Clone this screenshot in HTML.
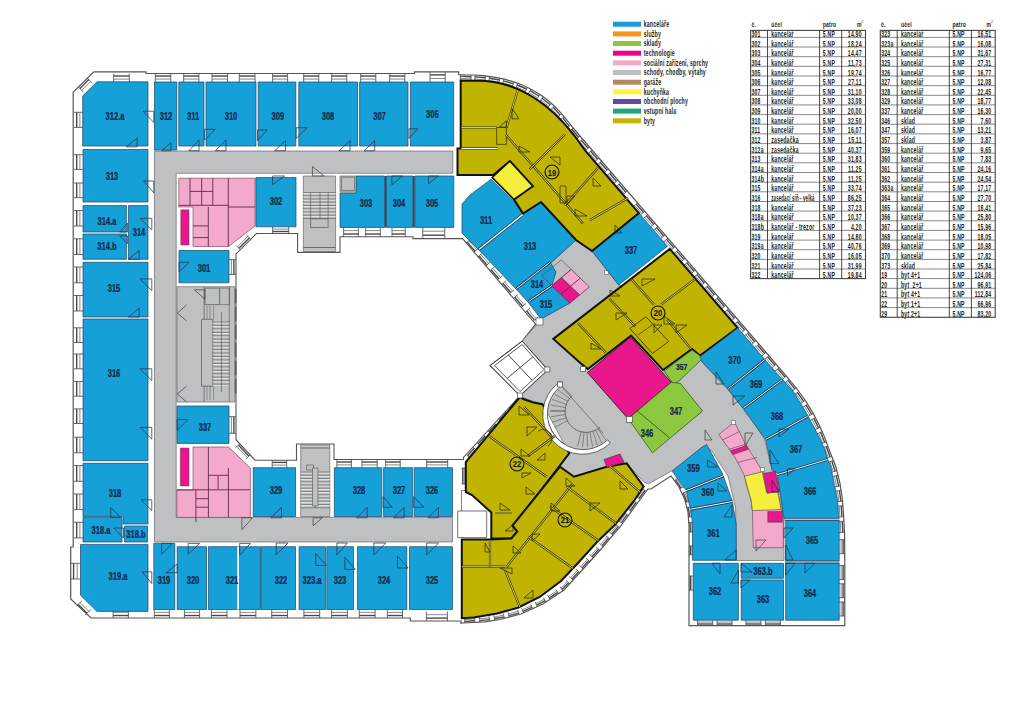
<!DOCTYPE html><html><head><meta charset="utf-8"><style>html,body{margin:0;padding:0;background:#fff;width:1024px;height:720px;overflow:hidden}svg{display:block;font-family:"Liberation Sans",sans-serif}</style></head><body>
<svg width="1024" height="720" viewBox="0 0 1024 720">
<rect width="1024" height="720" fill="#fff"/>
<polygon points="73.2,92.1 93.8,71.8 146.0,71.8 146.0,73.5 414.5,73.5 414.5,71.8 458.6,71.8 458.6,74.5 465.0,74.8 474.1,75.0 482.6,75.6 490.7,76.6 498.2,77.8 505.3,79.4 511.9,81.3 518.1,83.4 523.8,85.7 529.1,88.2 534.1,90.9 538.7,93.7 542.9,96.6 546.8,99.5 550.4,102.5 553.7,105.5 556.8,108.5 559.5,111.4 562.0,114.2 564.3,117.0 566.4,119.6 568.3,122.0 570.1,124.2 571.7,126.2 573.1,128.0 788.3,378.3 797.0,389.0 805.0,400.0 812.5,412.0 819.2,425.0 824.5,437.0 829.2,450.0 832.5,458.3 835.8,466.7 840.0,483.3 842.5,500.0 843.7,516.7 844.6,535.0 844.8,560.0 844.8,625.6 689.0,625.6 689.0,526.0 688.0,512.0 685.0,500.0 679.0,487.0 671.0,476.0 651.0,489.0 648.0,489.0 636.0,505.0 620.0,527.0 602.0,548.0 584.0,568.0 564.0,590.0 543.0,604.0 521.0,614.0 500.0,619.5 485.0,621.8 462.0,623.0 461.0,623.4 461.0,621.0 410.3,621.0 410.3,618.0 91.0,618.0 70.7,599.0 70.7,547.0 73.2,547.0" fill="#ffffff" stroke="#555555" stroke-width="1.20" stroke-linejoin="miter" />
<polygon points="236.0,253.8 256.5,233.5 297.6,233.5 297.6,252.4 340.0,252.4 340.0,236.8 413.0,236.8 413.0,238.6 462.6,238.6 535.6,324.2 522.2,341.1 490.2,365.6 520.0,395.6 463.5,457.5 463.5,459.5 334.0,459.5 334.0,444.0 296.5,444.0 296.5,460.2 255.0,460.2 236.0,439.7" fill="#ffffff" stroke="#555555" stroke-width="1.10" stroke-linejoin="miter" />
<line x1="272.6" y1="233.5" x2="272.6" y2="226.8" stroke="#444" stroke-width="0.80"/>
<line x1="288.8" y1="233.5" x2="288.8" y2="226.8" stroke="#444" stroke-width="0.80"/>
<line x1="272.6" y1="231.5" x2="288.8" y2="231.5" stroke="#4a4a4a" stroke-width="1.40"/>
<line x1="272.6" y1="229.1" x2="288.8" y2="229.1" stroke="#6a6a6a" stroke-width="0.80"/>
<line x1="343.6" y1="236.8" x2="343.6" y2="227.4" stroke="#444" stroke-width="0.80"/>
<line x1="358.3" y1="236.8" x2="358.3" y2="227.4" stroke="#444" stroke-width="0.80"/>
<line x1="343.6" y1="234.0" x2="358.3" y2="234.0" stroke="#4a4a4a" stroke-width="1.40"/>
<line x1="343.6" y1="230.6" x2="358.3" y2="230.6" stroke="#6a6a6a" stroke-width="0.80"/>
<line x1="365.6" y1="236.8" x2="365.6" y2="227.4" stroke="#444" stroke-width="0.80"/>
<line x1="380.3" y1="236.8" x2="380.3" y2="227.4" stroke="#444" stroke-width="0.80"/>
<line x1="365.6" y1="234.0" x2="380.3" y2="234.0" stroke="#4a4a4a" stroke-width="1.40"/>
<line x1="365.6" y1="230.6" x2="380.3" y2="230.6" stroke="#6a6a6a" stroke-width="0.80"/>
<line x1="392.0" y1="236.8" x2="392.0" y2="227.4" stroke="#444" stroke-width="0.80"/>
<line x1="405.2" y1="236.8" x2="405.2" y2="227.4" stroke="#444" stroke-width="0.80"/>
<line x1="392.0" y1="234.0" x2="405.2" y2="234.0" stroke="#4a4a4a" stroke-width="1.40"/>
<line x1="392.0" y1="230.6" x2="405.2" y2="230.6" stroke="#6a6a6a" stroke-width="0.80"/>
<line x1="422.8" y1="238.6" x2="422.8" y2="227.4" stroke="#444" stroke-width="0.80"/>
<line x1="444.8" y1="238.6" x2="444.8" y2="227.4" stroke="#444" stroke-width="0.80"/>
<line x1="422.8" y1="235.2" x2="444.8" y2="235.2" stroke="#4a4a4a" stroke-width="1.40"/>
<line x1="422.8" y1="231.2" x2="444.8" y2="231.2" stroke="#6a6a6a" stroke-width="0.80"/>
<line x1="236.0" y1="259.7" x2="229.0" y2="259.7" stroke="#444" stroke-width="0.80"/>
<line x1="236.0" y1="274.4" x2="229.0" y2="274.4" stroke="#444" stroke-width="0.80"/>
<line x1="233.9" y1="259.7" x2="233.9" y2="274.4" stroke="#4a4a4a" stroke-width="1.40"/>
<line x1="231.4" y1="259.7" x2="231.4" y2="274.4" stroke="#6a6a6a" stroke-width="0.80"/>
<line x1="236.0" y1="416.7" x2="229.0" y2="416.7" stroke="#444" stroke-width="0.80"/>
<line x1="236.0" y1="433.3" x2="229.0" y2="433.3" stroke="#444" stroke-width="0.80"/>
<line x1="233.9" y1="416.7" x2="233.9" y2="433.3" stroke="#4a4a4a" stroke-width="1.40"/>
<line x1="231.4" y1="416.7" x2="231.4" y2="433.3" stroke="#6a6a6a" stroke-width="0.80"/>
<line x1="236.0" y1="289.0" x2="234.8" y2="289.0" stroke="#444" stroke-width="0.80"/>
<line x1="236.0" y1="303.0" x2="234.8" y2="303.0" stroke="#444" stroke-width="0.80"/>
<line x1="235.6" y1="289.0" x2="235.6" y2="303.0" stroke="#4a4a4a" stroke-width="1.40"/>
<line x1="235.2" y1="289.0" x2="235.2" y2="303.0" stroke="#6a6a6a" stroke-width="0.80"/>
<line x1="236.0" y1="307.0" x2="234.8" y2="307.0" stroke="#444" stroke-width="0.80"/>
<line x1="236.0" y1="321.0" x2="234.8" y2="321.0" stroke="#444" stroke-width="0.80"/>
<line x1="235.6" y1="307.0" x2="235.6" y2="321.0" stroke="#4a4a4a" stroke-width="1.40"/>
<line x1="235.2" y1="307.0" x2="235.2" y2="321.0" stroke="#6a6a6a" stroke-width="0.80"/>
<line x1="236.0" y1="325.0" x2="234.8" y2="325.0" stroke="#444" stroke-width="0.80"/>
<line x1="236.0" y1="339.0" x2="234.8" y2="339.0" stroke="#444" stroke-width="0.80"/>
<line x1="235.6" y1="325.0" x2="235.6" y2="339.0" stroke="#4a4a4a" stroke-width="1.40"/>
<line x1="235.2" y1="325.0" x2="235.2" y2="339.0" stroke="#6a6a6a" stroke-width="0.80"/>
<line x1="236.0" y1="343.0" x2="234.8" y2="343.0" stroke="#444" stroke-width="0.80"/>
<line x1="236.0" y1="357.0" x2="234.8" y2="357.0" stroke="#444" stroke-width="0.80"/>
<line x1="235.6" y1="343.0" x2="235.6" y2="357.0" stroke="#4a4a4a" stroke-width="1.40"/>
<line x1="235.2" y1="343.0" x2="235.2" y2="357.0" stroke="#6a6a6a" stroke-width="0.80"/>
<line x1="236.0" y1="361.0" x2="234.8" y2="361.0" stroke="#444" stroke-width="0.80"/>
<line x1="236.0" y1="375.0" x2="234.8" y2="375.0" stroke="#444" stroke-width="0.80"/>
<line x1="235.6" y1="361.0" x2="235.6" y2="375.0" stroke="#4a4a4a" stroke-width="1.40"/>
<line x1="235.2" y1="361.0" x2="235.2" y2="375.0" stroke="#6a6a6a" stroke-width="0.80"/>
<line x1="236.0" y1="379.0" x2="234.8" y2="379.0" stroke="#444" stroke-width="0.80"/>
<line x1="236.0" y1="393.0" x2="234.8" y2="393.0" stroke="#444" stroke-width="0.80"/>
<line x1="235.6" y1="379.0" x2="235.6" y2="393.0" stroke="#4a4a4a" stroke-width="1.40"/>
<line x1="235.2" y1="379.0" x2="235.2" y2="393.0" stroke="#6a6a6a" stroke-width="0.80"/>
<line x1="272.2" y1="460.2" x2="272.2" y2="467.7" stroke="#444" stroke-width="0.80"/>
<line x1="286.7" y1="460.2" x2="286.7" y2="467.7" stroke="#444" stroke-width="0.80"/>
<line x1="272.2" y1="462.4" x2="286.7" y2="462.4" stroke="#4a4a4a" stroke-width="1.40"/>
<line x1="272.2" y1="465.1" x2="286.7" y2="465.1" stroke="#6a6a6a" stroke-width="0.80"/>
<line x1="336.9" y1="459.5" x2="336.9" y2="467.7" stroke="#444" stroke-width="0.80"/>
<line x1="351.4" y1="459.5" x2="351.4" y2="467.7" stroke="#444" stroke-width="0.80"/>
<line x1="336.9" y1="462.0" x2="351.4" y2="462.0" stroke="#4a4a4a" stroke-width="1.40"/>
<line x1="336.9" y1="464.9" x2="351.4" y2="464.9" stroke="#6a6a6a" stroke-width="0.80"/>
<line x1="362.0" y1="459.5" x2="362.0" y2="467.7" stroke="#444" stroke-width="0.80"/>
<line x1="377.2" y1="459.5" x2="377.2" y2="467.7" stroke="#444" stroke-width="0.80"/>
<line x1="362.0" y1="462.0" x2="377.2" y2="462.0" stroke="#4a4a4a" stroke-width="1.40"/>
<line x1="362.0" y1="464.9" x2="377.2" y2="464.9" stroke="#6a6a6a" stroke-width="0.80"/>
<line x1="385.7" y1="459.5" x2="385.7" y2="467.7" stroke="#444" stroke-width="0.80"/>
<line x1="400.2" y1="459.5" x2="400.2" y2="467.7" stroke="#444" stroke-width="0.80"/>
<line x1="385.7" y1="462.0" x2="400.2" y2="462.0" stroke="#4a4a4a" stroke-width="1.40"/>
<line x1="385.7" y1="464.9" x2="400.2" y2="464.9" stroke="#6a6a6a" stroke-width="0.80"/>
<line x1="426.6" y1="459.5" x2="426.6" y2="467.7" stroke="#444" stroke-width="0.80"/>
<line x1="447.7" y1="459.5" x2="447.7" y2="467.7" stroke="#444" stroke-width="0.80"/>
<line x1="426.6" y1="462.0" x2="447.7" y2="462.0" stroke="#4a4a4a" stroke-width="1.40"/>
<line x1="426.6" y1="464.9" x2="447.7" y2="464.9" stroke="#6a6a6a" stroke-width="0.80"/>
<line x1="240.2" y1="249.6" x2="236.0" y2="245.4" stroke="#444" stroke-width="0.80"/>
<line x1="250.6" y1="239.2" x2="246.4" y2="235.0" stroke="#444" stroke-width="0.80"/>
<line x1="238.9" y1="248.3" x2="249.3" y2="237.9" stroke="#4a4a4a" stroke-width="1.40"/>
<line x1="237.4" y1="246.8" x2="247.8" y2="236.4" stroke="#6a6a6a" stroke-width="0.80"/>
<line x1="239.8" y1="443.8" x2="235.4" y2="447.9" stroke="#444" stroke-width="0.80"/>
<line x1="250.2" y1="455.0" x2="245.8" y2="459.1" stroke="#444" stroke-width="0.80"/>
<line x1="238.5" y1="445.0" x2="248.9" y2="456.2" stroke="#4a4a4a" stroke-width="1.40"/>
<line x1="236.9" y1="446.5" x2="247.3" y2="457.7" stroke="#6a6a6a" stroke-width="0.80"/>
<line x1="465.8" y1="243.3" x2="470.5" y2="239.3" stroke="#444" stroke-width="0.80"/>
<line x1="473.7" y1="252.4" x2="478.3" y2="248.4" stroke="#444" stroke-width="0.80"/>
<line x1="467.2" y1="242.1" x2="475.1" y2="251.2" stroke="#4a4a4a" stroke-width="1.40"/>
<line x1="468.9" y1="240.7" x2="476.8" y2="249.7" stroke="#6a6a6a" stroke-width="0.80"/>
<line x1="477.7" y1="257.1" x2="482.4" y2="253.1" stroke="#444" stroke-width="0.80"/>
<line x1="485.5" y1="266.2" x2="490.2" y2="262.1" stroke="#444" stroke-width="0.80"/>
<line x1="479.1" y1="255.9" x2="487.0" y2="265.0" stroke="#4a4a4a" stroke-width="1.40"/>
<line x1="480.8" y1="254.4" x2="488.6" y2="263.5" stroke="#6a6a6a" stroke-width="0.80"/>
<line x1="489.6" y1="270.9" x2="494.3" y2="266.8" stroke="#444" stroke-width="0.80"/>
<line x1="497.4" y1="280.0" x2="502.1" y2="275.9" stroke="#444" stroke-width="0.80"/>
<line x1="491.0" y1="269.7" x2="498.8" y2="278.8" stroke="#4a4a4a" stroke-width="1.40"/>
<line x1="492.7" y1="268.2" x2="500.5" y2="277.3" stroke="#6a6a6a" stroke-width="0.80"/>
<line x1="501.5" y1="284.7" x2="506.2" y2="280.6" stroke="#444" stroke-width="0.80"/>
<line x1="509.3" y1="293.8" x2="514.0" y2="289.7" stroke="#444" stroke-width="0.80"/>
<line x1="502.9" y1="283.5" x2="510.7" y2="292.5" stroke="#4a4a4a" stroke-width="1.40"/>
<line x1="504.6" y1="282.0" x2="512.4" y2="291.1" stroke="#6a6a6a" stroke-width="0.80"/>
<line x1="513.4" y1="298.4" x2="518.1" y2="294.4" stroke="#444" stroke-width="0.80"/>
<line x1="521.2" y1="307.5" x2="525.9" y2="303.5" stroke="#444" stroke-width="0.80"/>
<line x1="514.8" y1="297.2" x2="522.6" y2="306.3" stroke="#4a4a4a" stroke-width="1.40"/>
<line x1="516.5" y1="295.8" x2="524.3" y2="304.9" stroke="#6a6a6a" stroke-width="0.80"/>
<line x1="525.3" y1="312.2" x2="530.0" y2="308.2" stroke="#444" stroke-width="0.80"/>
<line x1="533.1" y1="321.3" x2="537.8" y2="317.3" stroke="#444" stroke-width="0.80"/>
<line x1="526.7" y1="311.0" x2="534.5" y2="320.1" stroke="#4a4a4a" stroke-width="1.40"/>
<line x1="528.4" y1="309.5" x2="536.2" y2="318.6" stroke="#6a6a6a" stroke-width="0.80"/>
<line x1="515.7" y1="399.5" x2="519.4" y2="402.8" stroke="#444" stroke-width="0.80"/>
<line x1="509.1" y1="407.0" x2="512.8" y2="410.3" stroke="#444" stroke-width="0.80"/>
<line x1="516.8" y1="400.5" x2="510.2" y2="407.9" stroke="#4a4a4a" stroke-width="1.40"/>
<line x1="518.2" y1="401.7" x2="511.5" y2="409.1" stroke="#6a6a6a" stroke-width="0.80"/>
<line x1="505.1" y1="411.4" x2="508.8" y2="414.8" stroke="#444" stroke-width="0.80"/>
<line x1="498.4" y1="418.9" x2="502.2" y2="422.2" stroke="#444" stroke-width="0.80"/>
<line x1="506.2" y1="412.4" x2="499.5" y2="419.9" stroke="#4a4a4a" stroke-width="1.40"/>
<line x1="507.5" y1="413.6" x2="500.9" y2="421.1" stroke="#6a6a6a" stroke-width="0.80"/>
<line x1="494.4" y1="423.4" x2="498.2" y2="426.7" stroke="#444" stroke-width="0.80"/>
<line x1="487.8" y1="430.9" x2="491.5" y2="434.2" stroke="#444" stroke-width="0.80"/>
<line x1="495.6" y1="424.4" x2="488.9" y2="431.8" stroke="#4a4a4a" stroke-width="1.40"/>
<line x1="496.9" y1="425.6" x2="490.2" y2="433.0" stroke="#6a6a6a" stroke-width="0.80"/>
<line x1="483.8" y1="435.3" x2="487.5" y2="438.7" stroke="#444" stroke-width="0.80"/>
<line x1="477.1" y1="442.8" x2="480.9" y2="446.1" stroke="#444" stroke-width="0.80"/>
<line x1="484.9" y1="436.3" x2="478.3" y2="443.8" stroke="#4a4a4a" stroke-width="1.40"/>
<line x1="486.3" y1="437.5" x2="479.6" y2="445.0" stroke="#6a6a6a" stroke-width="0.80"/>
<line x1="473.2" y1="447.3" x2="476.9" y2="450.6" stroke="#444" stroke-width="0.80"/>
<line x1="466.5" y1="454.8" x2="470.2" y2="458.1" stroke="#444" stroke-width="0.80"/>
<line x1="474.3" y1="448.3" x2="467.6" y2="455.7" stroke="#4a4a4a" stroke-width="1.40"/>
<line x1="475.6" y1="449.5" x2="469.0" y2="456.9" stroke="#6a6a6a" stroke-width="0.80"/>
<polygon points="457.7,511.0 486.7,511.0 486.7,537.6 457.7,537.6" fill="none" stroke="#505050" stroke-width="0.80" stroke-linejoin="miter" />
<polyline points="461.5,511.0 461.5,490.5 486.7,490.5" fill="none" stroke="#505050" stroke-width="0.70"/>
<line x1="461.5" y1="468.0" x2="465.8" y2="468.0" stroke="#444" stroke-width="0.80"/>
<line x1="461.5" y1="484.0" x2="465.8" y2="484.0" stroke="#444" stroke-width="0.80"/>
<line x1="462.8" y1="468.0" x2="462.8" y2="484.0" stroke="#4a4a4a" stroke-width="1.40"/>
<line x1="464.3" y1="468.0" x2="464.3" y2="484.0" stroke="#6a6a6a" stroke-width="0.80"/>
<line x1="460.6" y1="74.6" x2="460.3" y2="80.6" stroke="#444" stroke-width="0.80"/>
<line x1="471.1" y1="74.9" x2="471.0" y2="80.9" stroke="#444" stroke-width="0.80"/>
<line x1="460.5" y1="76.4" x2="471.1" y2="76.7" stroke="#4a4a4a" stroke-width="1.40"/>
<line x1="460.4" y1="78.5" x2="471.0" y2="78.9" stroke="#6a6a6a" stroke-width="0.80"/>
<line x1="475.1" y1="75.1" x2="474.7" y2="81.1" stroke="#444" stroke-width="0.80"/>
<line x1="485.5" y1="75.9" x2="484.8" y2="81.9" stroke="#444" stroke-width="0.80"/>
<line x1="475.0" y1="76.9" x2="485.3" y2="77.7" stroke="#4a4a4a" stroke-width="1.40"/>
<line x1="474.8" y1="79.0" x2="485.1" y2="79.9" stroke="#6a6a6a" stroke-width="0.80"/>
<line x1="489.5" y1="76.4" x2="488.8" y2="82.4" stroke="#444" stroke-width="0.80"/>
<line x1="499.9" y1="78.2" x2="498.5" y2="84.1" stroke="#444" stroke-width="0.80"/>
<line x1="489.3" y1="78.2" x2="499.5" y2="80.0" stroke="#4a4a4a" stroke-width="1.40"/>
<line x1="489.1" y1="80.4" x2="499.0" y2="82.1" stroke="#6a6a6a" stroke-width="0.80"/>
<line x1="503.8" y1="79.1" x2="502.4" y2="84.9" stroke="#444" stroke-width="0.80"/>
<line x1="513.9" y1="82.0" x2="511.9" y2="87.6" stroke="#444" stroke-width="0.80"/>
<line x1="503.4" y1="80.9" x2="513.3" y2="83.7" stroke="#4a4a4a" stroke-width="1.40"/>
<line x1="502.9" y1="83.0" x2="512.6" y2="85.7" stroke="#6a6a6a" stroke-width="0.80"/>
<line x1="517.6" y1="83.3" x2="515.7" y2="88.9" stroke="#444" stroke-width="0.80"/>
<line x1="527.3" y1="87.4" x2="524.8" y2="92.8" stroke="#444" stroke-width="0.80"/>
<line x1="517.1" y1="85.0" x2="526.5" y2="89.0" stroke="#4a4a4a" stroke-width="1.40"/>
<line x1="516.4" y1="87.0" x2="525.6" y2="91.0" stroke="#6a6a6a" stroke-width="0.80"/>
<line x1="530.9" y1="89.2" x2="528.0" y2="94.4" stroke="#444" stroke-width="0.80"/>
<line x1="539.9" y1="94.5" x2="536.5" y2="99.5" stroke="#444" stroke-width="0.80"/>
<line x1="530.0" y1="90.7" x2="538.9" y2="96.0" stroke="#4a4a4a" stroke-width="1.40"/>
<line x1="529.0" y1="92.6" x2="537.7" y2="97.8" stroke="#6a6a6a" stroke-width="0.80"/>
<line x1="543.2" y1="96.8" x2="539.6" y2="101.6" stroke="#444" stroke-width="0.80"/>
<line x1="551.4" y1="103.4" x2="547.3" y2="107.8" stroke="#444" stroke-width="0.80"/>
<line x1="542.1" y1="98.2" x2="550.2" y2="104.7" stroke="#4a4a4a" stroke-width="1.40"/>
<line x1="540.8" y1="99.9" x2="548.7" y2="106.3" stroke="#6a6a6a" stroke-width="0.80"/>
<line x1="554.3" y1="106.1" x2="550.1" y2="110.3" stroke="#444" stroke-width="0.80"/>
<line x1="561.5" y1="113.7" x2="557.1" y2="117.7" stroke="#444" stroke-width="0.80"/>
<line x1="553.1" y1="107.3" x2="560.2" y2="114.9" stroke="#4a4a4a" stroke-width="1.40"/>
<line x1="551.5" y1="108.9" x2="558.6" y2="116.3" stroke="#6a6a6a" stroke-width="0.80"/>
<line x1="564.1" y1="116.7" x2="559.5" y2="120.6" stroke="#444" stroke-width="0.80"/>
<line x1="570.6" y1="125.0" x2="565.9" y2="128.7" stroke="#444" stroke-width="0.80"/>
<line x1="562.8" y1="117.9" x2="569.2" y2="126.1" stroke="#4a4a4a" stroke-width="1.40"/>
<line x1="561.1" y1="119.3" x2="567.5" y2="127.4" stroke="#6a6a6a" stroke-width="0.80"/>
<line x1="573.2" y1="128.1" x2="568.6" y2="132.0" stroke="#444" stroke-width="0.80"/>
<line x1="580.0" y1="136.0" x2="575.5" y2="139.9" stroke="#444" stroke-width="0.80"/>
<line x1="571.8" y1="129.2" x2="578.6" y2="137.2" stroke="#4a4a4a" stroke-width="1.40"/>
<line x1="570.2" y1="130.7" x2="577.0" y2="138.6" stroke="#6a6a6a" stroke-width="0.80"/>
<line x1="582.6" y1="139.1" x2="578.1" y2="143.0" stroke="#444" stroke-width="0.80"/>
<line x1="589.5" y1="147.0" x2="584.9" y2="150.9" stroke="#444" stroke-width="0.80"/>
<line x1="581.2" y1="140.2" x2="588.1" y2="148.2" stroke="#4a4a4a" stroke-width="1.40"/>
<line x1="579.6" y1="141.6" x2="586.5" y2="149.6" stroke="#6a6a6a" stroke-width="0.80"/>
<line x1="592.1" y1="150.1" x2="587.5" y2="154.0" stroke="#444" stroke-width="0.80"/>
<line x1="598.9" y1="158.0" x2="594.4" y2="161.9" stroke="#444" stroke-width="0.80"/>
<line x1="590.7" y1="151.2" x2="597.5" y2="159.2" stroke="#4a4a4a" stroke-width="1.40"/>
<line x1="589.1" y1="152.6" x2="595.9" y2="160.6" stroke="#6a6a6a" stroke-width="0.80"/>
<line x1="601.5" y1="161.1" x2="597.0" y2="165.0" stroke="#444" stroke-width="0.80"/>
<line x1="608.4" y1="169.0" x2="603.8" y2="172.9" stroke="#444" stroke-width="0.80"/>
<line x1="600.1" y1="162.2" x2="607.0" y2="170.2" stroke="#4a4a4a" stroke-width="1.40"/>
<line x1="598.5" y1="163.6" x2="605.4" y2="171.6" stroke="#6a6a6a" stroke-width="0.80"/>
<line x1="611.0" y1="172.1" x2="606.4" y2="176.0" stroke="#444" stroke-width="0.80"/>
<line x1="617.8" y1="180.0" x2="613.3" y2="183.9" stroke="#444" stroke-width="0.80"/>
<line x1="609.6" y1="173.2" x2="616.4" y2="181.2" stroke="#4a4a4a" stroke-width="1.40"/>
<line x1="608.0" y1="174.6" x2="614.8" y2="182.6" stroke="#6a6a6a" stroke-width="0.80"/>
<line x1="620.4" y1="183.1" x2="615.9" y2="187.0" stroke="#444" stroke-width="0.80"/>
<line x1="627.3" y1="191.0" x2="622.7" y2="194.9" stroke="#444" stroke-width="0.80"/>
<line x1="619.0" y1="184.2" x2="625.9" y2="192.2" stroke="#4a4a4a" stroke-width="1.40"/>
<line x1="617.4" y1="185.6" x2="624.3" y2="193.6" stroke="#6a6a6a" stroke-width="0.80"/>
<line x1="637.6" y1="203.0" x2="633.3" y2="206.7" stroke="#444" stroke-width="0.80"/>
<line x1="644.8" y1="211.4" x2="640.5" y2="215.0" stroke="#444" stroke-width="0.80"/>
<line x1="636.3" y1="204.1" x2="643.5" y2="212.5" stroke="#4a4a4a" stroke-width="1.40"/>
<line x1="634.8" y1="205.4" x2="642.0" y2="213.8" stroke="#6a6a6a" stroke-width="0.80"/>
<line x1="647.7" y1="214.8" x2="643.4" y2="218.4" stroke="#444" stroke-width="0.80"/>
<line x1="654.9" y1="223.1" x2="650.6" y2="226.8" stroke="#444" stroke-width="0.80"/>
<line x1="646.4" y1="215.9" x2="653.6" y2="224.2" stroke="#4a4a4a" stroke-width="1.40"/>
<line x1="644.9" y1="217.2" x2="652.1" y2="225.5" stroke="#6a6a6a" stroke-width="0.80"/>
<line x1="657.8" y1="226.5" x2="653.5" y2="230.2" stroke="#444" stroke-width="0.80"/>
<line x1="665.0" y1="234.9" x2="660.7" y2="238.5" stroke="#444" stroke-width="0.80"/>
<line x1="656.5" y1="227.6" x2="663.7" y2="236.0" stroke="#4a4a4a" stroke-width="1.40"/>
<line x1="655.0" y1="228.9" x2="662.2" y2="237.3" stroke="#6a6a6a" stroke-width="0.80"/>
<line x1="667.9" y1="238.3" x2="663.7" y2="241.9" stroke="#444" stroke-width="0.80"/>
<line x1="675.1" y1="246.6" x2="670.8" y2="250.3" stroke="#444" stroke-width="0.80"/>
<line x1="666.6" y1="239.4" x2="673.8" y2="247.7" stroke="#4a4a4a" stroke-width="1.40"/>
<line x1="665.1" y1="240.7" x2="672.3" y2="249.0" stroke="#6a6a6a" stroke-width="0.80"/>
<line x1="678.0" y1="250.0" x2="673.8" y2="253.7" stroke="#444" stroke-width="0.80"/>
<line x1="685.2" y1="258.4" x2="680.9" y2="262.0" stroke="#444" stroke-width="0.80"/>
<line x1="676.7" y1="251.1" x2="683.9" y2="259.5" stroke="#4a4a4a" stroke-width="1.40"/>
<line x1="675.2" y1="252.5" x2="682.4" y2="260.8" stroke="#6a6a6a" stroke-width="0.80"/>
<line x1="688.1" y1="261.8" x2="683.9" y2="265.4" stroke="#444" stroke-width="0.80"/>
<line x1="695.3" y1="270.1" x2="691.0" y2="273.8" stroke="#444" stroke-width="0.80"/>
<line x1="686.8" y1="262.9" x2="694.0" y2="271.2" stroke="#4a4a4a" stroke-width="1.40"/>
<line x1="685.3" y1="264.2" x2="692.5" y2="272.5" stroke="#6a6a6a" stroke-width="0.80"/>
<line x1="698.2" y1="273.5" x2="694.0" y2="277.2" stroke="#444" stroke-width="0.80"/>
<line x1="705.4" y1="281.9" x2="701.1" y2="285.5" stroke="#444" stroke-width="0.80"/>
<line x1="696.9" y1="274.6" x2="704.1" y2="283.0" stroke="#4a4a4a" stroke-width="1.40"/>
<line x1="695.4" y1="276.0" x2="702.6" y2="284.3" stroke="#6a6a6a" stroke-width="0.80"/>
<line x1="708.3" y1="285.3" x2="704.1" y2="289.0" stroke="#444" stroke-width="0.80"/>
<line x1="715.5" y1="293.6" x2="711.2" y2="297.3" stroke="#444" stroke-width="0.80"/>
<line x1="707.0" y1="286.4" x2="714.2" y2="294.7" stroke="#4a4a4a" stroke-width="1.40"/>
<line x1="705.5" y1="287.7" x2="712.7" y2="296.1" stroke="#6a6a6a" stroke-width="0.80"/>
<line x1="718.4" y1="297.1" x2="714.2" y2="300.7" stroke="#444" stroke-width="0.80"/>
<line x1="725.6" y1="305.4" x2="721.4" y2="309.0" stroke="#444" stroke-width="0.80"/>
<line x1="717.2" y1="298.2" x2="724.3" y2="306.5" stroke="#4a4a4a" stroke-width="1.40"/>
<line x1="715.6" y1="299.5" x2="722.8" y2="307.8" stroke="#6a6a6a" stroke-width="0.80"/>
<line x1="728.5" y1="308.8" x2="724.3" y2="312.5" stroke="#444" stroke-width="0.80"/>
<line x1="735.7" y1="317.1" x2="731.5" y2="320.8" stroke="#444" stroke-width="0.80"/>
<line x1="727.3" y1="309.9" x2="734.4" y2="318.2" stroke="#4a4a4a" stroke-width="1.40"/>
<line x1="725.7" y1="311.2" x2="732.9" y2="319.6" stroke="#6a6a6a" stroke-width="0.80"/>
<line x1="738.6" y1="320.6" x2="734.4" y2="324.2" stroke="#444" stroke-width="0.80"/>
<line x1="745.8" y1="328.9" x2="741.6" y2="332.6" stroke="#444" stroke-width="0.80"/>
<line x1="737.4" y1="321.7" x2="744.5" y2="330.0" stroke="#4a4a4a" stroke-width="1.40"/>
<line x1="735.8" y1="323.0" x2="743.0" y2="331.3" stroke="#6a6a6a" stroke-width="0.80"/>
<line x1="748.7" y1="332.3" x2="744.5" y2="336.0" stroke="#444" stroke-width="0.80"/>
<line x1="755.9" y1="340.7" x2="751.7" y2="344.3" stroke="#444" stroke-width="0.80"/>
<line x1="747.5" y1="333.4" x2="754.6" y2="341.7" stroke="#4a4a4a" stroke-width="1.40"/>
<line x1="745.9" y1="334.7" x2="753.1" y2="343.1" stroke="#6a6a6a" stroke-width="0.80"/>
<line x1="758.9" y1="344.1" x2="754.6" y2="347.7" stroke="#444" stroke-width="0.80"/>
<line x1="766.0" y1="352.4" x2="761.8" y2="356.1" stroke="#444" stroke-width="0.80"/>
<line x1="757.6" y1="345.2" x2="764.7" y2="353.5" stroke="#4a4a4a" stroke-width="1.40"/>
<line x1="756.0" y1="346.5" x2="763.2" y2="354.8" stroke="#6a6a6a" stroke-width="0.80"/>
<line x1="769.0" y1="355.8" x2="764.7" y2="359.5" stroke="#444" stroke-width="0.80"/>
<line x1="776.1" y1="364.2" x2="771.9" y2="367.8" stroke="#444" stroke-width="0.80"/>
<line x1="767.7" y1="356.9" x2="774.9" y2="365.3" stroke="#4a4a4a" stroke-width="1.40"/>
<line x1="766.2" y1="358.2" x2="773.3" y2="366.6" stroke="#6a6a6a" stroke-width="0.80"/>
<line x1="779.1" y1="367.6" x2="774.8" y2="371.2" stroke="#444" stroke-width="0.80"/>
<line x1="786.2" y1="375.9" x2="782.0" y2="379.6" stroke="#444" stroke-width="0.80"/>
<line x1="777.8" y1="368.7" x2="785.0" y2="377.0" stroke="#4a4a4a" stroke-width="1.40"/>
<line x1="776.3" y1="370.0" x2="783.4" y2="378.3" stroke="#6a6a6a" stroke-width="0.80"/>
<line x1="789.1" y1="379.3" x2="784.8" y2="382.9" stroke="#444" stroke-width="0.80"/>
<line x1="796.1" y1="387.9" x2="791.7" y2="391.4" stroke="#444" stroke-width="0.80"/>
<line x1="787.8" y1="380.4" x2="794.8" y2="388.9" stroke="#4a4a4a" stroke-width="1.40"/>
<line x1="786.3" y1="381.7" x2="793.2" y2="390.2" stroke="#6a6a6a" stroke-width="0.80"/>
<line x1="798.8" y1="391.5" x2="794.3" y2="394.8" stroke="#444" stroke-width="0.80"/>
<line x1="805.2" y1="400.4" x2="800.5" y2="403.4" stroke="#444" stroke-width="0.80"/>
<line x1="797.4" y1="392.5" x2="803.8" y2="401.3" stroke="#4a4a4a" stroke-width="1.40"/>
<line x1="795.8" y1="393.6" x2="802.1" y2="402.3" stroke="#6a6a6a" stroke-width="0.80"/>
<line x1="807.6" y1="404.2" x2="802.9" y2="407.2" stroke="#444" stroke-width="0.80"/>
<line x1="813.3" y1="413.6" x2="808.3" y2="416.2" stroke="#444" stroke-width="0.80"/>
<line x1="806.2" y1="405.1" x2="811.8" y2="414.4" stroke="#4a4a4a" stroke-width="1.40"/>
<line x1="804.5" y1="406.2" x2="810.0" y2="415.3" stroke="#6a6a6a" stroke-width="0.80"/>
<line x1="815.4" y1="417.6" x2="810.4" y2="420.2" stroke="#444" stroke-width="0.80"/>
<line x1="820.3" y1="427.4" x2="815.2" y2="429.7" stroke="#444" stroke-width="0.80"/>
<line x1="813.9" y1="418.4" x2="818.7" y2="428.1" stroke="#4a4a4a" stroke-width="1.40"/>
<line x1="812.1" y1="419.3" x2="816.9" y2="428.9" stroke="#6a6a6a" stroke-width="0.80"/>
<line x1="822.1" y1="431.6" x2="817.0" y2="433.8" stroke="#444" stroke-width="0.80"/>
<line x1="826.2" y1="441.8" x2="821.0" y2="443.7" stroke="#444" stroke-width="0.80"/>
<line x1="820.6" y1="432.2" x2="824.6" y2="442.3" stroke="#4a4a4a" stroke-width="1.40"/>
<line x1="818.7" y1="433.1" x2="822.7" y2="443.0" stroke="#6a6a6a" stroke-width="0.80"/>
<line x1="827.7" y1="446.0" x2="822.5" y2="447.9" stroke="#444" stroke-width="0.80"/>
<line x1="831.7" y1="456.3" x2="826.5" y2="458.3" stroke="#444" stroke-width="0.80"/>
<line x1="826.2" y1="446.6" x2="830.1" y2="456.9" stroke="#4a4a4a" stroke-width="1.40"/>
<line x1="824.3" y1="447.2" x2="828.3" y2="457.6" stroke="#6a6a6a" stroke-width="0.80"/>
<line x1="833.3" y1="460.4" x2="828.1" y2="462.5" stroke="#444" stroke-width="0.80"/>
<line x1="836.8" y1="470.8" x2="831.4" y2="472.2" stroke="#444" stroke-width="0.80"/>
<line x1="831.8" y1="461.1" x2="835.2" y2="471.3" stroke="#4a4a4a" stroke-width="1.40"/>
<line x1="829.9" y1="461.8" x2="833.3" y2="471.8" stroke="#6a6a6a" stroke-width="0.80"/>
<line x1="838.0" y1="475.2" x2="832.5" y2="476.6" stroke="#444" stroke-width="0.80"/>
<line x1="840.4" y1="485.9" x2="834.9" y2="486.8" stroke="#444" stroke-width="0.80"/>
<line x1="836.3" y1="475.6" x2="838.7" y2="486.2" stroke="#4a4a4a" stroke-width="1.40"/>
<line x1="834.4" y1="476.1" x2="836.7" y2="486.5" stroke="#6a6a6a" stroke-width="0.80"/>
<line x1="841.1" y1="490.4" x2="835.5" y2="491.2" stroke="#444" stroke-width="0.80"/>
<line x1="842.6" y1="501.3" x2="837.0" y2="501.7" stroke="#444" stroke-width="0.80"/>
<line x1="839.4" y1="490.6" x2="840.9" y2="501.4" stroke="#4a4a4a" stroke-width="1.40"/>
<line x1="837.4" y1="490.9" x2="838.9" y2="501.5" stroke="#6a6a6a" stroke-width="0.80"/>
<line x1="842.9" y1="505.8" x2="837.3" y2="506.2" stroke="#444" stroke-width="0.80"/>
<line x1="843.7" y1="516.7" x2="838.1" y2="517.0" stroke="#444" stroke-width="0.80"/>
<line x1="841.2" y1="505.9" x2="842.0" y2="516.8" stroke="#4a4a4a" stroke-width="1.40"/>
<line x1="839.2" y1="506.0" x2="840.0" y2="516.9" stroke="#6a6a6a" stroke-width="0.80"/>
<line x1="843.9" y1="521.2" x2="838.3" y2="521.5" stroke="#444" stroke-width="0.80"/>
<line x1="844.5" y1="532.2" x2="838.9" y2="532.5" stroke="#444" stroke-width="0.80"/>
<line x1="842.2" y1="521.3" x2="842.8" y2="532.3" stroke="#4a4a4a" stroke-width="1.40"/>
<line x1="840.2" y1="521.4" x2="840.8" y2="532.4" stroke="#6a6a6a" stroke-width="0.80"/>
<line x1="844.8" y1="539.7" x2="839.2" y2="539.7" stroke="#444" stroke-width="0.80"/>
<line x1="844.8" y1="553.7" x2="839.2" y2="553.7" stroke="#444" stroke-width="0.80"/>
<line x1="843.1" y1="539.7" x2="843.1" y2="553.7" stroke="#4a4a4a" stroke-width="1.40"/>
<line x1="841.1" y1="539.7" x2="841.1" y2="553.7" stroke="#6a6a6a" stroke-width="0.80"/>
<line x1="844.8" y1="565.5" x2="839.2" y2="565.5" stroke="#444" stroke-width="0.80"/>
<line x1="844.8" y1="579.5" x2="839.2" y2="579.5" stroke="#444" stroke-width="0.80"/>
<line x1="843.1" y1="565.5" x2="843.1" y2="579.5" stroke="#4a4a4a" stroke-width="1.40"/>
<line x1="841.1" y1="565.5" x2="841.1" y2="579.5" stroke="#6a6a6a" stroke-width="0.80"/>
<line x1="844.8" y1="583.8" x2="839.2" y2="583.8" stroke="#444" stroke-width="0.80"/>
<line x1="844.8" y1="597.7" x2="839.2" y2="597.7" stroke="#444" stroke-width="0.80"/>
<line x1="843.1" y1="583.8" x2="843.1" y2="597.7" stroke="#4a4a4a" stroke-width="1.40"/>
<line x1="841.1" y1="583.8" x2="841.1" y2="597.7" stroke="#6a6a6a" stroke-width="0.80"/>
<line x1="844.8" y1="602.0" x2="839.2" y2="602.0" stroke="#444" stroke-width="0.80"/>
<line x1="844.8" y1="616.0" x2="839.2" y2="616.0" stroke="#444" stroke-width="0.80"/>
<line x1="843.1" y1="602.0" x2="843.1" y2="616.0" stroke="#4a4a4a" stroke-width="1.40"/>
<line x1="841.1" y1="602.0" x2="841.1" y2="616.0" stroke="#6a6a6a" stroke-width="0.80"/>
<line x1="697.6" y1="625.6" x2="697.6" y2="620.2" stroke="#444" stroke-width="0.80"/>
<line x1="712.7" y1="625.6" x2="712.7" y2="620.2" stroke="#444" stroke-width="0.80"/>
<line x1="697.6" y1="624.0" x2="712.7" y2="624.0" stroke="#4a4a4a" stroke-width="1.40"/>
<line x1="697.6" y1="622.0" x2="712.7" y2="622.0" stroke="#6a6a6a" stroke-width="0.80"/>
<line x1="717.0" y1="625.6" x2="717.0" y2="620.2" stroke="#444" stroke-width="0.80"/>
<line x1="732.0" y1="625.6" x2="732.0" y2="620.2" stroke="#444" stroke-width="0.80"/>
<line x1="717.0" y1="624.0" x2="732.0" y2="624.0" stroke="#4a4a4a" stroke-width="1.40"/>
<line x1="717.0" y1="622.0" x2="732.0" y2="622.0" stroke="#6a6a6a" stroke-width="0.80"/>
<line x1="746.0" y1="625.6" x2="746.0" y2="620.2" stroke="#444" stroke-width="0.80"/>
<line x1="761.0" y1="625.6" x2="761.0" y2="620.2" stroke="#444" stroke-width="0.80"/>
<line x1="746.0" y1="624.0" x2="761.0" y2="624.0" stroke="#4a4a4a" stroke-width="1.40"/>
<line x1="746.0" y1="622.0" x2="761.0" y2="622.0" stroke="#6a6a6a" stroke-width="0.80"/>
<line x1="765.4" y1="625.6" x2="765.4" y2="620.2" stroke="#444" stroke-width="0.80"/>
<line x1="780.4" y1="625.6" x2="780.4" y2="620.2" stroke="#444" stroke-width="0.80"/>
<line x1="765.4" y1="624.0" x2="780.4" y2="624.0" stroke="#4a4a4a" stroke-width="1.40"/>
<line x1="765.4" y1="622.0" x2="780.4" y2="622.0" stroke="#6a6a6a" stroke-width="0.80"/>
<line x1="689.0" y1="546.0" x2="693.3" y2="546.0" stroke="#444" stroke-width="0.80"/>
<line x1="689.0" y1="554.7" x2="693.3" y2="554.7" stroke="#444" stroke-width="0.80"/>
<line x1="690.3" y1="546.0" x2="690.3" y2="554.7" stroke="#4a4a4a" stroke-width="1.40"/>
<line x1="691.8" y1="546.0" x2="691.8" y2="554.7" stroke="#6a6a6a" stroke-width="0.80"/>
<line x1="689.0" y1="576.0" x2="693.3" y2="576.0" stroke="#444" stroke-width="0.80"/>
<line x1="689.0" y1="590.0" x2="693.3" y2="590.0" stroke="#444" stroke-width="0.80"/>
<line x1="690.3" y1="576.0" x2="690.3" y2="590.0" stroke="#4a4a4a" stroke-width="1.40"/>
<line x1="691.8" y1="576.0" x2="691.8" y2="590.0" stroke="#6a6a6a" stroke-width="0.80"/>
<line x1="689.0" y1="532.0" x2="693.5" y2="532.0" stroke="#444" stroke-width="0.80"/>
<line x1="688.8" y1="522.5" x2="693.2" y2="522.2" stroke="#444" stroke-width="0.80"/>
<line x1="690.4" y1="532.0" x2="690.1" y2="522.4" stroke="#4a4a4a" stroke-width="1.40"/>
<line x1="692.0" y1="532.0" x2="691.7" y2="522.3" stroke="#6a6a6a" stroke-width="0.80"/>
<line x1="688.4" y1="517.0" x2="692.8" y2="516.7" stroke="#444" stroke-width="0.80"/>
<line x1="686.9" y1="507.7" x2="691.3" y2="506.6" stroke="#444" stroke-width="0.80"/>
<line x1="689.7" y1="516.9" x2="688.2" y2="507.3" stroke="#4a4a4a" stroke-width="1.40"/>
<line x1="691.3" y1="516.8" x2="689.8" y2="506.9" stroke="#6a6a6a" stroke-width="0.80"/>
<line x1="685.6" y1="502.3" x2="689.9" y2="501.2" stroke="#444" stroke-width="0.80"/>
<line x1="682.0" y1="493.6" x2="686.1" y2="491.7" stroke="#444" stroke-width="0.80"/>
<line x1="686.9" y1="502.0" x2="683.3" y2="493.0" stroke="#4a4a4a" stroke-width="1.40"/>
<line x1="688.5" y1="501.6" x2="684.7" y2="492.3" stroke="#6a6a6a" stroke-width="0.80"/>
<line x1="679.7" y1="488.6" x2="683.8" y2="486.7" stroke="#444" stroke-width="0.80"/>
<line x1="674.4" y1="480.7" x2="678.1" y2="478.1" stroke="#444" stroke-width="0.80"/>
<line x1="680.9" y1="488.0" x2="675.5" y2="479.9" stroke="#4a4a4a" stroke-width="1.40"/>
<line x1="682.4" y1="487.3" x2="676.8" y2="479.0" stroke="#6a6a6a" stroke-width="0.80"/>
<line x1="646.2" y1="491.4" x2="642.2" y2="488.4" stroke="#444" stroke-width="0.80"/>
<line x1="640.2" y1="499.4" x2="636.2" y2="496.4" stroke="#444" stroke-width="0.80"/>
<line x1="645.0" y1="490.5" x2="639.0" y2="498.5" stroke="#4a4a4a" stroke-width="1.40"/>
<line x1="643.6" y1="489.4" x2="637.6" y2="497.4" stroke="#6a6a6a" stroke-width="0.80"/>
<line x1="637.2" y1="503.4" x2="633.2" y2="500.4" stroke="#444" stroke-width="0.80"/>
<line x1="631.3" y1="511.5" x2="627.3" y2="508.5" stroke="#444" stroke-width="0.80"/>
<line x1="636.0" y1="502.5" x2="630.1" y2="510.6" stroke="#4a4a4a" stroke-width="1.40"/>
<line x1="634.6" y1="501.4" x2="628.6" y2="509.5" stroke="#6a6a6a" stroke-width="0.80"/>
<line x1="628.4" y1="515.5" x2="624.3" y2="512.6" stroke="#444" stroke-width="0.80"/>
<line x1="622.5" y1="523.6" x2="618.4" y2="520.7" stroke="#444" stroke-width="0.80"/>
<line x1="627.1" y1="514.6" x2="621.3" y2="522.7" stroke="#4a4a4a" stroke-width="1.40"/>
<line x1="625.7" y1="513.6" x2="619.8" y2="521.7" stroke="#6a6a6a" stroke-width="0.80"/>
<line x1="619.5" y1="527.6" x2="615.7" y2="524.4" stroke="#444" stroke-width="0.80"/>
<line x1="613.0" y1="535.2" x2="609.2" y2="531.9" stroke="#444" stroke-width="0.80"/>
<line x1="618.3" y1="526.6" x2="611.8" y2="534.2" stroke="#4a4a4a" stroke-width="1.40"/>
<line x1="617.0" y1="525.5" x2="610.5" y2="533.1" stroke="#6a6a6a" stroke-width="0.80"/>
<line x1="609.7" y1="539.0" x2="605.9" y2="535.7" stroke="#444" stroke-width="0.80"/>
<line x1="603.2" y1="546.6" x2="599.4" y2="543.3" stroke="#444" stroke-width="0.80"/>
<line x1="608.6" y1="538.0" x2="602.1" y2="545.6" stroke="#4a4a4a" stroke-width="1.40"/>
<line x1="607.2" y1="536.8" x2="600.7" y2="544.4" stroke="#6a6a6a" stroke-width="0.80"/>
<line x1="599.9" y1="550.3" x2="596.2" y2="547.0" stroke="#444" stroke-width="0.80"/>
<line x1="593.2" y1="557.8" x2="589.5" y2="554.4" stroke="#444" stroke-width="0.80"/>
<line x1="598.8" y1="549.3" x2="592.1" y2="556.8" stroke="#4a4a4a" stroke-width="1.40"/>
<line x1="597.4" y1="548.1" x2="590.8" y2="555.6" stroke="#6a6a6a" stroke-width="0.80"/>
<line x1="589.9" y1="561.5" x2="586.1" y2="558.1" stroke="#444" stroke-width="0.80"/>
<line x1="583.2" y1="568.9" x2="579.5" y2="565.5" stroke="#444" stroke-width="0.80"/>
<line x1="588.8" y1="560.5" x2="582.1" y2="567.9" stroke="#4a4a4a" stroke-width="1.40"/>
<line x1="587.4" y1="559.3" x2="580.7" y2="566.7" stroke="#6a6a6a" stroke-width="0.80"/>
<line x1="579.8" y1="572.6" x2="576.1" y2="569.2" stroke="#444" stroke-width="0.80"/>
<line x1="573.1" y1="580.0" x2="569.4" y2="576.6" stroke="#444" stroke-width="0.80"/>
<line x1="578.7" y1="571.6" x2="572.0" y2="579.0" stroke="#4a4a4a" stroke-width="1.40"/>
<line x1="577.4" y1="570.4" x2="570.6" y2="577.8" stroke="#6a6a6a" stroke-width="0.80"/>
<line x1="569.7" y1="583.7" x2="566.0" y2="580.3" stroke="#444" stroke-width="0.80"/>
<line x1="562.8" y1="590.8" x2="560.0" y2="586.7" stroke="#444" stroke-width="0.80"/>
<line x1="568.6" y1="582.7" x2="561.9" y2="589.6" stroke="#4a4a4a" stroke-width="1.40"/>
<line x1="567.3" y1="581.5" x2="560.9" y2="588.1" stroke="#6a6a6a" stroke-width="0.80"/>
<line x1="558.6" y1="593.6" x2="555.8" y2="589.4" stroke="#444" stroke-width="0.80"/>
<line x1="550.3" y1="599.2" x2="547.5" y2="595.0" stroke="#444" stroke-width="0.80"/>
<line x1="557.8" y1="592.4" x2="549.4" y2="597.9" stroke="#4a4a4a" stroke-width="1.40"/>
<line x1="556.8" y1="590.9" x2="548.4" y2="596.4" stroke="#6a6a6a" stroke-width="0.80"/>
<line x1="546.1" y1="601.9" x2="543.3" y2="597.8" stroke="#444" stroke-width="0.80"/>
<line x1="537.3" y1="606.6" x2="535.2" y2="602.0" stroke="#444" stroke-width="0.80"/>
<line x1="545.3" y1="600.7" x2="536.7" y2="605.2" stroke="#4a4a4a" stroke-width="1.40"/>
<line x1="544.3" y1="599.2" x2="535.9" y2="603.6" stroke="#6a6a6a" stroke-width="0.80"/>
<line x1="532.7" y1="608.7" x2="530.7" y2="604.1" stroke="#444" stroke-width="0.80"/>
<line x1="523.6" y1="612.8" x2="521.6" y2="608.2" stroke="#444" stroke-width="0.80"/>
<line x1="532.1" y1="607.3" x2="523.0" y2="611.4" stroke="#4a4a4a" stroke-width="1.40"/>
<line x1="531.4" y1="605.7" x2="522.3" y2="609.8" stroke="#6a6a6a" stroke-width="0.80"/>
<line x1="519.0" y1="614.5" x2="517.7" y2="609.7" stroke="#444" stroke-width="0.80"/>
<line x1="509.3" y1="617.1" x2="508.0" y2="612.2" stroke="#444" stroke-width="0.80"/>
<line x1="518.6" y1="613.1" x2="508.9" y2="615.6" stroke="#4a4a4a" stroke-width="1.40"/>
<line x1="518.1" y1="611.3" x2="508.5" y2="613.9" stroke="#6a6a6a" stroke-width="0.80"/>
<line x1="504.5" y1="618.3" x2="503.2" y2="613.5" stroke="#444" stroke-width="0.80"/>
<line x1="494.7" y1="620.3" x2="493.9" y2="615.4" stroke="#444" stroke-width="0.80"/>
<line x1="504.1" y1="616.9" x2="494.4" y2="618.8" stroke="#4a4a4a" stroke-width="1.40"/>
<line x1="503.6" y1="615.1" x2="494.2" y2="617.1" stroke="#6a6a6a" stroke-width="0.80"/>
<line x1="489.7" y1="621.1" x2="489.0" y2="616.1" stroke="#444" stroke-width="0.80"/>
<line x1="479.8" y1="622.1" x2="479.5" y2="617.1" stroke="#444" stroke-width="0.80"/>
<line x1="489.5" y1="619.6" x2="479.7" y2="620.6" stroke="#4a4a4a" stroke-width="1.40"/>
<line x1="489.2" y1="617.8" x2="479.6" y2="618.8" stroke="#6a6a6a" stroke-width="0.80"/>
<line x1="474.8" y1="622.3" x2="474.5" y2="617.3" stroke="#444" stroke-width="0.80"/>
<line x1="464.8" y1="622.9" x2="464.6" y2="617.9" stroke="#444" stroke-width="0.80"/>
<line x1="474.7" y1="620.8" x2="464.7" y2="621.4" stroke="#4a4a4a" stroke-width="1.40"/>
<line x1="474.6" y1="619.0" x2="464.6" y2="619.6" stroke="#6a6a6a" stroke-width="0.80"/>
<line x1="113.7" y1="73.5" x2="113.7" y2="82.0" stroke="#444" stroke-width="0.80"/>
<line x1="129.3" y1="73.5" x2="129.3" y2="82.0" stroke="#444" stroke-width="0.80"/>
<line x1="113.7" y1="76.0" x2="129.3" y2="76.0" stroke="#4a4a4a" stroke-width="1.40"/>
<line x1="113.7" y1="79.1" x2="129.3" y2="79.1" stroke="#6a6a6a" stroke-width="0.80"/>
<line x1="155.3" y1="73.5" x2="155.3" y2="82.0" stroke="#444" stroke-width="0.80"/>
<line x1="170.8" y1="73.5" x2="170.8" y2="82.0" stroke="#444" stroke-width="0.80"/>
<line x1="155.3" y1="76.0" x2="170.8" y2="76.0" stroke="#4a4a4a" stroke-width="1.40"/>
<line x1="155.3" y1="79.1" x2="170.8" y2="79.1" stroke="#6a6a6a" stroke-width="0.80"/>
<line x1="183.7" y1="73.5" x2="183.7" y2="82.0" stroke="#444" stroke-width="0.80"/>
<line x1="198.9" y1="73.5" x2="198.9" y2="82.0" stroke="#444" stroke-width="0.80"/>
<line x1="183.7" y1="76.0" x2="198.9" y2="76.0" stroke="#4a4a4a" stroke-width="1.40"/>
<line x1="183.7" y1="79.1" x2="198.9" y2="79.1" stroke="#6a6a6a" stroke-width="0.80"/>
<line x1="212.0" y1="73.5" x2="212.0" y2="82.0" stroke="#444" stroke-width="0.80"/>
<line x1="227.6" y1="73.5" x2="227.6" y2="82.0" stroke="#444" stroke-width="0.80"/>
<line x1="212.0" y1="76.0" x2="227.6" y2="76.0" stroke="#4a4a4a" stroke-width="1.40"/>
<line x1="212.0" y1="79.1" x2="227.6" y2="79.1" stroke="#6a6a6a" stroke-width="0.80"/>
<line x1="239.3" y1="73.5" x2="239.3" y2="82.0" stroke="#444" stroke-width="0.80"/>
<line x1="255.0" y1="73.5" x2="255.0" y2="82.0" stroke="#444" stroke-width="0.80"/>
<line x1="239.3" y1="76.0" x2="255.0" y2="76.0" stroke="#4a4a4a" stroke-width="1.40"/>
<line x1="239.3" y1="79.1" x2="255.0" y2="79.1" stroke="#6a6a6a" stroke-width="0.80"/>
<line x1="272.6" y1="73.5" x2="272.6" y2="82.0" stroke="#444" stroke-width="0.80"/>
<line x1="287.6" y1="73.5" x2="287.6" y2="82.0" stroke="#444" stroke-width="0.80"/>
<line x1="272.6" y1="76.0" x2="287.6" y2="76.0" stroke="#4a4a4a" stroke-width="1.40"/>
<line x1="272.6" y1="79.1" x2="287.6" y2="79.1" stroke="#6a6a6a" stroke-width="0.80"/>
<line x1="303.7" y1="73.5" x2="303.7" y2="82.0" stroke="#444" stroke-width="0.80"/>
<line x1="318.8" y1="73.5" x2="318.8" y2="82.0" stroke="#444" stroke-width="0.80"/>
<line x1="303.7" y1="76.0" x2="318.8" y2="76.0" stroke="#4a4a4a" stroke-width="1.40"/>
<line x1="303.7" y1="79.1" x2="318.8" y2="79.1" stroke="#6a6a6a" stroke-width="0.80"/>
<line x1="331.7" y1="73.5" x2="331.7" y2="82.0" stroke="#444" stroke-width="0.80"/>
<line x1="346.8" y1="73.5" x2="346.8" y2="82.0" stroke="#444" stroke-width="0.80"/>
<line x1="331.7" y1="76.0" x2="346.8" y2="76.0" stroke="#4a4a4a" stroke-width="1.40"/>
<line x1="331.7" y1="79.1" x2="346.8" y2="79.1" stroke="#6a6a6a" stroke-width="0.80"/>
<line x1="360.7" y1="73.5" x2="360.7" y2="82.0" stroke="#444" stroke-width="0.80"/>
<line x1="375.8" y1="73.5" x2="375.8" y2="82.0" stroke="#444" stroke-width="0.80"/>
<line x1="360.7" y1="76.0" x2="375.8" y2="76.0" stroke="#4a4a4a" stroke-width="1.40"/>
<line x1="360.7" y1="79.1" x2="375.8" y2="79.1" stroke="#6a6a6a" stroke-width="0.80"/>
<line x1="389.7" y1="73.5" x2="389.7" y2="82.0" stroke="#444" stroke-width="0.80"/>
<line x1="404.8" y1="73.5" x2="404.8" y2="82.0" stroke="#444" stroke-width="0.80"/>
<line x1="389.7" y1="76.0" x2="404.8" y2="76.0" stroke="#4a4a4a" stroke-width="1.40"/>
<line x1="389.7" y1="79.1" x2="404.8" y2="79.1" stroke="#6a6a6a" stroke-width="0.80"/>
<line x1="430.0" y1="71.8" x2="430.0" y2="82.0" stroke="#444" stroke-width="0.80"/>
<line x1="445.2" y1="71.8" x2="445.2" y2="82.0" stroke="#444" stroke-width="0.80"/>
<line x1="430.0" y1="74.9" x2="445.2" y2="74.9" stroke="#4a4a4a" stroke-width="1.40"/>
<line x1="430.0" y1="78.5" x2="445.2" y2="78.5" stroke="#6a6a6a" stroke-width="0.80"/>
<line x1="74.0" y1="112.3" x2="83.0" y2="112.3" stroke="#444" stroke-width="0.80"/>
<line x1="74.0" y1="127.4" x2="83.0" y2="127.4" stroke="#444" stroke-width="0.80"/>
<line x1="76.7" y1="112.3" x2="76.7" y2="127.4" stroke="#4a4a4a" stroke-width="1.40"/>
<line x1="79.9" y1="112.3" x2="79.9" y2="127.4" stroke="#6a6a6a" stroke-width="0.80"/>
<line x1="74.0" y1="154.7" x2="83.0" y2="154.7" stroke="#444" stroke-width="0.80"/>
<line x1="74.0" y1="169.4" x2="83.0" y2="169.4" stroke="#444" stroke-width="0.80"/>
<line x1="76.7" y1="154.7" x2="76.7" y2="169.4" stroke="#4a4a4a" stroke-width="1.40"/>
<line x1="79.9" y1="154.7" x2="79.9" y2="169.4" stroke="#6a6a6a" stroke-width="0.80"/>
<line x1="74.0" y1="183.0" x2="83.0" y2="183.0" stroke="#444" stroke-width="0.80"/>
<line x1="74.0" y1="197.7" x2="83.0" y2="197.7" stroke="#444" stroke-width="0.80"/>
<line x1="76.7" y1="183.0" x2="76.7" y2="197.7" stroke="#4a4a4a" stroke-width="1.40"/>
<line x1="79.9" y1="183.0" x2="79.9" y2="197.7" stroke="#6a6a6a" stroke-width="0.80"/>
<line x1="74.0" y1="210.5" x2="83.0" y2="210.5" stroke="#444" stroke-width="0.80"/>
<line x1="74.0" y1="226.0" x2="83.0" y2="226.0" stroke="#444" stroke-width="0.80"/>
<line x1="76.7" y1="210.5" x2="76.7" y2="226.0" stroke="#4a4a4a" stroke-width="1.40"/>
<line x1="79.9" y1="210.5" x2="79.9" y2="226.0" stroke="#6a6a6a" stroke-width="0.80"/>
<line x1="74.0" y1="238.8" x2="83.0" y2="238.8" stroke="#444" stroke-width="0.80"/>
<line x1="74.0" y1="254.5" x2="83.0" y2="254.5" stroke="#444" stroke-width="0.80"/>
<line x1="76.7" y1="238.8" x2="76.7" y2="254.5" stroke="#4a4a4a" stroke-width="1.40"/>
<line x1="79.9" y1="238.8" x2="79.9" y2="254.5" stroke="#6a6a6a" stroke-width="0.80"/>
<line x1="74.0" y1="267.0" x2="83.0" y2="267.0" stroke="#444" stroke-width="0.80"/>
<line x1="74.0" y1="282.8" x2="83.0" y2="282.8" stroke="#444" stroke-width="0.80"/>
<line x1="76.7" y1="267.0" x2="76.7" y2="282.8" stroke="#4a4a4a" stroke-width="1.40"/>
<line x1="79.9" y1="267.0" x2="79.9" y2="282.8" stroke="#6a6a6a" stroke-width="0.80"/>
<line x1="74.0" y1="295.5" x2="83.0" y2="295.5" stroke="#444" stroke-width="0.80"/>
<line x1="74.0" y1="311.0" x2="83.0" y2="311.0" stroke="#444" stroke-width="0.80"/>
<line x1="76.7" y1="295.5" x2="76.7" y2="311.0" stroke="#4a4a4a" stroke-width="1.40"/>
<line x1="79.9" y1="295.5" x2="79.9" y2="311.0" stroke="#6a6a6a" stroke-width="0.80"/>
<line x1="74.0" y1="327.8" x2="83.0" y2="327.8" stroke="#444" stroke-width="0.80"/>
<line x1="74.0" y1="342.5" x2="83.0" y2="342.5" stroke="#444" stroke-width="0.80"/>
<line x1="76.7" y1="327.8" x2="76.7" y2="342.5" stroke="#4a4a4a" stroke-width="1.40"/>
<line x1="79.9" y1="327.8" x2="79.9" y2="342.5" stroke="#6a6a6a" stroke-width="0.80"/>
<line x1="74.0" y1="354.0" x2="83.0" y2="354.0" stroke="#444" stroke-width="0.80"/>
<line x1="74.0" y1="368.8" x2="83.0" y2="368.8" stroke="#444" stroke-width="0.80"/>
<line x1="76.7" y1="354.0" x2="76.7" y2="368.8" stroke="#4a4a4a" stroke-width="1.40"/>
<line x1="79.9" y1="354.0" x2="79.9" y2="368.8" stroke="#6a6a6a" stroke-width="0.80"/>
<line x1="74.0" y1="381.5" x2="83.0" y2="381.5" stroke="#444" stroke-width="0.80"/>
<line x1="74.0" y1="396.2" x2="83.0" y2="396.2" stroke="#444" stroke-width="0.80"/>
<line x1="76.7" y1="381.5" x2="76.7" y2="396.2" stroke="#4a4a4a" stroke-width="1.40"/>
<line x1="79.9" y1="381.5" x2="79.9" y2="396.2" stroke="#6a6a6a" stroke-width="0.80"/>
<line x1="74.0" y1="408.9" x2="83.0" y2="408.9" stroke="#444" stroke-width="0.80"/>
<line x1="74.0" y1="423.5" x2="83.0" y2="423.5" stroke="#444" stroke-width="0.80"/>
<line x1="76.7" y1="408.9" x2="76.7" y2="423.5" stroke="#4a4a4a" stroke-width="1.40"/>
<line x1="79.9" y1="408.9" x2="79.9" y2="423.5" stroke="#6a6a6a" stroke-width="0.80"/>
<line x1="74.0" y1="437.2" x2="83.0" y2="437.2" stroke="#444" stroke-width="0.80"/>
<line x1="74.0" y1="452.8" x2="83.0" y2="452.8" stroke="#444" stroke-width="0.80"/>
<line x1="76.7" y1="437.2" x2="76.7" y2="452.8" stroke="#4a4a4a" stroke-width="1.40"/>
<line x1="79.9" y1="437.2" x2="79.9" y2="452.8" stroke="#6a6a6a" stroke-width="0.80"/>
<line x1="74.0" y1="465.6" x2="83.0" y2="465.6" stroke="#444" stroke-width="0.80"/>
<line x1="74.0" y1="481.3" x2="83.0" y2="481.3" stroke="#444" stroke-width="0.80"/>
<line x1="76.7" y1="465.6" x2="76.7" y2="481.3" stroke="#4a4a4a" stroke-width="1.40"/>
<line x1="79.9" y1="465.6" x2="79.9" y2="481.3" stroke="#6a6a6a" stroke-width="0.80"/>
<line x1="74.0" y1="494.0" x2="83.0" y2="494.0" stroke="#444" stroke-width="0.80"/>
<line x1="74.0" y1="509.6" x2="83.0" y2="509.6" stroke="#444" stroke-width="0.80"/>
<line x1="76.7" y1="494.0" x2="76.7" y2="509.6" stroke="#4a4a4a" stroke-width="1.40"/>
<line x1="79.9" y1="494.0" x2="79.9" y2="509.6" stroke="#6a6a6a" stroke-width="0.80"/>
<line x1="74.0" y1="522.3" x2="83.0" y2="522.3" stroke="#444" stroke-width="0.80"/>
<line x1="74.0" y1="537.9" x2="83.0" y2="537.9" stroke="#444" stroke-width="0.80"/>
<line x1="76.7" y1="522.3" x2="76.7" y2="537.9" stroke="#4a4a4a" stroke-width="1.40"/>
<line x1="79.9" y1="522.3" x2="79.9" y2="537.9" stroke="#6a6a6a" stroke-width="0.80"/>
<line x1="70.7" y1="563.3" x2="80.5" y2="563.3" stroke="#444" stroke-width="0.80"/>
<line x1="70.7" y1="579.0" x2="80.5" y2="579.0" stroke="#444" stroke-width="0.80"/>
<line x1="73.6" y1="563.3" x2="73.6" y2="579.0" stroke="#4a4a4a" stroke-width="1.40"/>
<line x1="77.2" y1="563.3" x2="77.2" y2="579.0" stroke="#6a6a6a" stroke-width="0.80"/>
<line x1="113.1" y1="618.0" x2="113.1" y2="609.5" stroke="#444" stroke-width="0.80"/>
<line x1="128.4" y1="618.0" x2="128.4" y2="609.5" stroke="#444" stroke-width="0.80"/>
<line x1="113.1" y1="615.5" x2="128.4" y2="615.5" stroke="#4a4a4a" stroke-width="1.40"/>
<line x1="113.1" y1="612.4" x2="128.4" y2="612.4" stroke="#6a6a6a" stroke-width="0.80"/>
<line x1="154.3" y1="618.0" x2="154.3" y2="609.5" stroke="#444" stroke-width="0.80"/>
<line x1="169.4" y1="618.0" x2="169.4" y2="609.5" stroke="#444" stroke-width="0.80"/>
<line x1="154.3" y1="615.5" x2="169.4" y2="615.5" stroke="#4a4a4a" stroke-width="1.40"/>
<line x1="154.3" y1="612.4" x2="169.4" y2="612.4" stroke="#6a6a6a" stroke-width="0.80"/>
<line x1="184.4" y1="618.0" x2="184.4" y2="609.5" stroke="#444" stroke-width="0.80"/>
<line x1="199.6" y1="618.0" x2="199.6" y2="609.5" stroke="#444" stroke-width="0.80"/>
<line x1="184.4" y1="615.5" x2="199.6" y2="615.5" stroke="#4a4a4a" stroke-width="1.40"/>
<line x1="184.4" y1="612.4" x2="199.6" y2="612.4" stroke="#6a6a6a" stroke-width="0.80"/>
<line x1="211.4" y1="618.0" x2="211.4" y2="609.5" stroke="#444" stroke-width="0.80"/>
<line x1="227.0" y1="618.0" x2="227.0" y2="609.5" stroke="#444" stroke-width="0.80"/>
<line x1="211.4" y1="615.5" x2="227.0" y2="615.5" stroke="#4a4a4a" stroke-width="1.40"/>
<line x1="211.4" y1="612.4" x2="227.0" y2="612.4" stroke="#6a6a6a" stroke-width="0.80"/>
<line x1="240.0" y1="618.0" x2="240.0" y2="609.5" stroke="#444" stroke-width="0.80"/>
<line x1="255.9" y1="618.0" x2="255.9" y2="609.5" stroke="#444" stroke-width="0.80"/>
<line x1="240.0" y1="615.5" x2="255.9" y2="615.5" stroke="#4a4a4a" stroke-width="1.40"/>
<line x1="240.0" y1="612.4" x2="255.9" y2="612.4" stroke="#6a6a6a" stroke-width="0.80"/>
<line x1="271.7" y1="618.0" x2="271.7" y2="609.5" stroke="#444" stroke-width="0.80"/>
<line x1="287.5" y1="618.0" x2="287.5" y2="609.5" stroke="#444" stroke-width="0.80"/>
<line x1="271.7" y1="615.5" x2="287.5" y2="615.5" stroke="#4a4a4a" stroke-width="1.40"/>
<line x1="271.7" y1="612.4" x2="287.5" y2="612.4" stroke="#6a6a6a" stroke-width="0.80"/>
<line x1="303.9" y1="618.0" x2="303.9" y2="609.5" stroke="#444" stroke-width="0.80"/>
<line x1="319.7" y1="618.0" x2="319.7" y2="609.5" stroke="#444" stroke-width="0.80"/>
<line x1="303.9" y1="615.5" x2="319.7" y2="615.5" stroke="#4a4a4a" stroke-width="1.40"/>
<line x1="303.9" y1="612.4" x2="319.7" y2="612.4" stroke="#6a6a6a" stroke-width="0.80"/>
<line x1="331.6" y1="618.0" x2="331.6" y2="609.5" stroke="#444" stroke-width="0.80"/>
<line x1="347.4" y1="618.0" x2="347.4" y2="609.5" stroke="#444" stroke-width="0.80"/>
<line x1="331.6" y1="615.5" x2="347.4" y2="615.5" stroke="#4a4a4a" stroke-width="1.40"/>
<line x1="331.6" y1="612.4" x2="347.4" y2="612.4" stroke="#6a6a6a" stroke-width="0.80"/>
<line x1="359.3" y1="618.0" x2="359.3" y2="609.5" stroke="#444" stroke-width="0.80"/>
<line x1="375.1" y1="618.0" x2="375.1" y2="609.5" stroke="#444" stroke-width="0.80"/>
<line x1="359.3" y1="615.5" x2="375.1" y2="615.5" stroke="#4a4a4a" stroke-width="1.40"/>
<line x1="359.3" y1="612.4" x2="375.1" y2="612.4" stroke="#6a6a6a" stroke-width="0.80"/>
<line x1="387.3" y1="618.0" x2="387.3" y2="609.5" stroke="#444" stroke-width="0.80"/>
<line x1="402.5" y1="618.0" x2="402.5" y2="609.5" stroke="#444" stroke-width="0.80"/>
<line x1="387.3" y1="615.5" x2="402.5" y2="615.5" stroke="#4a4a4a" stroke-width="1.40"/>
<line x1="387.3" y1="612.4" x2="402.5" y2="612.4" stroke="#6a6a6a" stroke-width="0.80"/>
<line x1="426.4" y1="621.0" x2="426.4" y2="611.5" stroke="#444" stroke-width="0.80"/>
<line x1="447.4" y1="621.0" x2="447.4" y2="611.5" stroke="#444" stroke-width="0.80"/>
<line x1="426.4" y1="618.1" x2="447.4" y2="618.1" stroke="#4a4a4a" stroke-width="1.40"/>
<line x1="426.4" y1="614.7" x2="447.4" y2="614.7" stroke="#6a6a6a" stroke-width="0.80"/>
<line x1="78.3" y1="86.8" x2="83.5" y2="92.3" stroke="#444" stroke-width="0.80"/>
<line x1="87.2" y1="77.8" x2="92.5" y2="83.5" stroke="#444" stroke-width="0.80"/>
<line x1="79.9" y1="88.5" x2="88.8" y2="79.5" stroke="#4a4a4a" stroke-width="1.40"/>
<line x1="81.7" y1="90.4" x2="90.7" y2="81.6" stroke="#6a6a6a" stroke-width="0.80"/>
<line x1="76.5" y1="606.0" x2="82.0" y2="600.8" stroke="#444" stroke-width="0.80"/>
<line x1="85.3" y1="614.8" x2="90.8" y2="609.6" stroke="#444" stroke-width="0.80"/>
<line x1="78.2" y1="604.4" x2="87.0" y2="613.2" stroke="#4a4a4a" stroke-width="1.40"/>
<line x1="80.1" y1="602.6" x2="88.9" y2="611.4" stroke="#6a6a6a" stroke-width="0.80"/>
<polygon points="154.5,151.0 452.8,151.0 452.8,173.3 176.2,173.3 176.2,517.4 452.5,517.4 452.5,542.0 154.5,542.0" fill="#bfc0c2" stroke="#555" stroke-width="0.60" stroke-linejoin="miter" />
<polygon points="538.0,250.0 576.2,240.6 592.0,251.0 618.7,285.0 660.0,300.0 700.0,357.0 702.3,362.2 728.0,390.0 745.3,409.5 764.6,439.6 772.0,469.7 777.5,475.5 784.0,519.5 784.0,560.5 736.3,560.5 735.6,508.0 728.0,476.0 711.0,450.0 702.0,448.0 672.0,470.7 648.3,484.0 643.3,481.7 626.7,463.3 606.7,466.7 574.0,476.7 560.0,466.7 569.2,453.3 547.0,412.0 542.5,404.2 520.5,397.0 520.5,395.8 548.3,369.4 522.0,341.0 540.0,321.0" fill="#bfc0c2" stroke="#555" stroke-width="0.60" stroke-linejoin="miter" />
<polygon points="82.7,96.0 97.0,81.8 148.0,81.8 148.0,146.0 82.7,146.0" fill="#16a0d8" stroke="#1d4466" stroke-width="0.70" stroke-linejoin="miter" />
<polygon points="83.0,149.5 148.0,149.5 148.0,202.0 83.0,202.0" fill="#16a0d8" stroke="#1d4466" stroke-width="0.70" stroke-linejoin="miter" />
<polygon points="83.0,205.6 126.4,205.6 126.4,232.0 83.0,232.0" fill="#16a0d8" stroke="#1d4466" stroke-width="0.70" stroke-linejoin="miter" />
<polygon points="83.0,234.0 126.4,234.0 126.4,259.3 83.0,259.3" fill="#16a0d8" stroke="#1d4466" stroke-width="0.70" stroke-linejoin="miter" />
<polygon points="128.4,205.6 148.0,205.6 148.0,259.3 128.4,259.3" fill="#16a0d8" stroke="#1d4466" stroke-width="0.70" stroke-linejoin="miter" />
<polygon points="83.0,262.3 148.0,262.3 148.0,317.0 83.0,317.0" fill="#16a0d8" stroke="#1d4466" stroke-width="0.70" stroke-linejoin="miter" />
<polygon points="83.0,319.0 148.0,319.0 148.0,460.7 83.0,460.7" fill="#16a0d8" stroke="#1d4466" stroke-width="0.70" stroke-linejoin="miter" />
<polygon points="83.0,463.3 148.0,463.3 148.0,524.0 123.0,524.0 123.0,516.4 83.0,516.4" fill="#16a0d8" stroke="#1d4466" stroke-width="0.70" stroke-linejoin="miter" />
<polygon points="83.0,517.4 122.0,517.4 122.0,542.0 83.0,542.0" fill="#16a0d8" stroke="#1d4466" stroke-width="0.70" stroke-linejoin="miter" />
<polygon points="124.5,526.0 147.5,526.0 147.5,542.0 124.5,542.0" fill="#16a0d8" stroke="#1d4466" stroke-width="0.70" stroke-linejoin="miter" />
<polygon points="80.5,544.4 148.0,544.4 148.0,611.4 97.0,611.4 80.5,595.2" fill="#16a0d8" stroke="#1d4466" stroke-width="0.70" stroke-linejoin="miter" />
<polygon points="154.5,82.0 176.8,82.0 176.8,150.0 154.5,150.0" fill="#16a0d8" stroke="#1d4466" stroke-width="0.70" stroke-linejoin="miter" />
<polygon points="178.8,82.0 204.0,82.0 204.0,146.0 178.8,146.0" fill="#16a0d8" stroke="#1d4466" stroke-width="0.70" stroke-linejoin="miter" />
<polygon points="206.0,82.0 256.0,82.0 256.0,146.0 206.0,146.0" fill="#16a0d8" stroke="#1d4466" stroke-width="0.70" stroke-linejoin="miter" />
<polygon points="258.2,82.0 295.8,82.0 295.8,146.0 258.2,146.0" fill="#16a0d8" stroke="#1d4466" stroke-width="0.70" stroke-linejoin="miter" />
<polygon points="298.8,82.0 357.5,82.0 357.5,146.0 298.8,146.0" fill="#16a0d8" stroke="#1d4466" stroke-width="0.70" stroke-linejoin="miter" />
<polygon points="359.6,82.0 408.0,82.0 408.0,146.0 359.6,146.0" fill="#16a0d8" stroke="#1d4466" stroke-width="0.70" stroke-linejoin="miter" />
<polygon points="410.3,82.0 453.7,82.0 453.7,146.0 410.3,146.0" fill="#16a0d8" stroke="#1d4466" stroke-width="0.70" stroke-linejoin="miter" />
<polygon points="255.9,177.6 296.0,177.6 296.0,226.8 255.9,226.8" fill="#16a0d8" stroke="#1d4466" stroke-width="0.70" stroke-linejoin="miter" />
<polygon points="356.0,176.0 384.7,176.0 384.7,227.4 340.0,227.4 340.0,193.0 356.0,193.0" fill="#16a0d8" stroke="#1d4466" stroke-width="0.70" stroke-linejoin="miter" />
<polygon points="386.4,176.0 412.8,176.0 412.8,227.4 386.4,227.4" fill="#16a0d8" stroke="#1d4466" stroke-width="0.70" stroke-linejoin="miter" />
<polygon points="414.8,176.0 453.8,176.0 453.8,227.4 414.8,227.4" fill="#16a0d8" stroke="#1d4466" stroke-width="0.70" stroke-linejoin="miter" />
<polygon points="179.0,250.5 229.0,250.5 229.0,282.8 179.0,282.8" fill="#16a0d8" stroke="#1d4466" stroke-width="0.70" stroke-linejoin="miter" />
<polygon points="177.0,406.0 229.0,406.0 229.0,443.4 177.0,443.4" fill="#16a0d8" stroke="#1d4466" stroke-width="0.70" stroke-linejoin="miter" />
<polygon points="253.2,467.7 295.5,467.7 295.5,516.5 253.2,516.5" fill="#16a0d8" stroke="#1d4466" stroke-width="0.70" stroke-linejoin="miter" />
<polygon points="334.3,467.7 381.8,467.7 381.8,516.5 334.3,516.5" fill="#16a0d8" stroke="#1d4466" stroke-width="0.70" stroke-linejoin="miter" />
<polygon points="383.6,467.7 412.6,467.7 412.6,516.5 383.6,516.5" fill="#16a0d8" stroke="#1d4466" stroke-width="0.70" stroke-linejoin="miter" />
<polygon points="414.2,467.7 452.5,467.7 452.5,516.5 414.2,516.5" fill="#16a0d8" stroke="#1d4466" stroke-width="0.70" stroke-linejoin="miter" />
<polygon points="153.8,543.4 174.8,543.4 174.8,609.5 153.8,609.5" fill="#16a0d8" stroke="#1d4466" stroke-width="0.70" stroke-linejoin="miter" />
<polygon points="177.2,546.7 206.5,546.7 206.5,609.5 177.2,609.5" fill="#16a0d8" stroke="#1d4466" stroke-width="0.70" stroke-linejoin="miter" />
<polygon points="208.4,546.7 260.3,546.7 260.3,609.5 208.4,609.5" fill="#16a0d8" stroke="#1d4466" stroke-width="0.70" stroke-linejoin="miter" />
<polygon points="237.3,546.7 239.0,546.7 239.0,609.5 237.3,609.5" fill="#ffffff" stroke="none" />
<polygon points="261.0,546.7 295.5,546.7 295.5,609.5 261.0,609.5" fill="#16a0d8" stroke="#1d4466" stroke-width="0.70" stroke-linejoin="miter" />
<polygon points="299.1,546.7 325.5,546.7 325.5,609.5 299.1,609.5" fill="#16a0d8" stroke="#1d4466" stroke-width="0.70" stroke-linejoin="miter" />
<polygon points="326.8,546.7 353.5,546.7 353.5,609.5 326.8,609.5" fill="#16a0d8" stroke="#1d4466" stroke-width="0.70" stroke-linejoin="miter" />
<polygon points="357.4,546.7 406.8,546.7 406.8,609.5 357.4,609.5" fill="#16a0d8" stroke="#1d4466" stroke-width="0.70" stroke-linejoin="miter" />
<polygon points="409.5,546.7 452.5,546.7 452.5,609.5 409.5,609.5" fill="#16a0d8" stroke="#1d4466" stroke-width="0.70" stroke-linejoin="miter" />
<polygon points="384.7,176.0 386.4,176.0 386.4,227.4 384.7,227.4" fill="#2a4a6a" stroke="none" />
<polygon points="412.9,176.0 414.7,176.0 414.7,227.4 412.9,227.4" fill="#2a4a6a" stroke="none" />
<polygon points="303.4,176.0 335.6,176.0 335.6,251.5 303.4,251.5" fill="#bfc0c2" stroke="#555" stroke-width="0.60" stroke-linejoin="miter" />
<polygon points="340.0,176.0 356.0,176.0 356.0,192.0 340.0,192.0" fill="#bfc0c2" stroke="#555" stroke-width="0.60" stroke-linejoin="miter" />
<polygon points="177.0,286.7 234.8,286.7 234.8,402.0 177.0,402.0" fill="#bfc0c2" stroke="#555" stroke-width="0.60" stroke-linejoin="miter" />
<polygon points="300.7,444.8 329.8,444.8 329.8,516.5 300.7,516.5" fill="#bfc0c2" stroke="#555" stroke-width="0.60" stroke-linejoin="miter" />
<polygon points="178.8,178.2 255.0,178.2 255.0,226.0 228.6,246.5 193.0,246.5 193.0,207.0 178.8,207.0" fill="#f2a9cb" stroke="#6d3650" stroke-width="0.60" stroke-linejoin="miter" />
<polygon points="180.8,209.8 189.0,209.8 189.0,245.0 180.8,245.0" fill="#ea168c" stroke="#6d3650" stroke-width="0.50" stroke-linejoin="miter" />
<polygon points="193.0,447.0 228.6,447.0 250.4,468.0 250.4,517.4 176.8,517.4 176.8,490.0 193.0,490.0" fill="#f2a9cb" stroke="#6d3650" stroke-width="0.60" stroke-linejoin="miter" />
<polygon points="180.3,448.0 189.0,448.0 189.0,486.0 180.3,486.0" fill="#ea168c" stroke="#6d3650" stroke-width="0.50" stroke-linejoin="miter" />
<polygon points="491.1,179.2 513.3,200.7 523.0,213.9 478.0,249.0 462.0,233.0 462.0,204.0 470.0,195.0" fill="#16a0d8" stroke="#1d4466" stroke-width="0.70" stroke-linejoin="miter" />
<polygon points="478.0,249.0 523.0,213.9 541.1,202.0 575.8,240.3 551.0,263.0 516.0,289.0" fill="#16a0d8" stroke="#1d4466" stroke-width="0.70" stroke-linejoin="miter" />
<polygon points="516.0,289.0 550.0,262.0 556.0,272.0 551.9,285.6 528.0,302.0" fill="#16a0d8" stroke="#1d4466" stroke-width="0.70" stroke-linejoin="miter" />
<polygon points="528.0,302.0 551.9,285.6 570.0,303.1 541.0,319.0" fill="#16a0d8" stroke="#1d4466" stroke-width="0.70" stroke-linejoin="miter" />
<polygon points="551.9,285.6 561.6,277.5 570.6,286.2 560.9,294.4" fill="#ea168c" stroke="#5c2a45" stroke-width="0.70" stroke-linejoin="miter" />
<polygon points="561.6,277.5 571.2,269.4 580.3,278.2 570.6,286.2" fill="#f2a9cb" stroke="#5c2a45" stroke-width="0.70" stroke-linejoin="miter" />
<polygon points="560.9,294.4 570.6,286.2 579.7,295.0 570.0,303.1" fill="#ea168c" stroke="#5c2a45" stroke-width="0.70" stroke-linejoin="miter" />
<polygon points="570.6,286.2 580.3,278.2 589.4,286.9 579.7,295.0" fill="#f2a9cb" stroke="#5c2a45" stroke-width="0.70" stroke-linejoin="miter" />
<polygon points="551.9,285.6 571.2,269.4 561.3,259.8 541.9,276.0" fill="none" stroke="#444" stroke-width="0.60" stroke-linejoin="miter" />
<polygon points="604.5,270.5 608.5,270.5 608.5,274.5 604.5,274.5" fill="#fff" stroke="#444" stroke-width="0.50" stroke-linejoin="miter" />
<polygon points="592.0,251.0 638.9,213.0 667.5,246.2 618.7,285.0" fill="#16a0d8" stroke="#1d4466" stroke-width="0.70" stroke-linejoin="miter" />
<polygon points="460.7,80.6 478.0,80.8 486.0,81.1 493.7,82.0 501.2,83.5 508.3,85.5 515.1,88.0 521.6,90.8 527.8,94.0 533.6,97.5 539.2,101.2 544.5,105.1 549.4,109.2 554.1,113.3 558.4,117.5 562.5,121.7 566.2,125.8 569.6,129.8 572.7,133.6 575.5,137.2 578.0,140.5 580.1,143.5 582.0,146.1 583.5,148.2 584.8,149.9 585.7,151.1 638.9,213.0 592.0,251.0 576.0,240.0 541.0,202.0 523.0,213.5 514.0,199.5 532.8,186.1 509.9,161.1 493.2,175.0 457.5,175.0 457.5,148.5 460.7,148.5" fill="#c1b400" stroke="#111" stroke-width="2.00" stroke-linejoin="miter" />
<polygon points="509.9,161.1 532.8,186.1 514.0,199.5 492.2,177.5" fill="#f4ef3c" stroke="#111" stroke-width="1.60" stroke-linejoin="miter" />
<polygon points="669.8,248.9 737.6,327.8 700.0,355.6 692.0,349.0 663.0,370.0 631.0,335.6 587.8,369.0 582.0,364.4 553.3,338.9" fill="#c1b400" stroke="#111" stroke-width="2.00" stroke-linejoin="miter" />
<polygon points="587.4,372.6 630.4,337.2 671.2,382.3 628.2,418.8" fill="#ea168c" stroke="#111" stroke-width="0.80" stroke-linejoin="miter" />
<polygon points="664.0,371.0 692.0,350.0 703.0,358.0 680.0,380.0 674.0,385.0" fill="#8dc63f" stroke="#2d4a14" stroke-width="0.70" stroke-linejoin="miter" />
<polygon points="628.2,418.8 671.2,382.3 680.3,383.3 702.5,411.0 652.5,452.8" fill="#8dc63f" stroke="#2d4a14" stroke-width="0.70" stroke-linejoin="miter" />
<line x1="635.8" y1="409.7" x2="669.0" y2="437.5" stroke="#2d4a14" stroke-width="0.80"/>
<polygon points="702.3,362.2 700.0,357.0 737.8,328.0 751.2,343.6 764.9,359.5 728.0,389.0" fill="#16a0d8" stroke="#1d4466" stroke-width="0.70" stroke-linejoin="miter" />
<polygon points="728.0,389.0 764.9,359.5 773.9,370.0 782.5,379.4 743.0,408.5" fill="#16a0d8" stroke="#1d4466" stroke-width="0.70" stroke-linejoin="miter" />
<polygon points="743.0,408.5 782.5,379.4 793.0,391.0 800.5,403.0 807.5,415.0 808.0,416.0 765.7,439.6" fill="#16a0d8" stroke="#1d4466" stroke-width="0.70" stroke-linejoin="miter" />
<polygon points="765.7,439.6 808.0,416.0 814.0,427.0 820.0,439.0 825.0,450.0 827.2,458.3 827.6,459.3 777.5,473.3 772.0,469.7" fill="#16a0d8" stroke="#1d4466" stroke-width="0.70" stroke-linejoin="miter" />
<polygon points="777.5,475.5 827.6,459.3 830.8,466.7 834.2,483.3 837.5,500.0 838.7,516.7 839.2,518.3 784.0,518.3" fill="#16a0d8" stroke="#1d4466" stroke-width="0.70" stroke-linejoin="miter" />
<polygon points="785.7,520.2 839.2,520.2 839.2,560.8 785.7,560.8" fill="#16a0d8" stroke="#1d4466" stroke-width="0.70" stroke-linejoin="miter" />
<polygon points="785.7,563.3 839.2,563.3 839.2,620.2 785.7,620.2" fill="#16a0d8" stroke="#1d4466" stroke-width="0.70" stroke-linejoin="miter" />
<polygon points="741.2,579.9 783.5,579.9 783.5,620.2 741.2,620.2" fill="#16a0d8" stroke="#1d4466" stroke-width="0.70" stroke-linejoin="miter" />
<polygon points="741.2,563.3 783.5,563.3 783.5,578.3 741.2,578.3" fill="#16a0d8" stroke="#1d4466" stroke-width="0.70" stroke-linejoin="miter" />
<polygon points="693.3,563.3 738.4,563.3 738.4,620.2 693.3,620.2" fill="#16a0d8" stroke="#1d4466" stroke-width="0.70" stroke-linejoin="miter" />
<polygon points="690.8,510.2 732.6,502.4 736.2,524.0 736.2,560.3 692.6,560.3 692.4,522.0" fill="#16a0d8" stroke="#1d4466" stroke-width="0.70" stroke-linejoin="miter" />
<polygon points="686.3,491.6 723.6,476.8 732.2,500.6 690.3,508.2" fill="#16a0d8" stroke="#1d4466" stroke-width="0.70" stroke-linejoin="miter" />
<polygon points="672.2,471.2 701.5,447.5 706.7,444.5 723.0,474.6 685.5,489.6" fill="#16a0d8" stroke="#1d4466" stroke-width="0.70" stroke-linejoin="miter" />
<polygon points="718.9,434.4 725.6,444.4 732.2,452.2 740.0,466.7 744.4,475.6 747.8,488.9 751.1,500.0 752.4,511.1 753.3,547.7 783.3,547.7 783.3,521.0 781.1,508.9 777.8,492.2 764.4,473.3 761.1,469.0 755.6,460.0 745.6,444.4 735.6,424.4 733.3,423.0" fill="#f2a9cb" stroke="#6d3650" stroke-width="0.60" stroke-linejoin="miter" />
<line x1="722.5" y1="440.0" x2="739.5" y2="431.5" stroke="#6d3650" stroke-width="0.60"/>
<line x1="728.5" y1="449.5" x2="747.5" y2="443.5" stroke="#6d3650" stroke-width="0.60"/>
<line x1="737.5" y1="462.5" x2="757.0" y2="457.5" stroke="#6d3650" stroke-width="0.60"/>
<polygon points="730.5,450.8 746.5,445.5 748.5,449.3 732.5,454.6" fill="#ea168c" stroke="#333" stroke-width="0.50" stroke-linejoin="miter" />
<polygon points="744.4,476.2 762.2,471.8 766.5,492.0 777.8,492.2 781.1,509.5 752.4,510.6 751.1,500.0 747.8,488.9" fill="#f4ef3c" stroke="#444" stroke-width="0.60" stroke-linejoin="miter" />
<polygon points="763.5,473.5 775.5,471.2 779.2,491.2 767.2,493.4" fill="#ea168c" stroke="#333" stroke-width="0.50" stroke-linejoin="miter" />
<polygon points="767.8,511.6 782.2,511.6 782.2,522.2 767.8,522.2" fill="#ea168c" stroke="#333" stroke-width="0.50" stroke-linejoin="miter" />
<polygon points="731.5,420.5 735.5,420.5 735.5,424.5 731.5,424.5" fill="#fff" stroke="#444" stroke-width="0.50" stroke-linejoin="miter" />
<polygon points="760.5,467.5 764.5,467.5 764.5,471.5 760.5,471.5" fill="#fff" stroke="#444" stroke-width="0.50" stroke-linejoin="miter" />
<polygon points="520.0,397.0 523.3,399.0 533.3,402.5 542.5,404.2 546.0,410.0 547.2,401.5 546.6,404.2 546.2,407.0 546.0,409.8 546.0,412.6 546.2,415.4 546.6,418.2 547.2,420.9 548.0,423.7 548.9,426.3 550.1,428.9 551.4,431.3 552.9,433.7 554.5,436.0 556.4,438.2 558.3,440.2 560.4,442.1 562.6,443.8 564.9,445.4 569.2,453.3 533.3,500.0 512.6,525.5 517.3,531.4 511.4,538.5 491.3,538.5 491.3,512.5 472.0,495.0 465.8,492.0 465.8,462.0" fill="#c1b400" stroke="#111" stroke-width="2.00" stroke-linejoin="miter" />
<clipPath id="c22"><polygon points="520.0,397.0 523.3,399.0 533.3,402.5 542.5,404.2 546.0,410.0 547.2,401.5 546.6,404.2 546.2,407.0 546.0,409.8 546.0,412.6 546.2,415.4 546.6,418.2 547.2,420.9 548.0,423.7 548.9,426.3 550.1,428.9 551.4,431.3 552.9,433.7 554.5,436.0 556.4,438.2 558.3,440.2 560.4,442.1 562.6,443.8 564.9,445.4 569.2,453.3 533.3,500.0 512.6,525.5 517.3,531.4 511.4,538.5 491.3,538.5 491.3,512.5 472.0,495.0 465.8,492.0 465.8,462.0"/></clipPath>
<polygon points="560.0,466.7 574.0,476.7 606.7,466.7 626.7,463.3 643.6,486.5 634.1,500.7 615.3,524.5 597.0,542.0 578.0,563.0 561.0,581.0 539.7,597.0 518.5,607.5 497.2,613.5 473.6,617.5 461.8,618.3 461.8,539.6 491.3,539.6 511.4,538.5 517.3,531.4 512.6,525.5" fill="#c1b400" stroke="#111" stroke-width="2.00" stroke-linejoin="miter" />
<clipPath id="c21"><polygon points="560.0,466.7 574.0,476.7 606.7,466.7 626.7,463.3 643.6,486.5 634.1,500.7 615.3,524.5 597.0,542.0 578.0,563.0 561.0,581.0 539.7,597.0 518.5,607.5 497.2,613.5 473.6,617.5 461.8,618.3 461.8,539.6 491.3,539.6 511.4,538.5 517.3,531.4 512.6,525.5"/></clipPath>
<polygon points="604.0,459.5 620.0,454.0 624.0,462.0 607.0,467.5" fill="#ea168c" stroke="#333" stroke-width="0.60" stroke-linejoin="miter" />
<line x1="571.7" y1="396.1" x2="561.3" y2="385.3" stroke="#444" stroke-width="0.50"/>
<line x1="569.5" y1="398.6" x2="557.5" y2="389.5" stroke="#444" stroke-width="0.50"/>
<line x1="567.8" y1="401.3" x2="554.5" y2="394.3" stroke="#444" stroke-width="0.50"/>
<line x1="566.4" y1="404.4" x2="552.3" y2="399.5" stroke="#444" stroke-width="0.50"/>
<line x1="565.6" y1="407.6" x2="550.8" y2="404.9" stroke="#444" stroke-width="0.50"/>
<line x1="565.3" y1="410.8" x2="550.3" y2="410.6" stroke="#444" stroke-width="0.50"/>
<line x1="565.3" y1="411.2" x2="550.3" y2="411.2" stroke="#444" stroke-width="0.50"/>
<line x1="565.6" y1="414.5" x2="550.7" y2="416.8" stroke="#444" stroke-width="0.50"/>
<line x1="566.3" y1="417.7" x2="552.1" y2="422.3" stroke="#444" stroke-width="0.50"/>
<line x1="567.6" y1="420.7" x2="554.2" y2="427.5" stroke="#444" stroke-width="0.50"/>
<line x1="581.2" y1="431.6" x2="577.6" y2="446.1" stroke="#444" stroke-width="0.50"/>
<line x1="584.1" y1="432.1" x2="582.5" y2="447.0" stroke="#444" stroke-width="0.50"/>
<line x1="587.0" y1="432.2" x2="587.6" y2="447.2" stroke="#444" stroke-width="0.50"/>
<line x1="589.9" y1="431.9" x2="592.6" y2="446.7" stroke="#444" stroke-width="0.50"/>
<line x1="592.8" y1="431.2" x2="597.4" y2="445.4" stroke="#444" stroke-width="0.50"/>
<line x1="595.5" y1="430.1" x2="602.1" y2="443.6" stroke="#444" stroke-width="0.50"/>
<line x1="598.0" y1="428.6" x2="606.4" y2="441.0" stroke="#444" stroke-width="0.50"/>
<path d="M 571.7 396.1 A 21 21 0 0 0 599.8 427.3" fill="none" stroke="#444" stroke-width="0.7"/>
<line x1="562.5" y1="387.5" x2="603.0" y2="433.0" stroke="#444" stroke-width="0.60"/>
<path d="M 558.7 382.6 A 39.8 39.8 0 1 0 610.3 443.0 L 607.8 439.8 A 35.8 35.8 0 1 1 561.4 385.4 Z" fill="#fff" stroke="#333" stroke-width="0.7"/>
<polygon points="557.8,381.8 562.2,381.8 562.2,386.2 557.8,386.2" fill="#fff" stroke="#333" stroke-width="0.60" stroke-linejoin="miter" />
<polygon points="490.2,365.6 522.2,341.1 547.8,370.0 520.0,395.6" fill="#ffffff" stroke="#333" stroke-width="1.00" stroke-linejoin="miter" />
<polygon points="494.5,365.6 522.2,344.5 544.0,369.6 520.0,391.5" fill="none" stroke="#333" stroke-width="0.80" stroke-linejoin="miter" />
<line x1="508.3" y1="355.0" x2="532.2" y2="380.4" stroke="#333" stroke-width="0.90"/>
<line x1="507.0" y1="378.5" x2="533.2" y2="356.5" stroke="#333" stroke-width="0.90"/>
<polygon points="544.8,367.0 549.8,367.0 549.8,372.0 544.8,372.0" fill="#fff" stroke="#333" stroke-width="0.60" stroke-linejoin="miter" />
<polygon points="517.5,393.0 522.5,393.0 522.5,398.0 517.5,398.0" fill="#fff" stroke="#333" stroke-width="0.60" stroke-linejoin="miter" />
<polygon points="557.5,382.0 562.5,382.0 562.5,387.0 557.5,387.0" fill="#fff" stroke="#333" stroke-width="0.60" stroke-linejoin="miter" />
<polygon points="580.5,366.5 585.5,366.5 585.5,371.5 580.5,371.5" fill="#fff" stroke="#333" stroke-width="0.60" stroke-linejoin="miter" />
<polygon points="626.5,416.5 632.5,416.5 632.5,422.5 626.5,422.5" fill="#fff" stroke="#333" stroke-width="0.60" stroke-linejoin="miter" />
<polygon points="536.0,318.0 543.0,318.0 543.0,325.0 536.0,325.0" fill="#fff" stroke="#444" stroke-width="0.60" stroke-linejoin="miter" />
<line x1="190.0" y1="178.2" x2="190.0" y2="205.3" stroke="#5c2a45" stroke-width="0.90"/>
<line x1="201.7" y1="178.2" x2="201.7" y2="205.3" stroke="#5c2a45" stroke-width="0.90"/>
<line x1="212.8" y1="178.2" x2="212.8" y2="205.3" stroke="#5c2a45" stroke-width="0.90"/>
<line x1="190.0" y1="191.4" x2="212.8" y2="191.4" stroke="#5c2a45" stroke-width="0.90"/>
<line x1="178.8" y1="205.3" x2="228.3" y2="205.3" stroke="#5c2a45" stroke-width="0.90"/>
<line x1="228.3" y1="207.0" x2="255.0" y2="207.0" stroke="#5c2a45" stroke-width="0.90"/>
<line x1="228.3" y1="178.2" x2="228.3" y2="246.5" stroke="#5c2a45" stroke-width="0.90"/>
<line x1="208.3" y1="207.0" x2="208.3" y2="246.5" stroke="#5c2a45" stroke-width="0.90"/>
<line x1="193.0" y1="225.9" x2="208.3" y2="225.9" stroke="#5c2a45" stroke-width="0.90"/>
<line x1="193.0" y1="237.6" x2="208.3" y2="237.6" stroke="#5c2a45" stroke-width="0.90"/>
<line x1="208.4" y1="447.0" x2="208.4" y2="517.4" stroke="#5c2a45" stroke-width="0.90"/>
<line x1="228.4" y1="468.0" x2="228.4" y2="517.4" stroke="#5c2a45" stroke-width="0.90"/>
<line x1="218.1" y1="476.0" x2="218.1" y2="489.5" stroke="#5c2a45" stroke-width="0.90"/>
<line x1="208.4" y1="475.3" x2="228.4" y2="475.3" stroke="#5c2a45" stroke-width="0.90"/>
<line x1="176.8" y1="489.8" x2="250.4" y2="489.8" stroke="#5c2a45" stroke-width="0.90"/>
<line x1="195.9" y1="489.8" x2="195.9" y2="522.0" stroke="#5c2a45" stroke-width="0.90"/>
<line x1="195.9" y1="498.7" x2="208.4" y2="498.7" stroke="#5c2a45" stroke-width="0.90"/>
<line x1="195.9" y1="507.2" x2="208.4" y2="507.2" stroke="#5c2a45" stroke-width="0.90"/>
<line x1="204.1" y1="286.7" x2="204.1" y2="402.0" stroke="#555" stroke-width="0.70"/>
<polygon points="205.0,288.1 219.7,288.1 219.7,304.6 205.0,304.6" fill="#bfc0c2" stroke="#555" stroke-width="0.70" stroke-linejoin="miter" />
<polygon points="219.7,288.1 229.4,288.1 229.4,304.6 219.7,304.6" fill="#bfc0c2" stroke="#555" stroke-width="0.60" stroke-linejoin="miter" />
<polygon points="201.5,319.3 212.8,319.3 212.8,386.2 201.5,386.2" fill="#bfc0c2" stroke="#555" stroke-width="0.70" stroke-linejoin="miter" />
<line x1="212.8" y1="323.1" x2="229.3" y2="323.1" stroke="#e6e6e6" stroke-width="1.00"/>
<line x1="212.8" y1="322.0" x2="229.3" y2="322.0" stroke="#555" stroke-width="0.60"/>
<line x1="212.8" y1="326.6" x2="229.3" y2="326.6" stroke="#e6e6e6" stroke-width="1.00"/>
<line x1="212.8" y1="325.4" x2="229.3" y2="325.4" stroke="#555" stroke-width="0.60"/>
<line x1="212.8" y1="330.0" x2="229.3" y2="330.0" stroke="#e6e6e6" stroke-width="1.00"/>
<line x1="212.8" y1="328.9" x2="229.3" y2="328.9" stroke="#555" stroke-width="0.60"/>
<line x1="212.8" y1="333.5" x2="229.3" y2="333.5" stroke="#e6e6e6" stroke-width="1.00"/>
<line x1="212.8" y1="332.4" x2="229.3" y2="332.4" stroke="#555" stroke-width="0.60"/>
<line x1="212.8" y1="336.9" x2="229.3" y2="336.9" stroke="#e6e6e6" stroke-width="1.00"/>
<line x1="212.8" y1="335.8" x2="229.3" y2="335.8" stroke="#555" stroke-width="0.60"/>
<line x1="212.8" y1="340.4" x2="229.3" y2="340.4" stroke="#e6e6e6" stroke-width="1.00"/>
<line x1="212.8" y1="339.2" x2="229.3" y2="339.2" stroke="#555" stroke-width="0.60"/>
<line x1="212.8" y1="343.8" x2="229.3" y2="343.8" stroke="#e6e6e6" stroke-width="1.00"/>
<line x1="212.8" y1="342.7" x2="229.3" y2="342.7" stroke="#555" stroke-width="0.60"/>
<line x1="212.8" y1="347.2" x2="229.3" y2="347.2" stroke="#e6e6e6" stroke-width="1.00"/>
<line x1="212.8" y1="346.1" x2="229.3" y2="346.1" stroke="#555" stroke-width="0.60"/>
<line x1="212.8" y1="350.7" x2="229.3" y2="350.7" stroke="#e6e6e6" stroke-width="1.00"/>
<line x1="212.8" y1="349.6" x2="229.3" y2="349.6" stroke="#555" stroke-width="0.60"/>
<line x1="212.8" y1="354.2" x2="229.3" y2="354.2" stroke="#e6e6e6" stroke-width="1.00"/>
<line x1="212.8" y1="353.1" x2="229.3" y2="353.1" stroke="#555" stroke-width="0.60"/>
<line x1="212.8" y1="357.6" x2="229.3" y2="357.6" stroke="#e6e6e6" stroke-width="1.00"/>
<line x1="212.8" y1="356.5" x2="229.3" y2="356.5" stroke="#555" stroke-width="0.60"/>
<line x1="212.8" y1="361.1" x2="229.3" y2="361.1" stroke="#e6e6e6" stroke-width="1.00"/>
<line x1="212.8" y1="359.9" x2="229.3" y2="359.9" stroke="#555" stroke-width="0.60"/>
<line x1="212.8" y1="364.5" x2="229.3" y2="364.5" stroke="#e6e6e6" stroke-width="1.00"/>
<line x1="212.8" y1="363.4" x2="229.3" y2="363.4" stroke="#555" stroke-width="0.60"/>
<line x1="212.8" y1="368.0" x2="229.3" y2="368.0" stroke="#e6e6e6" stroke-width="1.00"/>
<line x1="212.8" y1="366.9" x2="229.3" y2="366.9" stroke="#555" stroke-width="0.60"/>
<line x1="212.8" y1="371.4" x2="229.3" y2="371.4" stroke="#e6e6e6" stroke-width="1.00"/>
<line x1="212.8" y1="370.3" x2="229.3" y2="370.3" stroke="#555" stroke-width="0.60"/>
<line x1="212.8" y1="374.9" x2="229.3" y2="374.9" stroke="#e6e6e6" stroke-width="1.00"/>
<line x1="212.8" y1="373.8" x2="229.3" y2="373.8" stroke="#555" stroke-width="0.60"/>
<line x1="212.8" y1="378.3" x2="229.3" y2="378.3" stroke="#e6e6e6" stroke-width="1.00"/>
<line x1="212.8" y1="377.2" x2="229.3" y2="377.2" stroke="#555" stroke-width="0.60"/>
<line x1="212.8" y1="381.8" x2="229.3" y2="381.8" stroke="#e6e6e6" stroke-width="1.00"/>
<line x1="212.8" y1="380.6" x2="229.3" y2="380.6" stroke="#555" stroke-width="0.60"/>
<line x1="212.8" y1="385.2" x2="229.3" y2="385.2" stroke="#e6e6e6" stroke-width="1.00"/>
<line x1="212.8" y1="384.1" x2="229.3" y2="384.1" stroke="#555" stroke-width="0.60"/>
<line x1="221.5" y1="312.0" x2="221.5" y2="392.0" stroke="#555" stroke-width="0.60"/>
<line x1="229.3" y1="286.7" x2="229.3" y2="402.0" stroke="#555" stroke-width="0.60"/>
<line x1="207.0" y1="306.0" x2="207.0" y2="319.3" stroke="#555" stroke-width="0.50"/>
<line x1="207.0" y1="386.2" x2="207.0" y2="400.0" stroke="#555" stroke-width="0.50"/>
<line x1="210.0" y1="306.0" x2="210.0" y2="319.3" stroke="#555" stroke-width="0.50"/>
<line x1="210.0" y1="386.2" x2="210.0" y2="400.0" stroke="#555" stroke-width="0.50"/>
<line x1="213.7" y1="306.0" x2="213.7" y2="319.3" stroke="#555" stroke-width="0.50"/>
<line x1="213.7" y1="386.2" x2="213.7" y2="400.0" stroke="#555" stroke-width="0.50"/>
<line x1="303.4" y1="193.6" x2="335.6" y2="193.6" stroke="#e6e6e6" stroke-width="1.00"/>
<line x1="303.4" y1="192.5" x2="335.6" y2="192.5" stroke="#555" stroke-width="0.60"/>
<line x1="303.4" y1="196.8" x2="335.6" y2="196.8" stroke="#e6e6e6" stroke-width="1.00"/>
<line x1="303.4" y1="195.8" x2="335.6" y2="195.8" stroke="#555" stroke-width="0.60"/>
<line x1="303.4" y1="200.1" x2="335.6" y2="200.1" stroke="#e6e6e6" stroke-width="1.00"/>
<line x1="303.4" y1="199.0" x2="335.6" y2="199.0" stroke="#555" stroke-width="0.60"/>
<line x1="303.4" y1="203.3" x2="335.6" y2="203.3" stroke="#e6e6e6" stroke-width="1.00"/>
<line x1="303.4" y1="202.2" x2="335.6" y2="202.2" stroke="#555" stroke-width="0.60"/>
<line x1="303.4" y1="206.6" x2="335.6" y2="206.6" stroke="#e6e6e6" stroke-width="1.00"/>
<line x1="303.4" y1="205.5" x2="335.6" y2="205.5" stroke="#555" stroke-width="0.60"/>
<line x1="303.4" y1="209.8" x2="335.6" y2="209.8" stroke="#e6e6e6" stroke-width="1.00"/>
<line x1="303.4" y1="208.8" x2="335.6" y2="208.8" stroke="#555" stroke-width="0.60"/>
<line x1="303.4" y1="213.1" x2="335.6" y2="213.1" stroke="#e6e6e6" stroke-width="1.00"/>
<line x1="303.4" y1="212.0" x2="335.6" y2="212.0" stroke="#555" stroke-width="0.60"/>
<line x1="303.4" y1="216.3" x2="335.6" y2="216.3" stroke="#e6e6e6" stroke-width="1.00"/>
<line x1="303.4" y1="215.2" x2="335.6" y2="215.2" stroke="#555" stroke-width="0.60"/>
<line x1="303.4" y1="218.5" x2="335.6" y2="218.5" stroke="#555" stroke-width="0.60"/>
<line x1="310.6" y1="192.5" x2="310.6" y2="218.8" stroke="#555" stroke-width="0.60"/>
<line x1="320.0" y1="192.5" x2="320.0" y2="218.8" stroke="#555" stroke-width="0.60"/>
<line x1="328.1" y1="192.5" x2="328.1" y2="218.8" stroke="#555" stroke-width="0.60"/>
<polygon points="310.6,218.8 328.1,218.8 328.1,227.5 310.6,227.5" fill="#bfc0c2" stroke="#555" stroke-width="0.70" stroke-linejoin="miter" />
<line x1="303.4" y1="247.5" x2="335.6" y2="247.5" stroke="#555" stroke-width="0.80"/>
<polygon points="341.6,177.2 354.5,177.2 354.5,190.5 341.6,190.5" fill="#bfc0c2" stroke="#555" stroke-width="0.60" stroke-linejoin="miter" />
<polygon points="306.5,465.0 313.5,465.0 313.5,470.0 306.5,470.0" fill="#bfc0c2" stroke="#555" stroke-width="0.60" stroke-linejoin="miter" />
<line x1="300.7" y1="473.1" x2="329.8" y2="473.1" stroke="#e6e6e6" stroke-width="1.00"/>
<line x1="300.7" y1="472.0" x2="329.8" y2="472.0" stroke="#555" stroke-width="0.60"/>
<line x1="300.7" y1="476.4" x2="329.8" y2="476.4" stroke="#e6e6e6" stroke-width="1.00"/>
<line x1="300.7" y1="475.2" x2="329.8" y2="475.2" stroke="#555" stroke-width="0.60"/>
<line x1="300.7" y1="479.6" x2="329.8" y2="479.6" stroke="#e6e6e6" stroke-width="1.00"/>
<line x1="300.7" y1="478.5" x2="329.8" y2="478.5" stroke="#555" stroke-width="0.60"/>
<line x1="300.7" y1="482.9" x2="329.8" y2="482.9" stroke="#e6e6e6" stroke-width="1.00"/>
<line x1="300.7" y1="481.8" x2="329.8" y2="481.8" stroke="#555" stroke-width="0.60"/>
<line x1="300.7" y1="486.1" x2="329.8" y2="486.1" stroke="#e6e6e6" stroke-width="1.00"/>
<line x1="300.7" y1="485.0" x2="329.8" y2="485.0" stroke="#555" stroke-width="0.60"/>
<line x1="300.7" y1="489.4" x2="329.8" y2="489.4" stroke="#e6e6e6" stroke-width="1.00"/>
<line x1="300.7" y1="488.2" x2="329.8" y2="488.2" stroke="#555" stroke-width="0.60"/>
<line x1="300.7" y1="492.6" x2="329.8" y2="492.6" stroke="#e6e6e6" stroke-width="1.00"/>
<line x1="300.7" y1="491.5" x2="329.8" y2="491.5" stroke="#555" stroke-width="0.60"/>
<line x1="300.7" y1="495.9" x2="329.8" y2="495.9" stroke="#e6e6e6" stroke-width="1.00"/>
<line x1="300.7" y1="494.8" x2="329.8" y2="494.8" stroke="#555" stroke-width="0.60"/>
<line x1="300.7" y1="499.1" x2="329.8" y2="499.1" stroke="#e6e6e6" stroke-width="1.00"/>
<line x1="300.7" y1="498.0" x2="329.8" y2="498.0" stroke="#555" stroke-width="0.60"/>
<line x1="300.7" y1="502.4" x2="329.8" y2="502.4" stroke="#e6e6e6" stroke-width="1.00"/>
<line x1="300.7" y1="501.2" x2="329.8" y2="501.2" stroke="#555" stroke-width="0.60"/>
<line x1="300.7" y1="505.6" x2="329.8" y2="505.6" stroke="#e6e6e6" stroke-width="1.00"/>
<line x1="300.7" y1="504.5" x2="329.8" y2="504.5" stroke="#555" stroke-width="0.60"/>
<line x1="300.7" y1="507.8" x2="329.8" y2="507.8" stroke="#555" stroke-width="0.60"/>
<line x1="315.3" y1="472.0" x2="315.3" y2="508.0" stroke="#555" stroke-width="0.60"/>
<polygon points="312.5,468.0 318.0,468.0 318.0,506.0 312.5,506.0" fill="#bfc0c2" stroke="#555" stroke-width="0.60" stroke-linejoin="miter" />
<line x1="300.7" y1="448.0" x2="329.8" y2="448.0" stroke="#555" stroke-width="0.80"/>
<polyline points="517.5,91.0 506.4,127.8" fill="none" stroke="#3b3500" stroke-width="2.20" stroke-linecap="butt"/>
<polyline points="517.5,91.0 506.4,127.8" fill="none" stroke="#d6cc6a" stroke-width="1.00" stroke-linecap="butt"/>
<polyline points="461.5,127.5 496.7,127.5" fill="none" stroke="#3b3500" stroke-width="2.60" stroke-linecap="butt"/>
<polyline points="461.5,127.5 496.7,127.5" fill="none" stroke="#d6cc6a" stroke-width="1.40" stroke-linecap="butt"/>
<polygon points="496.7,127.5 506.4,127.5 506.4,144.4 496.7,144.4" fill="none" stroke="#3b3500" stroke-width="0.80" stroke-linejoin="miter" />
<line x1="461.5" y1="148.6" x2="497.4" y2="148.6" stroke="#333" stroke-width="2.6"/>
<line x1="461.5" y1="148.6" x2="497.4" y2="148.6" stroke="#fff" stroke-width="1.4"/>
<polyline points="505.7,134.7 541.1,175.0 583.0,223.5" fill="none" stroke="#3b3500" stroke-width="2.20" stroke-linecap="butt"/>
<polyline points="505.7,134.7 541.1,175.0 583.0,223.5" fill="none" stroke="#d6cc6a" stroke-width="1.00" stroke-linecap="butt"/>
<polyline points="529.6,169.2 565.0,134.2" fill="none" stroke="#3b3500" stroke-width="2.20" stroke-linecap="butt"/>
<polyline points="529.6,169.2 565.0,134.2" fill="none" stroke="#d6cc6a" stroke-width="1.00" stroke-linecap="butt"/>
<polyline points="565.0,205.0 598.0,168.0" fill="none" stroke="#3b3500" stroke-width="2.20" stroke-linecap="butt"/>
<polyline points="565.0,205.0 598.0,168.0" fill="none" stroke="#d6cc6a" stroke-width="1.00" stroke-linecap="butt"/>
<polyline points="590.0,220.0 628.0,198.0" fill="none" stroke="#3b3500" stroke-width="2.20" stroke-linecap="butt"/>
<polyline points="590.0,220.0 628.0,198.0" fill="none" stroke="#d6cc6a" stroke-width="1.00" stroke-linecap="butt"/>
<polygon points="560.0,186.0 566.0,186.0 566.0,203.0 560.0,203.0" fill="none" stroke="#3b3500" stroke-width="0.80" stroke-linejoin="miter" />
<polyline points="631.6,279.3 653.9,304.4" fill="none" stroke="#3b3500" stroke-width="2.20" stroke-linecap="butt"/>
<polyline points="631.6,279.3 653.9,304.4" fill="none" stroke="#d6cc6a" stroke-width="1.00" stroke-linecap="butt"/>
<polyline points="661.3,304.4 694.7,279.3" fill="none" stroke="#3b3500" stroke-width="2.20" stroke-linecap="butt"/>
<polyline points="661.3,304.4 694.7,279.3" fill="none" stroke="#d6cc6a" stroke-width="1.00" stroke-linecap="butt"/>
<polyline points="609.4,298.8 635.3,326.6" fill="none" stroke="#3b3500" stroke-width="2.20" stroke-linecap="butt"/>
<polyline points="609.4,298.8 635.3,326.6" fill="none" stroke="#d6cc6a" stroke-width="1.00" stroke-linecap="butt"/>
<polyline points="577.8,322.9 605.7,352.6" fill="none" stroke="#3b3500" stroke-width="2.20" stroke-linecap="butt"/>
<polyline points="577.8,322.9 605.7,352.6" fill="none" stroke="#d6cc6a" stroke-width="1.00" stroke-linecap="butt"/>
<polyline points="666.9,319.2 691.0,348.9" fill="none" stroke="#3b3500" stroke-width="2.20" stroke-linecap="butt"/>
<polyline points="666.9,319.2 691.0,348.9" fill="none" stroke="#d6cc6a" stroke-width="1.00" stroke-linecap="butt"/>
<polygon points="629.8,328.5 646.0,316.8 668.7,341.5 652.5,353.5" fill="none" stroke="#3b3500" stroke-width="0.90" stroke-linejoin="miter" />
<line x1="638.0" y1="335.0" x2="655.0" y2="323.0" stroke="#3b3500" stroke-width="0.70"/>
<g clip-path="url(#c21)">
<polyline points="572.0,484.5 506.7,566.7" fill="none" stroke="#3b3500" stroke-width="2.20" stroke-linecap="butt"/>
<polyline points="572.0,484.5 506.7,566.7" fill="none" stroke="#d6cc6a" stroke-width="1.00" stroke-linecap="butt"/>
<polyline points="566.7,486.7 625.0,530.0" fill="none" stroke="#3b3500" stroke-width="2.20" stroke-linecap="butt"/>
<polyline points="566.7,486.7 625.0,530.0" fill="none" stroke="#d6cc6a" stroke-width="1.00" stroke-linecap="butt"/>
<polyline points="550.0,506.7 606.0,546.0" fill="none" stroke="#3b3500" stroke-width="2.20" stroke-linecap="butt"/>
<polyline points="550.0,506.7 606.0,546.0" fill="none" stroke="#d6cc6a" stroke-width="1.00" stroke-linecap="butt"/>
<polyline points="528.3,536.7 585.0,577.0" fill="none" stroke="#3b3500" stroke-width="2.20" stroke-linecap="butt"/>
<polyline points="528.3,536.7 585.0,577.0" fill="none" stroke="#d6cc6a" stroke-width="1.00" stroke-linecap="butt"/>
<polyline points="505.0,570.0 523.0,615.0" fill="none" stroke="#3b3500" stroke-width="2.20" stroke-linecap="butt"/>
<polyline points="505.0,570.0 523.0,615.0" fill="none" stroke="#d6cc6a" stroke-width="1.00" stroke-linecap="butt"/>
<polyline points="610.0,466.0 640.0,492.0" fill="none" stroke="#3b3500" stroke-width="2.20" stroke-linecap="butt"/>
<polyline points="610.0,466.0 640.0,492.0" fill="none" stroke="#d6cc6a" stroke-width="1.00" stroke-linecap="butt"/>
<polyline points="462.0,566.7 505.0,566.7" fill="none" stroke="#3b3500" stroke-width="2.20" stroke-linecap="butt"/>
<polyline points="462.0,566.7 505.0,566.7" fill="none" stroke="#d6cc6a" stroke-width="1.00" stroke-linecap="butt"/>
<polyline points="490.0,540.0 490.0,566.7" fill="none" stroke="#3b3500" stroke-width="2.20" stroke-linecap="butt"/>
<polyline points="490.0,540.0 490.0,566.7" fill="none" stroke="#d6cc6a" stroke-width="1.00" stroke-linecap="butt"/>
</g>
<g clip-path="url(#c22)">
<polyline points="489.0,436.0 547.0,477.0" fill="none" stroke="#3b3500" stroke-width="2.20" stroke-linecap="butt"/>
<polyline points="489.0,436.0 547.0,477.0" fill="none" stroke="#d6cc6a" stroke-width="1.00" stroke-linecap="butt"/>
<polyline points="524.0,407.0 552.0,437.0" fill="none" stroke="#3b3500" stroke-width="2.20" stroke-linecap="butt"/>
<polyline points="524.0,407.0 552.0,437.0" fill="none" stroke="#d6cc6a" stroke-width="1.00" stroke-linecap="butt"/>
<polyline points="528.0,456.0 556.0,435.0" fill="none" stroke="#3b3500" stroke-width="2.20" stroke-linecap="butt"/>
<polyline points="528.0,456.0 556.0,435.0" fill="none" stroke="#d6cc6a" stroke-width="1.00" stroke-linecap="butt"/>
<polyline points="495.0,513.0 512.0,513.0" fill="none" stroke="#3b3500" stroke-width="2.20" stroke-linecap="butt"/>
<polyline points="495.0,513.0 512.0,513.0" fill="none" stroke="#d6cc6a" stroke-width="1.00" stroke-linecap="butt"/>
<path d="M 538 431 A 9 9 0 0 1 548 446" fill="none" stroke="#3b3500" stroke-width="0.8"/>
</g>
<line x1="479.2" y1="249.3" x2="522.6" y2="214.6" stroke="#1d3552" stroke-width="2.90"/>
<line x1="479.2" y1="249.3" x2="522.6" y2="214.6" stroke="#fff" stroke-width="1.40"/>
<line x1="516.5" y1="288.6" x2="550.0" y2="262.3" stroke="#1d3552" stroke-width="2.50"/>
<line x1="516.5" y1="288.6" x2="550.0" y2="262.3" stroke="#fff" stroke-width="1.00"/>
<line x1="528.5" y1="301.6" x2="551.9" y2="285.6" stroke="#1d3552" stroke-width="2.50"/>
<line x1="528.5" y1="301.6" x2="551.9" y2="285.6" stroke="#fff" stroke-width="1.00"/>
<line x1="728.3" y1="388.7" x2="764.6" y2="359.8" stroke="#1d3552" stroke-width="2.50"/>
<line x1="728.3" y1="388.7" x2="764.6" y2="359.8" stroke="#fff" stroke-width="1.00"/>
<line x1="743.3" y1="408.2" x2="782.2" y2="379.7" stroke="#1d3552" stroke-width="2.50"/>
<line x1="743.3" y1="408.2" x2="782.2" y2="379.7" stroke="#fff" stroke-width="1.00"/>
<line x1="766.0" y1="439.3" x2="807.6" y2="416.3" stroke="#1d3552" stroke-width="2.50"/>
<line x1="766.0" y1="439.3" x2="807.6" y2="416.3" stroke="#fff" stroke-width="1.00"/>
<line x1="777.8" y1="474.4" x2="827.4" y2="459.5" stroke="#1d3552" stroke-width="2.50"/>
<line x1="777.8" y1="474.4" x2="827.4" y2="459.5" stroke="#fff" stroke-width="1.00"/>
<line x1="784.5" y1="519.2" x2="839.2" y2="519.2" stroke="#1d3552" stroke-width="2.50"/>
<line x1="784.5" y1="519.2" x2="839.2" y2="519.2" stroke="#fff" stroke-width="1.00"/>
<line x1="785.0" y1="562.0" x2="839.2" y2="562.0" stroke="#1d3552" stroke-width="2.50"/>
<line x1="785.0" y1="562.0" x2="839.2" y2="562.0" stroke="#fff" stroke-width="1.00"/>
<line x1="686.5" y1="490.5" x2="723.4" y2="475.8" stroke="#1d3552" stroke-width="2.50"/>
<line x1="686.5" y1="490.5" x2="723.4" y2="475.8" stroke="#fff" stroke-width="1.00"/>
<line x1="690.6" y1="509.2" x2="732.5" y2="501.5" stroke="#1d3552" stroke-width="2.50"/>
<line x1="690.6" y1="509.2" x2="732.5" y2="501.5" stroke="#fff" stroke-width="1.00"/>
<polygon points="137.1,138.1 137.1,146.9 126.4,146.9" fill="none" stroke="#1d3552" stroke-width="0.75"/>
<polygon points="171.0,142.5 171.0,150.8 161.6,150.8" fill="none" stroke="#1d3552" stroke-width="0.75"/>
<polygon points="143.0,111.2 153.8,111.2 153.8,122.5" fill="none" stroke="#1d3552" stroke-width="0.75"/>
<polygon points="199.0,140.0 199.0,150.8 188.9,150.8" fill="none" stroke="#1d3552" stroke-width="0.75"/>
<polygon points="226.0,140.0 226.0,150.8 215.3,150.8" fill="none" stroke="#1d3552" stroke-width="0.75"/>
<polygon points="204.5,129.3 215.3,129.3 204.5,140.0" fill="none" stroke="#1d3552" stroke-width="0.75"/>
<polygon points="257.5,130.0 267.2,130.0 257.5,140.6" fill="none" stroke="#1d3552" stroke-width="0.75"/>
<polygon points="285.5,140.6 285.5,150.8 274.7,150.8" fill="none" stroke="#1d3552" stroke-width="0.75"/>
<polygon points="296.2,127.7 307.0,127.7 296.2,138.5" fill="none" stroke="#1d3552" stroke-width="0.75"/>
<polygon points="350.0,140.6 350.0,150.8 339.0,150.8" fill="none" stroke="#1d3552" stroke-width="0.75"/>
<polygon points="374.7,140.6 374.7,150.8 364.0,150.8" fill="none" stroke="#1d3552" stroke-width="0.75"/>
<polygon points="409.0,128.8 417.7,128.8 409.0,138.5" fill="none" stroke="#1d3552" stroke-width="0.75"/>
<polygon points="143.6,181.0 153.8,181.0 153.8,192.8" fill="none" stroke="#1d3552" stroke-width="0.75"/>
<polygon points="127.4,223.2 127.4,232.0 119.6,232.0" fill="none" stroke="#1d3552" stroke-width="0.75"/>
<polygon points="119.6,235.9 127.4,235.9 127.4,243.7" fill="none" stroke="#1d3552" stroke-width="0.75"/>
<polygon points="140.0,218.3 151.8,218.3 151.8,230.0" fill="none" stroke="#1d3552" stroke-width="0.75"/>
<polygon points="139.1,250.5 139.1,259.3 128.4,259.3" fill="none" stroke="#1d3552" stroke-width="0.75"/>
<polygon points="140.0,278.9 151.8,278.9 151.8,290.6" fill="none" stroke="#1d3552" stroke-width="0.75"/>
<polygon points="139.1,308.2 139.1,317.0 128.4,317.0" fill="none" stroke="#1d3552" stroke-width="0.75"/>
<polygon points="140.0,368.8 151.8,368.8 151.8,380.5" fill="none" stroke="#1d3552" stroke-width="0.75"/>
<polygon points="140.0,427.4 151.8,427.4 151.8,439.1" fill="none" stroke="#1d3552" stroke-width="0.75"/>
<polygon points="141.0,499.8 151.8,499.8 151.8,510.5" fill="none" stroke="#1d3552" stroke-width="0.75"/>
<polygon points="110.8,507.6 120.5,517.4 110.8,517.4" fill="none" stroke="#1d3552" stroke-width="0.75"/>
<polygon points="113.7,528.0 123.5,528.0 123.5,538.0" fill="none" stroke="#1d3552" stroke-width="0.75"/>
<polygon points="142.0,571.8 151.8,571.8 151.8,583.5" fill="none" stroke="#1d3552" stroke-width="0.75"/>
<polygon points="161.6,543.4 172.3,543.4 161.6,554.2" fill="none" stroke="#1d3552" stroke-width="0.75"/>
<polygon points="177.2,564.0 177.2,572.7 166.4,572.7" fill="none" stroke="#1d3552" stroke-width="0.75"/>
<polygon points="188.2,543.4 199.6,543.4 188.2,554.2" fill="none" stroke="#1d3552" stroke-width="0.75"/>
<polygon points="239.7,543.4 250.4,543.4 239.7,555.2" fill="none" stroke="#1d3552" stroke-width="0.75"/>
<polygon points="276.2,543.0 288.0,543.0 276.2,554.8" fill="none" stroke="#1d3552" stroke-width="0.75"/>
<polygon points="336.9,543.0 347.4,543.0 336.9,554.8" fill="none" stroke="#1d3552" stroke-width="0.75"/>
<polygon points="373.9,543.0 385.7,543.0 373.9,554.8" fill="none" stroke="#1d3552" stroke-width="0.75"/>
<polygon points="426.7,543.0 438.6,543.0 426.7,554.8" fill="none" stroke="#1d3552" stroke-width="0.75"/>
<polygon points="315.8,553.5 326.4,565.4 315.8,565.4" fill="none" stroke="#1d3552" stroke-width="0.75"/>
<polygon points="344.9,557.5 355.4,569.4 344.9,569.4" fill="none" stroke="#1d3552" stroke-width="0.75"/>
<polygon points="397.5,556.1 408.1,568.0 397.5,568.0" fill="none" stroke="#1d3552" stroke-width="0.75"/>
<polygon points="281.5,507.3 281.5,517.8 270.9,517.8" fill="none" stroke="#1d3552" stroke-width="0.75"/>
<polygon points="367.2,507.3 367.2,517.8 356.7,517.8" fill="none" stroke="#1d3552" stroke-width="0.75"/>
<polygon points="404.1,507.3 404.1,517.8 393.6,517.8" fill="none" stroke="#1d3552" stroke-width="0.75"/>
<polygon points="438.4,507.3 438.4,517.8 428.0,517.8" fill="none" stroke="#1d3552" stroke-width="0.75"/>
<polygon points="383.0,496.7 392.3,507.3 383.0,507.3" fill="none" stroke="#1d3552" stroke-width="0.75"/>
<polygon points="413.4,496.7 424.0,507.3 413.4,507.3" fill="none" stroke="#1d3552" stroke-width="0.75"/>
<polygon points="272.6,176.0 284.4,176.0 272.6,184.7" fill="none" stroke="#1d3552" stroke-width="0.75"/>
<polygon points="391.9,176.0 402.6,176.0 391.9,184.7" fill="none" stroke="#1d3552" stroke-width="0.75"/>
<polygon points="428.5,176.0 438.2,176.0 428.5,183.6" fill="none" stroke="#1d3552" stroke-width="0.75"/>
<polygon points="179.1,262.3 189.0,262.3 179.1,272.0" fill="none" stroke="#1d3552" stroke-width="0.75"/>
<polygon points="177.2,419.6 188.0,419.6 177.2,430.4" fill="none" stroke="#1d3552" stroke-width="0.75"/>
<polygon points="716.0,372.0 724.0,384.0 716.0,384.0" fill="none" stroke="#1d3552" stroke-width="0.75"/>
<polygon points="733.0,396.0 745.0,396.0 733.0,405.0" fill="none" stroke="#1d3552" stroke-width="0.75"/>
<polygon points="779.0,429.0 789.0,429.0 779.0,437.0" fill="none" stroke="#1d3552" stroke-width="0.75"/>
<polygon points="770.0,450.0 778.8,463.6 770.0,463.6" fill="none" stroke="#1d3552" stroke-width="0.75"/>
<polygon points="787.5,468.8 794.4,468.8 787.5,476.0" fill="none" stroke="#1d3552" stroke-width="0.75"/>
<polygon points="772.0,480.0 779.0,492.0 772.0,492.0" fill="none" stroke="#1d3552" stroke-width="0.75"/>
<polygon points="707.7,460.0 718.0,467.0 707.7,467.0" fill="none" stroke="#1d3552" stroke-width="0.75"/>
<polygon points="718.0,483.0 727.0,491.0 718.0,491.0" fill="none" stroke="#1d3552" stroke-width="0.75"/>
<polygon points="732.0,505.0 732.0,517.0 724.0,517.0" fill="none" stroke="#1d3552" stroke-width="0.75"/>
<polygon points="736.0,550.0 736.0,560.0 725.0,560.0" fill="none" stroke="#1d3552" stroke-width="0.75"/>
<polygon points="741.0,563.3 752.0,572.0 741.0,572.0" fill="none" stroke="#1d3552" stroke-width="0.75"/>
<polygon points="741.0,580.0 750.0,580.0 741.0,588.0" fill="none" stroke="#1d3552" stroke-width="0.75"/>
<polygon points="785.7,563.3 795.0,563.3 785.7,575.0" fill="none" stroke="#1d3552" stroke-width="0.75"/>
<polygon points="784.0,528.0 793.0,528.0 784.0,538.0" fill="none" stroke="#1d3552" stroke-width="0.75"/>
<polygon points="785.7,545.0 793.0,560.0 785.7,560.0" fill="none" stroke="#1d3552" stroke-width="0.75"/>
<polygon points="712.0,563.3 720.0,563.3 720.0,574.0" fill="none" stroke="#1d3552" stroke-width="0.75"/>
<polygon points="738.4,570.0 738.4,583.0 731.0,583.0" fill="none" stroke="#1d3552" stroke-width="0.75"/>
<polygon points="805.0,563.3 815.0,563.3 805.0,573.0" fill="none" stroke="#1d3552" stroke-width="0.75"/>
<polyline points="186.5,305.0 177.5,313.0 186.5,321.0" fill="none" stroke="#444" stroke-width="0.75"/>
<polyline points="186.5,386.0 177.5,394.0 186.5,402.0" fill="none" stroke="#444" stroke-width="0.75"/>
<polygon points="312.4,166.5 324.2,176.0 312.4,176.0" fill="none" stroke="#444" stroke-width="0.75"/>
<polygon points="313.1,517.8 322.3,517.8 313.1,525.8" fill="none" stroke="#444" stroke-width="0.75"/>
<polygon points="241.9,517.8 252.4,517.8 241.9,529.7" fill="none" stroke="#444" stroke-width="0.75"/>
<polygon points="194.4,289.8 204.8,289.8 204.8,299.2" fill="none" stroke="#444" stroke-width="0.75"/>
<polygon points="756.0,540.0 766.0,540.0 756.0,551.0" fill="none" stroke="#444" stroke-width="0.75"/>
<polygon points="745.0,433.0 753.0,433.0 745.0,446.0" fill="none" stroke="#444" stroke-width="0.75"/>
<polygon points="705.0,430.0 712.0,440.0 705.0,440.0" fill="none" stroke="#444" stroke-width="0.75"/>
<polygon points="512.0,108.3 519.0,118.8 512.0,118.8" fill="none" stroke="#2e2a00" stroke-width="0.75"/>
<polygon points="506.4,120.8 506.4,127.0 499.4,127.0" fill="none" stroke="#2e2a00" stroke-width="0.75"/>
<polygon points="519.0,146.0 530.0,152.0 519.0,152.0" fill="none" stroke="#2e2a00" stroke-width="0.75"/>
<polygon points="550.0,157.0 560.0,157.0 560.0,165.0" fill="none" stroke="#2e2a00" stroke-width="0.75"/>
<polygon points="593.0,178.0 601.0,186.0 593.0,186.0" fill="none" stroke="#2e2a00" stroke-width="0.75"/>
<polygon points="567.0,196.0 575.0,196.0 567.0,205.0" fill="none" stroke="#2e2a00" stroke-width="0.75"/>
<polygon points="575.0,209.0 587.0,216.0 575.0,216.0" fill="none" stroke="#2e2a00" stroke-width="0.75"/>
<polygon points="615.0,225.0 622.0,233.0 615.0,233.0" fill="none" stroke="#2e2a00" stroke-width="0.75"/>
<polygon points="642.0,279.0 655.0,279.0 642.0,286.0" fill="none" stroke="#2e2a00" stroke-width="0.75"/>
<polygon points="610.0,290.0 620.0,296.0 610.0,296.0" fill="none" stroke="#2e2a00" stroke-width="0.75"/>
<polygon points="616.0,313.0 627.0,313.0 616.0,320.0" fill="none" stroke="#2e2a00" stroke-width="0.75"/>
<polygon points="664.0,316.0 675.0,324.0 664.0,324.0" fill="none" stroke="#2e2a00" stroke-width="0.75"/>
<polygon points="676.0,325.0 687.0,325.0 676.0,333.0" fill="none" stroke="#2e2a00" stroke-width="0.75"/>
<polygon points="591.0,343.0 601.0,349.0 591.0,349.0" fill="none" stroke="#2e2a00" stroke-width="0.75"/>
<polygon points="654.0,325.0 662.0,325.0 654.0,333.0" fill="none" stroke="#2e2a00" stroke-width="0.75"/>
<polygon points="519.0,406.0 529.0,415.0 519.0,415.0" fill="none" stroke="#2e2a00" stroke-width="0.75"/>
<polygon points="521.0,449.0 530.0,456.0 521.0,456.0" fill="none" stroke="#2e2a00" stroke-width="0.75"/>
<polygon points="527.0,427.0 537.0,427.0 527.0,436.0" fill="none" stroke="#2e2a00" stroke-width="0.75"/>
<polygon points="545.0,453.0 545.0,460.0 537.0,460.0" fill="none" stroke="#2e2a00" stroke-width="0.75"/>
<polygon points="522.0,473.0 531.0,473.0 522.0,478.0" fill="none" stroke="#2e2a00" stroke-width="0.75"/>
<polygon points="526.0,487.0 535.0,494.0 526.0,494.0" fill="none" stroke="#2e2a00" stroke-width="0.75"/>
<polygon points="500.0,503.0 510.0,510.0 500.0,510.0" fill="none" stroke="#2e2a00" stroke-width="0.75"/>
<polygon points="566.0,478.0 575.0,486.0 566.0,486.0" fill="none" stroke="#2e2a00" stroke-width="0.75"/>
<polygon points="590.0,503.0 600.0,503.0 590.0,511.0" fill="none" stroke="#2e2a00" stroke-width="0.75"/>
<polygon points="551.0,503.0 560.0,511.0 551.0,511.0" fill="none" stroke="#2e2a00" stroke-width="0.75"/>
<polygon points="532.0,534.0 540.0,534.0 532.0,541.0" fill="none" stroke="#2e2a00" stroke-width="0.75"/>
<polygon points="513.0,546.0 521.0,553.0 513.0,553.0" fill="none" stroke="#2e2a00" stroke-width="0.75"/>
<polygon points="500.0,568.0 512.0,568.0 512.0,574.0" fill="none" stroke="#2e2a00" stroke-width="0.75"/>
<polygon points="533.0,590.0 533.0,598.0 524.0,598.0" fill="none" stroke="#2e2a00" stroke-width="0.75"/>
<polygon points="620.0,481.0 628.0,489.0 620.0,489.0" fill="none" stroke="#2e2a00" stroke-width="0.75"/>
<polygon points="485.0,543.0 490.0,552.0 485.0,552.0" fill="none" stroke="#2e2a00" stroke-width="0.75"/>
<polygon points="513.0,525.0 513.0,531.0 505.0,531.0" fill="none" stroke="#2e2a00" stroke-width="0.75"/>
<text transform="translate(115.0,119.8) scale(0.720,1)" font-size="10.5" font-weight="bold" fill="#11294b" text-anchor="middle" stroke="#11294b" stroke-width="0.25">312.a</text>
<text transform="translate(166.0,119.8) scale(0.720,1)" font-size="10.5" font-weight="bold" fill="#11294b" text-anchor="middle" stroke="#11294b" stroke-width="0.25">312</text>
<text transform="translate(193.2,119.8) scale(0.720,1)" font-size="10.5" font-weight="bold" fill="#11294b" text-anchor="middle" stroke="#11294b" stroke-width="0.25">311</text>
<text transform="translate(231.0,119.8) scale(0.720,1)" font-size="10.5" font-weight="bold" fill="#11294b" text-anchor="middle" stroke="#11294b" stroke-width="0.25">310</text>
<text transform="translate(277.8,119.8) scale(0.720,1)" font-size="10.5" font-weight="bold" fill="#11294b" text-anchor="middle" stroke="#11294b" stroke-width="0.25">309</text>
<text transform="translate(328.0,119.8) scale(0.720,1)" font-size="10.5" font-weight="bold" fill="#11294b" text-anchor="middle" stroke="#11294b" stroke-width="0.25">308</text>
<text transform="translate(379.5,119.8) scale(0.720,1)" font-size="10.5" font-weight="bold" fill="#11294b" text-anchor="middle" stroke="#11294b" stroke-width="0.25">307</text>
<text transform="translate(432.3,117.8) scale(0.720,1)" font-size="10.5" font-weight="bold" fill="#11294b" text-anchor="middle" stroke="#11294b" stroke-width="0.25">306</text>
<text transform="translate(112.0,179.8) scale(0.720,1)" font-size="10.5" font-weight="bold" fill="#11294b" text-anchor="middle" stroke="#11294b" stroke-width="0.25">313</text>
<text transform="translate(107.0,224.8) scale(0.720,1)" font-size="10.5" font-weight="bold" fill="#11294b" text-anchor="middle" stroke="#11294b" stroke-width="0.25">314.a</text>
<text transform="translate(107.0,249.8) scale(0.720,1)" font-size="10.5" font-weight="bold" fill="#11294b" text-anchor="middle" stroke="#11294b" stroke-width="0.25">314.b</text>
<text transform="translate(139.0,235.8) scale(0.720,1)" font-size="10.5" font-weight="bold" fill="#11294b" text-anchor="middle" stroke="#11294b" stroke-width="0.25">314</text>
<text transform="translate(114.0,291.8) scale(0.720,1)" font-size="10.5" font-weight="bold" fill="#11294b" text-anchor="middle" stroke="#11294b" stroke-width="0.25">315</text>
<text transform="translate(114.0,376.8) scale(0.720,1)" font-size="10.5" font-weight="bold" fill="#11294b" text-anchor="middle" stroke="#11294b" stroke-width="0.25">316</text>
<text transform="translate(115.0,496.8) scale(0.720,1)" font-size="10.5" font-weight="bold" fill="#11294b" text-anchor="middle" stroke="#11294b" stroke-width="0.25">318</text>
<text transform="translate(101.0,533.8) scale(0.720,1)" font-size="10.5" font-weight="bold" fill="#11294b" text-anchor="middle" stroke="#11294b" stroke-width="0.25">318.a</text>
<text transform="translate(136.0,537.8) scale(0.720,1)" font-size="10.5" font-weight="bold" fill="#11294b" text-anchor="middle" stroke="#11294b" stroke-width="0.25">318.b</text>
<text transform="translate(118.0,579.8) scale(0.720,1)" font-size="10.5" font-weight="bold" fill="#11294b" text-anchor="middle" stroke="#11294b" stroke-width="0.25">319.a</text>
<text transform="translate(164.0,583.8) scale(0.720,1)" font-size="10.5" font-weight="bold" fill="#11294b" text-anchor="middle" stroke="#11294b" stroke-width="0.25">319</text>
<text transform="translate(193.0,583.8) scale(0.720,1)" font-size="10.5" font-weight="bold" fill="#11294b" text-anchor="middle" stroke="#11294b" stroke-width="0.25">320</text>
<text transform="translate(232.0,583.8) scale(0.720,1)" font-size="10.5" font-weight="bold" fill="#11294b" text-anchor="middle" stroke="#11294b" stroke-width="0.25">321</text>
<text transform="translate(281.0,583.8) scale(0.720,1)" font-size="10.5" font-weight="bold" fill="#11294b" text-anchor="middle" stroke="#11294b" stroke-width="0.25">322</text>
<text transform="translate(312.0,583.8) scale(0.720,1)" font-size="10.5" font-weight="bold" fill="#11294b" text-anchor="middle" stroke="#11294b" stroke-width="0.25">323.a</text>
<text transform="translate(340.0,583.8) scale(0.720,1)" font-size="10.5" font-weight="bold" fill="#11294b" text-anchor="middle" stroke="#11294b" stroke-width="0.25">323</text>
<text transform="translate(384.0,583.8) scale(0.720,1)" font-size="10.5" font-weight="bold" fill="#11294b" text-anchor="middle" stroke="#11294b" stroke-width="0.25">324</text>
<text transform="translate(432.0,583.8) scale(0.720,1)" font-size="10.5" font-weight="bold" fill="#11294b" text-anchor="middle" stroke="#11294b" stroke-width="0.25">325</text>
<text transform="translate(276.0,204.8) scale(0.720,1)" font-size="10.5" font-weight="bold" fill="#11294b" text-anchor="middle" stroke="#11294b" stroke-width="0.25">302</text>
<text transform="translate(366.0,206.8) scale(0.720,1)" font-size="10.5" font-weight="bold" fill="#11294b" text-anchor="middle" stroke="#11294b" stroke-width="0.25">303</text>
<text transform="translate(399.0,206.8) scale(0.720,1)" font-size="10.5" font-weight="bold" fill="#11294b" text-anchor="middle" stroke="#11294b" stroke-width="0.25">304</text>
<text transform="translate(432.0,206.8) scale(0.720,1)" font-size="10.5" font-weight="bold" fill="#11294b" text-anchor="middle" stroke="#11294b" stroke-width="0.25">305</text>
<text transform="translate(204.0,271.8) scale(0.720,1)" font-size="10.5" font-weight="bold" fill="#11294b" text-anchor="middle" stroke="#11294b" stroke-width="0.25">301</text>
<text transform="translate(205.0,430.8) scale(0.720,1)" font-size="10.5" font-weight="bold" fill="#11294b" text-anchor="middle" stroke="#11294b" stroke-width="0.25">337</text>
<text transform="translate(276.0,493.8) scale(0.720,1)" font-size="10.5" font-weight="bold" fill="#11294b" text-anchor="middle" stroke="#11294b" stroke-width="0.25">329</text>
<text transform="translate(359.0,493.8) scale(0.720,1)" font-size="10.5" font-weight="bold" fill="#11294b" text-anchor="middle" stroke="#11294b" stroke-width="0.25">328</text>
<text transform="translate(399.0,493.8) scale(0.720,1)" font-size="10.5" font-weight="bold" fill="#11294b" text-anchor="middle" stroke="#11294b" stroke-width="0.25">327</text>
<text transform="translate(432.0,493.8) scale(0.720,1)" font-size="10.5" font-weight="bold" fill="#11294b" text-anchor="middle" stroke="#11294b" stroke-width="0.25">326</text>
<text transform="translate(486.0,223.8) scale(0.720,1)" font-size="10.5" font-weight="bold" fill="#11294b" text-anchor="middle" stroke="#11294b" stroke-width="0.25">311</text>
<text transform="translate(530.0,249.8) scale(0.720,1)" font-size="10.5" font-weight="bold" fill="#11294b" text-anchor="middle" stroke="#11294b" stroke-width="0.25">313</text>
<text transform="translate(537.0,287.8) scale(0.720,1)" font-size="10.5" font-weight="bold" fill="#11294b" text-anchor="middle" stroke="#11294b" stroke-width="0.25">314</text>
<text transform="translate(546.0,307.8) scale(0.720,1)" font-size="10.5" font-weight="bold" fill="#11294b" text-anchor="middle" stroke="#11294b" stroke-width="0.25">315</text>
<text transform="translate(631.0,253.8) scale(0.720,1)" font-size="10.5" font-weight="bold" fill="#11294b" text-anchor="middle" stroke="#11294b" stroke-width="0.25">337</text>
<text transform="translate(676.0,414.8) scale(0.720,1)" font-size="10.5" font-weight="bold" fill="#11294b" text-anchor="middle" stroke="#11294b" stroke-width="0.25">347</text>
<text transform="translate(647.0,436.8) scale(0.720,1)" font-size="10.5" font-weight="bold" fill="#11294b" text-anchor="middle" stroke="#11294b" stroke-width="0.25">346</text>
<text transform="translate(681.7,370.1) scale(0.720,1)" font-size="9.5" font-weight="bold" fill="#11294b" text-anchor="middle" stroke="#11294b" stroke-width="0.25">357</text>
<text transform="translate(734.6,363.8) scale(0.720,1)" font-size="10.5" font-weight="bold" fill="#11294b" text-anchor="middle" stroke="#11294b" stroke-width="0.25">370</text>
<text transform="translate(756.0,387.8) scale(0.720,1)" font-size="10.5" font-weight="bold" fill="#11294b" text-anchor="middle" stroke="#11294b" stroke-width="0.25">369</text>
<text transform="translate(777.0,419.8) scale(0.720,1)" font-size="10.5" font-weight="bold" fill="#11294b" text-anchor="middle" stroke="#11294b" stroke-width="0.25">368</text>
<text transform="translate(796.0,452.8) scale(0.720,1)" font-size="10.5" font-weight="bold" fill="#11294b" text-anchor="middle" stroke="#11294b" stroke-width="0.25">367</text>
<text transform="translate(810.0,494.8) scale(0.720,1)" font-size="10.5" font-weight="bold" fill="#11294b" text-anchor="middle" stroke="#11294b" stroke-width="0.25">366</text>
<text transform="translate(812.0,543.8) scale(0.720,1)" font-size="10.5" font-weight="bold" fill="#11294b" text-anchor="middle" stroke="#11294b" stroke-width="0.25">365</text>
<text transform="translate(810.0,596.8) scale(0.720,1)" font-size="10.5" font-weight="bold" fill="#11294b" text-anchor="middle" stroke="#11294b" stroke-width="0.25">364</text>
<text transform="translate(763.0,602.8) scale(0.720,1)" font-size="10.5" font-weight="bold" fill="#11294b" text-anchor="middle" stroke="#11294b" stroke-width="0.25">363</text>
<text transform="translate(763.0,574.8) scale(0.720,1)" font-size="10.5" font-weight="bold" fill="#11294b" text-anchor="middle" stroke="#11294b" stroke-width="0.25">363.b</text>
<text transform="translate(715.0,594.8) scale(0.720,1)" font-size="10.5" font-weight="bold" fill="#11294b" text-anchor="middle" stroke="#11294b" stroke-width="0.25">362</text>
<text transform="translate(713.3,537.1) scale(0.720,1)" font-size="10.5" font-weight="bold" fill="#11294b" text-anchor="middle" stroke="#11294b" stroke-width="0.25">361</text>
<text transform="translate(707.8,496.0) scale(0.720,1)" font-size="10.5" font-weight="bold" fill="#11294b" text-anchor="middle" stroke="#11294b" stroke-width="0.25">360</text>
<text transform="translate(693.3,471.6) scale(0.720,1)" font-size="10.5" font-weight="bold" fill="#11294b" text-anchor="middle" stroke="#11294b" stroke-width="0.25">359</text>
<circle cx="552" cy="172" r="7" fill="none" stroke="#111" stroke-width="1.1"/>
<text transform="translate(552.0,175.8) scale(0.800,1)" font-size="9.5" font-weight="bold" fill="#111" text-anchor="middle">19</text>
<circle cx="658" cy="313" r="7" fill="none" stroke="#111" stroke-width="1.1"/>
<text transform="translate(658.0,316.3) scale(0.800,1)" font-size="9.5" font-weight="bold" fill="#111" text-anchor="middle">20</text>
<circle cx="565" cy="520" r="7" fill="none" stroke="#111" stroke-width="1.1"/>
<text transform="translate(565.0,523.3) scale(0.800,1)" font-size="9.5" font-weight="bold" fill="#111" text-anchor="middle">21</text>
<circle cx="517" cy="464" r="7" fill="none" stroke="#111" stroke-width="1.1"/>
<text transform="translate(517.0,467.3) scale(0.800,1)" font-size="9.5" font-weight="bold" fill="#111" text-anchor="middle">22</text>
<polygon points="613.0,21.7 641.0,21.7 641.0,26.7 613.0,26.7" fill="#1a9cd8" stroke="none" />
<text transform="translate(643.7,27.1) scale(0.620,1)" font-size="8.4" font-weight="bold" fill="#231f20" text-anchor="start" letter-spacing="0.30">kanceláře</text>
<polygon points="613.0,31.4 641.0,31.4 641.0,36.4 613.0,36.4" fill="#f7941d" stroke="none" />
<text transform="translate(643.7,36.8) scale(0.620,1)" font-size="8.4" font-weight="bold" fill="#231f20" text-anchor="start" letter-spacing="0.30">služby</text>
<polygon points="613.0,41.0 641.0,41.0 641.0,46.0 613.0,46.0" fill="#8dc63f" stroke="none" />
<text transform="translate(643.7,46.4) scale(0.620,1)" font-size="8.4" font-weight="bold" fill="#231f20" text-anchor="start" letter-spacing="0.30">sklady</text>
<polygon points="613.0,50.7 641.0,50.7 641.0,55.7 613.0,55.7" fill="#ec008c" stroke="none" />
<text transform="translate(643.7,56.1) scale(0.620,1)" font-size="8.4" font-weight="bold" fill="#231f20" text-anchor="start" letter-spacing="0.30">technologie</text>
<polygon points="613.0,60.3 641.0,60.3 641.0,65.3 613.0,65.3" fill="#f5a8cb" stroke="none" />
<text transform="translate(643.7,65.7) scale(0.620,1)" font-size="8.4" font-weight="bold" fill="#231f20" text-anchor="start" letter-spacing="0.30">sociální zařízení, sprchy</text>
<polygon points="613.0,70.0 641.0,70.0 641.0,75.0 613.0,75.0" fill="#bcbec0" stroke="none" />
<text transform="translate(643.7,75.4) scale(0.620,1)" font-size="8.4" font-weight="bold" fill="#231f20" text-anchor="start" letter-spacing="0.30">schody, chodby, výtahy</text>
<polygon points="613.0,79.7 641.0,79.7 641.0,84.7 613.0,84.7" fill="#b08a62" stroke="none" />
<text transform="translate(643.7,85.1) scale(0.620,1)" font-size="8.4" font-weight="bold" fill="#231f20" text-anchor="start" letter-spacing="0.30">garáže</text>
<polygon points="613.0,89.3 641.0,89.3 641.0,94.3 613.0,94.3" fill="#fff23a" stroke="none" />
<text transform="translate(643.7,94.7) scale(0.620,1)" font-size="8.4" font-weight="bold" fill="#231f20" text-anchor="start" letter-spacing="0.30">kuchyňka</text>
<polygon points="613.0,99.0 641.0,99.0 641.0,104.0 613.0,104.0" fill="#65499d" stroke="none" />
<text transform="translate(643.7,104.4) scale(0.620,1)" font-size="8.4" font-weight="bold" fill="#231f20" text-anchor="start" letter-spacing="0.30">obchodní plochy</text>
<polygon points="613.0,108.6 641.0,108.6 641.0,113.6 613.0,113.6" fill="#1ea77a" stroke="none" />
<text transform="translate(643.7,114.0) scale(0.620,1)" font-size="8.4" font-weight="bold" fill="#231f20" text-anchor="start" letter-spacing="0.30">vstupní hala</text>
<polygon points="613.0,118.3 641.0,118.3 641.0,123.3 613.0,123.3" fill="#c2b400" stroke="none" />
<text transform="translate(643.7,123.7) scale(0.620,1)" font-size="8.4" font-weight="bold" fill="#231f20" text-anchor="start" letter-spacing="0.30">byty</text>
<text transform="translate(751.4,27.0) scale(0.640,1)" font-size="7.9" font-weight="bold" fill="#231f20" text-anchor="start" letter-spacing="0.30">č.</text>
<text transform="translate(771.2,27.0) scale(0.640,1)" font-size="7.9" font-weight="bold" fill="#231f20" text-anchor="start" letter-spacing="0.30">účel</text>
<text transform="translate(822.8,27.0) scale(0.640,1)" font-size="7.9" font-weight="bold" fill="#231f20" text-anchor="start" letter-spacing="0.30">patro</text>
<text transform="translate(861.6,27.0) scale(0.640,1)" font-size="7.9" font-weight="bold" fill="#231f20" text-anchor="end" letter-spacing="0.30">m</text>
<text transform="translate(863.2,23.4) scale(0.780,1)" font-size="4.4" font-weight="normal" fill="#231f20" text-anchor="end">2</text>
<text transform="translate(751.5,36.9) scale(0.585,1)" font-size="8.8" font-weight="bold" fill="#231f20" text-anchor="start" letter-spacing="0.35">301</text>
<text transform="translate(771.3,36.9) scale(0.585,1)" font-size="8.8" font-weight="bold" fill="#231f20" text-anchor="start" letter-spacing="0.35">kancelář</text>
<text transform="translate(822.8,36.9) scale(0.585,1)" font-size="8.8" font-weight="bold" fill="#231f20" text-anchor="start" letter-spacing="0.35">5.NP</text>
<text transform="translate(861.7,36.9) scale(0.585,1)" font-size="8.8" font-weight="bold" fill="#231f20" text-anchor="end" letter-spacing="0.35">14,90</text>
<line x1="750.6" y1="37.4" x2="865.5" y2="37.4" stroke="#6a6a6a" stroke-width="0.80"/>
<text transform="translate(751.5,46.5) scale(0.585,1)" font-size="8.8" font-weight="bold" fill="#231f20" text-anchor="start" letter-spacing="0.35">302</text>
<text transform="translate(771.3,46.5) scale(0.585,1)" font-size="8.8" font-weight="bold" fill="#231f20" text-anchor="start" letter-spacing="0.35">kancelář</text>
<text transform="translate(822.8,46.5) scale(0.585,1)" font-size="8.8" font-weight="bold" fill="#231f20" text-anchor="start" letter-spacing="0.35">5.NP</text>
<text transform="translate(861.7,46.5) scale(0.585,1)" font-size="8.8" font-weight="bold" fill="#231f20" text-anchor="end" letter-spacing="0.35">18,24</text>
<line x1="750.6" y1="47.0" x2="865.5" y2="47.0" stroke="#6a6a6a" stroke-width="0.80"/>
<text transform="translate(751.5,56.2) scale(0.585,1)" font-size="8.8" font-weight="bold" fill="#231f20" text-anchor="start" letter-spacing="0.35">303</text>
<text transform="translate(771.3,56.2) scale(0.585,1)" font-size="8.8" font-weight="bold" fill="#231f20" text-anchor="start" letter-spacing="0.35">kancelář</text>
<text transform="translate(822.8,56.2) scale(0.585,1)" font-size="8.8" font-weight="bold" fill="#231f20" text-anchor="start" letter-spacing="0.35">5.NP</text>
<text transform="translate(861.7,56.2) scale(0.585,1)" font-size="8.8" font-weight="bold" fill="#231f20" text-anchor="end" letter-spacing="0.35">14,47</text>
<line x1="750.6" y1="56.7" x2="865.5" y2="56.7" stroke="#6a6a6a" stroke-width="0.80"/>
<text transform="translate(751.5,65.8) scale(0.585,1)" font-size="8.8" font-weight="bold" fill="#231f20" text-anchor="start" letter-spacing="0.35">304</text>
<text transform="translate(771.3,65.8) scale(0.585,1)" font-size="8.8" font-weight="bold" fill="#231f20" text-anchor="start" letter-spacing="0.35">kancelář</text>
<text transform="translate(822.8,65.8) scale(0.585,1)" font-size="8.8" font-weight="bold" fill="#231f20" text-anchor="start" letter-spacing="0.35">5.NP</text>
<text transform="translate(861.7,65.8) scale(0.585,1)" font-size="8.8" font-weight="bold" fill="#231f20" text-anchor="end" letter-spacing="0.35">11,73</text>
<line x1="750.6" y1="66.3" x2="865.5" y2="66.3" stroke="#6a6a6a" stroke-width="0.80"/>
<text transform="translate(751.5,75.5) scale(0.585,1)" font-size="8.8" font-weight="bold" fill="#231f20" text-anchor="start" letter-spacing="0.35">305</text>
<text transform="translate(771.3,75.5) scale(0.585,1)" font-size="8.8" font-weight="bold" fill="#231f20" text-anchor="start" letter-spacing="0.35">kancelář</text>
<text transform="translate(822.8,75.5) scale(0.585,1)" font-size="8.8" font-weight="bold" fill="#231f20" text-anchor="start" letter-spacing="0.35">5.NP</text>
<text transform="translate(861.7,75.5) scale(0.585,1)" font-size="8.8" font-weight="bold" fill="#231f20" text-anchor="end" letter-spacing="0.35">19,74</text>
<line x1="750.6" y1="76.0" x2="865.5" y2="76.0" stroke="#6a6a6a" stroke-width="0.80"/>
<text transform="translate(751.5,85.2) scale(0.585,1)" font-size="8.8" font-weight="bold" fill="#231f20" text-anchor="start" letter-spacing="0.35">306</text>
<text transform="translate(771.3,85.2) scale(0.585,1)" font-size="8.8" font-weight="bold" fill="#231f20" text-anchor="start" letter-spacing="0.35">kancelář</text>
<text transform="translate(822.8,85.2) scale(0.585,1)" font-size="8.8" font-weight="bold" fill="#231f20" text-anchor="start" letter-spacing="0.35">5.NP</text>
<text transform="translate(861.7,85.2) scale(0.585,1)" font-size="8.8" font-weight="bold" fill="#231f20" text-anchor="end" letter-spacing="0.35">27,11</text>
<line x1="750.6" y1="85.7" x2="865.5" y2="85.7" stroke="#6a6a6a" stroke-width="0.80"/>
<text transform="translate(751.5,94.8) scale(0.585,1)" font-size="8.8" font-weight="bold" fill="#231f20" text-anchor="start" letter-spacing="0.35">307</text>
<text transform="translate(771.3,94.8) scale(0.585,1)" font-size="8.8" font-weight="bold" fill="#231f20" text-anchor="start" letter-spacing="0.35">kancelář</text>
<text transform="translate(822.8,94.8) scale(0.585,1)" font-size="8.8" font-weight="bold" fill="#231f20" text-anchor="start" letter-spacing="0.35">5.NP</text>
<text transform="translate(861.7,94.8) scale(0.585,1)" font-size="8.8" font-weight="bold" fill="#231f20" text-anchor="end" letter-spacing="0.35">31,10</text>
<line x1="750.6" y1="95.3" x2="865.5" y2="95.3" stroke="#6a6a6a" stroke-width="0.80"/>
<text transform="translate(751.5,104.4) scale(0.585,1)" font-size="8.8" font-weight="bold" fill="#231f20" text-anchor="start" letter-spacing="0.35">308</text>
<text transform="translate(771.3,104.4) scale(0.585,1)" font-size="8.8" font-weight="bold" fill="#231f20" text-anchor="start" letter-spacing="0.35">kancelář</text>
<text transform="translate(822.8,104.4) scale(0.585,1)" font-size="8.8" font-weight="bold" fill="#231f20" text-anchor="start" letter-spacing="0.35">5.NP</text>
<text transform="translate(861.7,104.4) scale(0.585,1)" font-size="8.8" font-weight="bold" fill="#231f20" text-anchor="end" letter-spacing="0.35">33,08</text>
<line x1="750.6" y1="104.9" x2="865.5" y2="104.9" stroke="#6a6a6a" stroke-width="0.80"/>
<text transform="translate(751.5,114.1) scale(0.585,1)" font-size="8.8" font-weight="bold" fill="#231f20" text-anchor="start" letter-spacing="0.35">309</text>
<text transform="translate(771.3,114.1) scale(0.585,1)" font-size="8.8" font-weight="bold" fill="#231f20" text-anchor="start" letter-spacing="0.35">kancelář</text>
<text transform="translate(822.8,114.1) scale(0.585,1)" font-size="8.8" font-weight="bold" fill="#231f20" text-anchor="start" letter-spacing="0.35">5.NP</text>
<text transform="translate(861.7,114.1) scale(0.585,1)" font-size="8.8" font-weight="bold" fill="#231f20" text-anchor="end" letter-spacing="0.35">20,00</text>
<line x1="750.6" y1="114.6" x2="865.5" y2="114.6" stroke="#6a6a6a" stroke-width="0.80"/>
<text transform="translate(751.5,123.8) scale(0.585,1)" font-size="8.8" font-weight="bold" fill="#231f20" text-anchor="start" letter-spacing="0.35">310</text>
<text transform="translate(771.3,123.8) scale(0.585,1)" font-size="8.8" font-weight="bold" fill="#231f20" text-anchor="start" letter-spacing="0.35">kancelář</text>
<text transform="translate(822.8,123.8) scale(0.585,1)" font-size="8.8" font-weight="bold" fill="#231f20" text-anchor="start" letter-spacing="0.35">5.NP</text>
<text transform="translate(861.7,123.8) scale(0.585,1)" font-size="8.8" font-weight="bold" fill="#231f20" text-anchor="end" letter-spacing="0.35">32,50</text>
<line x1="750.6" y1="124.2" x2="865.5" y2="124.2" stroke="#6a6a6a" stroke-width="0.80"/>
<text transform="translate(751.5,133.4) scale(0.585,1)" font-size="8.8" font-weight="bold" fill="#231f20" text-anchor="start" letter-spacing="0.35">311</text>
<text transform="translate(771.3,133.4) scale(0.585,1)" font-size="8.8" font-weight="bold" fill="#231f20" text-anchor="start" letter-spacing="0.35">kancelář</text>
<text transform="translate(822.8,133.4) scale(0.585,1)" font-size="8.8" font-weight="bold" fill="#231f20" text-anchor="start" letter-spacing="0.35">5.NP</text>
<text transform="translate(861.7,133.4) scale(0.585,1)" font-size="8.8" font-weight="bold" fill="#231f20" text-anchor="end" letter-spacing="0.35">16,07</text>
<line x1="750.6" y1="133.9" x2="865.5" y2="133.9" stroke="#6a6a6a" stroke-width="0.80"/>
<text transform="translate(751.5,143.1) scale(0.585,1)" font-size="8.8" font-weight="bold" fill="#231f20" text-anchor="start" letter-spacing="0.35">312</text>
<text transform="translate(771.3,143.1) scale(0.585,1)" font-size="8.8" font-weight="bold" fill="#231f20" text-anchor="start" letter-spacing="0.35">zasedačka</text>
<text transform="translate(822.8,143.1) scale(0.585,1)" font-size="8.8" font-weight="bold" fill="#231f20" text-anchor="start" letter-spacing="0.35">5.NP</text>
<text transform="translate(861.7,143.1) scale(0.585,1)" font-size="8.8" font-weight="bold" fill="#231f20" text-anchor="end" letter-spacing="0.35">15,11</text>
<line x1="750.6" y1="143.6" x2="865.5" y2="143.6" stroke="#6a6a6a" stroke-width="0.80"/>
<text transform="translate(751.5,152.7) scale(0.585,1)" font-size="8.8" font-weight="bold" fill="#231f20" text-anchor="start" letter-spacing="0.35">312a</text>
<text transform="translate(771.3,152.7) scale(0.585,1)" font-size="8.8" font-weight="bold" fill="#231f20" text-anchor="start" letter-spacing="0.35">zasedačka</text>
<text transform="translate(822.8,152.7) scale(0.585,1)" font-size="8.8" font-weight="bold" fill="#231f20" text-anchor="start" letter-spacing="0.35">5.NP</text>
<text transform="translate(861.7,152.7) scale(0.585,1)" font-size="8.8" font-weight="bold" fill="#231f20" text-anchor="end" letter-spacing="0.35">40,37</text>
<line x1="750.6" y1="153.2" x2="865.5" y2="153.2" stroke="#6a6a6a" stroke-width="0.80"/>
<text transform="translate(751.5,162.3) scale(0.585,1)" font-size="8.8" font-weight="bold" fill="#231f20" text-anchor="start" letter-spacing="0.35">313</text>
<text transform="translate(771.3,162.3) scale(0.585,1)" font-size="8.8" font-weight="bold" fill="#231f20" text-anchor="start" letter-spacing="0.35">kancelář</text>
<text transform="translate(822.8,162.3) scale(0.585,1)" font-size="8.8" font-weight="bold" fill="#231f20" text-anchor="start" letter-spacing="0.35">5.NP</text>
<text transform="translate(861.7,162.3) scale(0.585,1)" font-size="8.8" font-weight="bold" fill="#231f20" text-anchor="end" letter-spacing="0.35">31,83</text>
<line x1="750.6" y1="162.8" x2="865.5" y2="162.8" stroke="#6a6a6a" stroke-width="0.80"/>
<text transform="translate(751.5,172.0) scale(0.585,1)" font-size="8.8" font-weight="bold" fill="#231f20" text-anchor="start" letter-spacing="0.35">314a</text>
<text transform="translate(771.3,172.0) scale(0.585,1)" font-size="8.8" font-weight="bold" fill="#231f20" text-anchor="start" letter-spacing="0.35">kancelář</text>
<text transform="translate(822.8,172.0) scale(0.585,1)" font-size="8.8" font-weight="bold" fill="#231f20" text-anchor="start" letter-spacing="0.35">5.NP</text>
<text transform="translate(861.7,172.0) scale(0.585,1)" font-size="8.8" font-weight="bold" fill="#231f20" text-anchor="end" letter-spacing="0.35">11,25</text>
<line x1="750.6" y1="172.5" x2="865.5" y2="172.5" stroke="#6a6a6a" stroke-width="0.80"/>
<text transform="translate(751.5,181.7) scale(0.585,1)" font-size="8.8" font-weight="bold" fill="#231f20" text-anchor="start" letter-spacing="0.35">314b</text>
<text transform="translate(771.3,181.7) scale(0.585,1)" font-size="8.8" font-weight="bold" fill="#231f20" text-anchor="start" letter-spacing="0.35">kancelář</text>
<text transform="translate(822.8,181.7) scale(0.585,1)" font-size="8.8" font-weight="bold" fill="#231f20" text-anchor="start" letter-spacing="0.35">5.NP</text>
<text transform="translate(861.7,181.7) scale(0.585,1)" font-size="8.8" font-weight="bold" fill="#231f20" text-anchor="end" letter-spacing="0.35">11,25</text>
<line x1="750.6" y1="182.2" x2="865.5" y2="182.2" stroke="#6a6a6a" stroke-width="0.80"/>
<text transform="translate(751.5,191.3) scale(0.585,1)" font-size="8.8" font-weight="bold" fill="#231f20" text-anchor="start" letter-spacing="0.35">315</text>
<text transform="translate(771.3,191.3) scale(0.585,1)" font-size="8.8" font-weight="bold" fill="#231f20" text-anchor="start" letter-spacing="0.35">kancelář</text>
<text transform="translate(822.8,191.3) scale(0.585,1)" font-size="8.8" font-weight="bold" fill="#231f20" text-anchor="start" letter-spacing="0.35">5.NP</text>
<text transform="translate(861.7,191.3) scale(0.585,1)" font-size="8.8" font-weight="bold" fill="#231f20" text-anchor="end" letter-spacing="0.35">33,74</text>
<line x1="750.6" y1="191.8" x2="865.5" y2="191.8" stroke="#6a6a6a" stroke-width="0.80"/>
<text transform="translate(751.5,201.0) scale(0.585,1)" font-size="8.8" font-weight="bold" fill="#231f20" text-anchor="start" letter-spacing="0.35">316</text>
<text transform="translate(771.3,201.0) scale(0.490,1)" font-size="8.8" font-weight="bold" fill="#231f20" text-anchor="start" letter-spacing="0.35">zasedací síň - velká</text>
<text transform="translate(822.8,201.0) scale(0.585,1)" font-size="8.8" font-weight="bold" fill="#231f20" text-anchor="start" letter-spacing="0.35">5.NP</text>
<text transform="translate(861.7,201.0) scale(0.585,1)" font-size="8.8" font-weight="bold" fill="#231f20" text-anchor="end" letter-spacing="0.35">86,25</text>
<line x1="750.6" y1="201.5" x2="865.5" y2="201.5" stroke="#6a6a6a" stroke-width="0.80"/>
<text transform="translate(751.5,210.6) scale(0.585,1)" font-size="8.8" font-weight="bold" fill="#231f20" text-anchor="start" letter-spacing="0.35">318</text>
<text transform="translate(771.3,210.6) scale(0.585,1)" font-size="8.8" font-weight="bold" fill="#231f20" text-anchor="start" letter-spacing="0.35">kancelář</text>
<text transform="translate(822.8,210.6) scale(0.585,1)" font-size="8.8" font-weight="bold" fill="#231f20" text-anchor="start" letter-spacing="0.35">5.NP</text>
<text transform="translate(861.7,210.6) scale(0.585,1)" font-size="8.8" font-weight="bold" fill="#231f20" text-anchor="end" letter-spacing="0.35">37,23</text>
<line x1="750.6" y1="211.1" x2="865.5" y2="211.1" stroke="#6a6a6a" stroke-width="0.80"/>
<text transform="translate(751.5,220.2) scale(0.585,1)" font-size="8.8" font-weight="bold" fill="#231f20" text-anchor="start" letter-spacing="0.35">318a</text>
<text transform="translate(771.3,220.2) scale(0.585,1)" font-size="8.8" font-weight="bold" fill="#231f20" text-anchor="start" letter-spacing="0.35">kancelář</text>
<text transform="translate(822.8,220.2) scale(0.585,1)" font-size="8.8" font-weight="bold" fill="#231f20" text-anchor="start" letter-spacing="0.35">5.NP</text>
<text transform="translate(861.7,220.2) scale(0.585,1)" font-size="8.8" font-weight="bold" fill="#231f20" text-anchor="end" letter-spacing="0.35">10,37</text>
<line x1="750.6" y1="220.8" x2="865.5" y2="220.8" stroke="#6a6a6a" stroke-width="0.80"/>
<text transform="translate(751.5,229.9) scale(0.585,1)" font-size="8.8" font-weight="bold" fill="#231f20" text-anchor="start" letter-spacing="0.35">318b</text>
<text transform="translate(771.3,229.9) scale(0.585,1)" font-size="8.8" font-weight="bold" fill="#231f20" text-anchor="start" letter-spacing="0.35">kancelář - trezor</text>
<text transform="translate(822.8,229.9) scale(0.585,1)" font-size="8.8" font-weight="bold" fill="#231f20" text-anchor="start" letter-spacing="0.35">5.NP</text>
<text transform="translate(861.7,229.9) scale(0.585,1)" font-size="8.8" font-weight="bold" fill="#231f20" text-anchor="end" letter-spacing="0.35">4,20</text>
<line x1="750.6" y1="230.4" x2="865.5" y2="230.4" stroke="#6a6a6a" stroke-width="0.80"/>
<text transform="translate(751.5,239.6) scale(0.585,1)" font-size="8.8" font-weight="bold" fill="#231f20" text-anchor="start" letter-spacing="0.35">319</text>
<text transform="translate(771.3,239.6) scale(0.585,1)" font-size="8.8" font-weight="bold" fill="#231f20" text-anchor="start" letter-spacing="0.35">kancelář</text>
<text transform="translate(822.8,239.6) scale(0.585,1)" font-size="8.8" font-weight="bold" fill="#231f20" text-anchor="start" letter-spacing="0.35">5.NP</text>
<text transform="translate(861.7,239.6) scale(0.585,1)" font-size="8.8" font-weight="bold" fill="#231f20" text-anchor="end" letter-spacing="0.35">14,80</text>
<line x1="750.6" y1="240.1" x2="865.5" y2="240.1" stroke="#6a6a6a" stroke-width="0.80"/>
<text transform="translate(751.5,249.2) scale(0.585,1)" font-size="8.8" font-weight="bold" fill="#231f20" text-anchor="start" letter-spacing="0.35">319a</text>
<text transform="translate(771.3,249.2) scale(0.585,1)" font-size="8.8" font-weight="bold" fill="#231f20" text-anchor="start" letter-spacing="0.35">kancelář</text>
<text transform="translate(822.8,249.2) scale(0.585,1)" font-size="8.8" font-weight="bold" fill="#231f20" text-anchor="start" letter-spacing="0.35">5.NP</text>
<text transform="translate(861.7,249.2) scale(0.585,1)" font-size="8.8" font-weight="bold" fill="#231f20" text-anchor="end" letter-spacing="0.35">40,76</text>
<line x1="750.6" y1="249.7" x2="865.5" y2="249.7" stroke="#6a6a6a" stroke-width="0.80"/>
<text transform="translate(751.5,258.9) scale(0.585,1)" font-size="8.8" font-weight="bold" fill="#231f20" text-anchor="start" letter-spacing="0.35">320</text>
<text transform="translate(771.3,258.9) scale(0.585,1)" font-size="8.8" font-weight="bold" fill="#231f20" text-anchor="start" letter-spacing="0.35">kancelář</text>
<text transform="translate(822.8,258.9) scale(0.585,1)" font-size="8.8" font-weight="bold" fill="#231f20" text-anchor="start" letter-spacing="0.35">5.NP</text>
<text transform="translate(861.7,258.9) scale(0.585,1)" font-size="8.8" font-weight="bold" fill="#231f20" text-anchor="end" letter-spacing="0.35">16,05</text>
<line x1="750.6" y1="259.4" x2="865.5" y2="259.4" stroke="#6a6a6a" stroke-width="0.80"/>
<text transform="translate(751.5,268.5) scale(0.585,1)" font-size="8.8" font-weight="bold" fill="#231f20" text-anchor="start" letter-spacing="0.35">321</text>
<text transform="translate(771.3,268.5) scale(0.585,1)" font-size="8.8" font-weight="bold" fill="#231f20" text-anchor="start" letter-spacing="0.35">kancelář</text>
<text transform="translate(822.8,268.5) scale(0.585,1)" font-size="8.8" font-weight="bold" fill="#231f20" text-anchor="start" letter-spacing="0.35">5.NP</text>
<text transform="translate(861.7,268.5) scale(0.585,1)" font-size="8.8" font-weight="bold" fill="#231f20" text-anchor="end" letter-spacing="0.35">31,99</text>
<line x1="750.6" y1="269.0" x2="865.5" y2="269.0" stroke="#6a6a6a" stroke-width="0.80"/>
<text transform="translate(751.5,278.1) scale(0.585,1)" font-size="8.8" font-weight="bold" fill="#231f20" text-anchor="start" letter-spacing="0.35">322</text>
<text transform="translate(771.3,278.1) scale(0.585,1)" font-size="8.8" font-weight="bold" fill="#231f20" text-anchor="start" letter-spacing="0.35">kancelář</text>
<text transform="translate(822.8,278.1) scale(0.585,1)" font-size="8.8" font-weight="bold" fill="#231f20" text-anchor="start" letter-spacing="0.35">5.NP</text>
<text transform="translate(861.7,278.1) scale(0.585,1)" font-size="8.8" font-weight="bold" fill="#231f20" text-anchor="end" letter-spacing="0.35">19,84</text>
<rect x="750.6" y="30.4" width="114.9" height="248.2" fill="none" stroke="#444" stroke-width="1.1"/>
<line x1="767.5" y1="30.4" x2="767.5" y2="278.6" stroke="#333" stroke-width="0.90"/>
<line x1="819.6" y1="30.4" x2="819.6" y2="278.6" stroke="#333" stroke-width="0.90"/>
<line x1="841.7" y1="30.4" x2="841.7" y2="278.6" stroke="#333" stroke-width="0.90"/>
<text transform="translate(881.1,27.0) scale(0.640,1)" font-size="7.9" font-weight="bold" fill="#231f20" text-anchor="start" letter-spacing="0.30">č.</text>
<text transform="translate(900.9,27.0) scale(0.640,1)" font-size="7.9" font-weight="bold" fill="#231f20" text-anchor="start" letter-spacing="0.30">účel</text>
<text transform="translate(952.5,27.0) scale(0.640,1)" font-size="7.9" font-weight="bold" fill="#231f20" text-anchor="start" letter-spacing="0.30">patro</text>
<text transform="translate(991.3,27.0) scale(0.640,1)" font-size="7.9" font-weight="bold" fill="#231f20" text-anchor="end" letter-spacing="0.30">m</text>
<text transform="translate(992.9,23.4) scale(0.780,1)" font-size="4.4" font-weight="normal" fill="#231f20" text-anchor="end">2</text>
<text transform="translate(881.2,36.9) scale(0.585,1)" font-size="8.8" font-weight="bold" fill="#231f20" text-anchor="start" letter-spacing="0.35">323</text>
<text transform="translate(901.0,36.9) scale(0.585,1)" font-size="8.8" font-weight="bold" fill="#231f20" text-anchor="start" letter-spacing="0.35">kancelář</text>
<text transform="translate(952.5,36.9) scale(0.585,1)" font-size="8.8" font-weight="bold" fill="#231f20" text-anchor="start" letter-spacing="0.35">5.NP</text>
<text transform="translate(991.4,36.9) scale(0.585,1)" font-size="8.8" font-weight="bold" fill="#231f20" text-anchor="end" letter-spacing="0.35">16,51</text>
<line x1="880.3" y1="37.4" x2="995.2" y2="37.4" stroke="#6a6a6a" stroke-width="0.80"/>
<text transform="translate(881.2,46.5) scale(0.585,1)" font-size="8.8" font-weight="bold" fill="#231f20" text-anchor="start" letter-spacing="0.35">323a</text>
<text transform="translate(901.0,46.5) scale(0.585,1)" font-size="8.8" font-weight="bold" fill="#231f20" text-anchor="start" letter-spacing="0.35">kancelář</text>
<text transform="translate(952.5,46.5) scale(0.585,1)" font-size="8.8" font-weight="bold" fill="#231f20" text-anchor="start" letter-spacing="0.35">5.NP</text>
<text transform="translate(991.4,46.5) scale(0.585,1)" font-size="8.8" font-weight="bold" fill="#231f20" text-anchor="end" letter-spacing="0.35">16,08</text>
<line x1="880.3" y1="47.0" x2="995.2" y2="47.0" stroke="#6a6a6a" stroke-width="0.80"/>
<text transform="translate(881.2,56.2) scale(0.585,1)" font-size="8.8" font-weight="bold" fill="#231f20" text-anchor="start" letter-spacing="0.35">324</text>
<text transform="translate(901.0,56.2) scale(0.585,1)" font-size="8.8" font-weight="bold" fill="#231f20" text-anchor="start" letter-spacing="0.35">kancelář</text>
<text transform="translate(952.5,56.2) scale(0.585,1)" font-size="8.8" font-weight="bold" fill="#231f20" text-anchor="start" letter-spacing="0.35">5.NP</text>
<text transform="translate(991.4,56.2) scale(0.585,1)" font-size="8.8" font-weight="bold" fill="#231f20" text-anchor="end" letter-spacing="0.35">31,67</text>
<line x1="880.3" y1="56.7" x2="995.2" y2="56.7" stroke="#6a6a6a" stroke-width="0.80"/>
<text transform="translate(881.2,65.8) scale(0.585,1)" font-size="8.8" font-weight="bold" fill="#231f20" text-anchor="start" letter-spacing="0.35">325</text>
<text transform="translate(901.0,65.8) scale(0.585,1)" font-size="8.8" font-weight="bold" fill="#231f20" text-anchor="start" letter-spacing="0.35">kancelář</text>
<text transform="translate(952.5,65.8) scale(0.585,1)" font-size="8.8" font-weight="bold" fill="#231f20" text-anchor="start" letter-spacing="0.35">5.NP</text>
<text transform="translate(991.4,65.8) scale(0.585,1)" font-size="8.8" font-weight="bold" fill="#231f20" text-anchor="end" letter-spacing="0.35">27,31</text>
<line x1="880.3" y1="66.3" x2="995.2" y2="66.3" stroke="#6a6a6a" stroke-width="0.80"/>
<text transform="translate(881.2,75.5) scale(0.585,1)" font-size="8.8" font-weight="bold" fill="#231f20" text-anchor="start" letter-spacing="0.35">326</text>
<text transform="translate(901.0,75.5) scale(0.585,1)" font-size="8.8" font-weight="bold" fill="#231f20" text-anchor="start" letter-spacing="0.35">kancelář</text>
<text transform="translate(952.5,75.5) scale(0.585,1)" font-size="8.8" font-weight="bold" fill="#231f20" text-anchor="start" letter-spacing="0.35">5.NP</text>
<text transform="translate(991.4,75.5) scale(0.585,1)" font-size="8.8" font-weight="bold" fill="#231f20" text-anchor="end" letter-spacing="0.35">16,77</text>
<line x1="880.3" y1="76.0" x2="995.2" y2="76.0" stroke="#6a6a6a" stroke-width="0.80"/>
<text transform="translate(881.2,85.2) scale(0.585,1)" font-size="8.8" font-weight="bold" fill="#231f20" text-anchor="start" letter-spacing="0.35">327</text>
<text transform="translate(901.0,85.2) scale(0.585,1)" font-size="8.8" font-weight="bold" fill="#231f20" text-anchor="start" letter-spacing="0.35">kancelář</text>
<text transform="translate(952.5,85.2) scale(0.585,1)" font-size="8.8" font-weight="bold" fill="#231f20" text-anchor="start" letter-spacing="0.35">5.NP</text>
<text transform="translate(991.4,85.2) scale(0.585,1)" font-size="8.8" font-weight="bold" fill="#231f20" text-anchor="end" letter-spacing="0.35">12,08</text>
<line x1="880.3" y1="85.7" x2="995.2" y2="85.7" stroke="#6a6a6a" stroke-width="0.80"/>
<text transform="translate(881.2,94.8) scale(0.585,1)" font-size="8.8" font-weight="bold" fill="#231f20" text-anchor="start" letter-spacing="0.35">328</text>
<text transform="translate(901.0,94.8) scale(0.585,1)" font-size="8.8" font-weight="bold" fill="#231f20" text-anchor="start" letter-spacing="0.35">kancelář</text>
<text transform="translate(952.5,94.8) scale(0.585,1)" font-size="8.8" font-weight="bold" fill="#231f20" text-anchor="start" letter-spacing="0.35">5.NP</text>
<text transform="translate(991.4,94.8) scale(0.585,1)" font-size="8.8" font-weight="bold" fill="#231f20" text-anchor="end" letter-spacing="0.35">22,45</text>
<line x1="880.3" y1="95.3" x2="995.2" y2="95.3" stroke="#6a6a6a" stroke-width="0.80"/>
<text transform="translate(881.2,104.4) scale(0.585,1)" font-size="8.8" font-weight="bold" fill="#231f20" text-anchor="start" letter-spacing="0.35">329</text>
<text transform="translate(901.0,104.4) scale(0.585,1)" font-size="8.8" font-weight="bold" fill="#231f20" text-anchor="start" letter-spacing="0.35">kancelář</text>
<text transform="translate(952.5,104.4) scale(0.585,1)" font-size="8.8" font-weight="bold" fill="#231f20" text-anchor="start" letter-spacing="0.35">5.NP</text>
<text transform="translate(991.4,104.4) scale(0.585,1)" font-size="8.8" font-weight="bold" fill="#231f20" text-anchor="end" letter-spacing="0.35">18,77</text>
<line x1="880.3" y1="104.9" x2="995.2" y2="104.9" stroke="#6a6a6a" stroke-width="0.80"/>
<text transform="translate(881.2,114.1) scale(0.585,1)" font-size="8.8" font-weight="bold" fill="#231f20" text-anchor="start" letter-spacing="0.35">337</text>
<text transform="translate(901.0,114.1) scale(0.585,1)" font-size="8.8" font-weight="bold" fill="#231f20" text-anchor="start" letter-spacing="0.35">kancelář</text>
<text transform="translate(952.5,114.1) scale(0.585,1)" font-size="8.8" font-weight="bold" fill="#231f20" text-anchor="start" letter-spacing="0.35">5.NP</text>
<text transform="translate(991.4,114.1) scale(0.585,1)" font-size="8.8" font-weight="bold" fill="#231f20" text-anchor="end" letter-spacing="0.35">16,30</text>
<line x1="880.3" y1="114.6" x2="995.2" y2="114.6" stroke="#6a6a6a" stroke-width="0.80"/>
<text transform="translate(881.2,123.8) scale(0.585,1)" font-size="8.8" font-weight="bold" fill="#231f20" text-anchor="start" letter-spacing="0.35">346</text>
<text transform="translate(901.0,123.8) scale(0.585,1)" font-size="8.8" font-weight="bold" fill="#231f20" text-anchor="start" letter-spacing="0.35">sklad</text>
<text transform="translate(952.5,123.8) scale(0.585,1)" font-size="8.8" font-weight="bold" fill="#231f20" text-anchor="start" letter-spacing="0.35">5.NP</text>
<text transform="translate(991.4,123.8) scale(0.585,1)" font-size="8.8" font-weight="bold" fill="#231f20" text-anchor="end" letter-spacing="0.35">7,60</text>
<line x1="880.3" y1="124.2" x2="995.2" y2="124.2" stroke="#6a6a6a" stroke-width="0.80"/>
<text transform="translate(881.2,133.4) scale(0.585,1)" font-size="8.8" font-weight="bold" fill="#231f20" text-anchor="start" letter-spacing="0.35">347</text>
<text transform="translate(901.0,133.4) scale(0.585,1)" font-size="8.8" font-weight="bold" fill="#231f20" text-anchor="start" letter-spacing="0.35">sklad</text>
<text transform="translate(952.5,133.4) scale(0.585,1)" font-size="8.8" font-weight="bold" fill="#231f20" text-anchor="start" letter-spacing="0.35">5.NP</text>
<text transform="translate(991.4,133.4) scale(0.585,1)" font-size="8.8" font-weight="bold" fill="#231f20" text-anchor="end" letter-spacing="0.35">13,21</text>
<line x1="880.3" y1="133.9" x2="995.2" y2="133.9" stroke="#6a6a6a" stroke-width="0.80"/>
<text transform="translate(881.2,143.1) scale(0.585,1)" font-size="8.8" font-weight="bold" fill="#231f20" text-anchor="start" letter-spacing="0.35">357</text>
<text transform="translate(901.0,143.1) scale(0.585,1)" font-size="8.8" font-weight="bold" fill="#231f20" text-anchor="start" letter-spacing="0.35">sklad</text>
<text transform="translate(952.5,143.1) scale(0.585,1)" font-size="8.8" font-weight="bold" fill="#231f20" text-anchor="start" letter-spacing="0.35">5.NP</text>
<text transform="translate(991.4,143.1) scale(0.585,1)" font-size="8.8" font-weight="bold" fill="#231f20" text-anchor="end" letter-spacing="0.35">3,87</text>
<line x1="880.3" y1="143.6" x2="995.2" y2="143.6" stroke="#6a6a6a" stroke-width="0.80"/>
<text transform="translate(881.2,152.7) scale(0.585,1)" font-size="8.8" font-weight="bold" fill="#231f20" text-anchor="start" letter-spacing="0.35">359</text>
<text transform="translate(901.0,152.7) scale(0.585,1)" font-size="8.8" font-weight="bold" fill="#231f20" text-anchor="start" letter-spacing="0.35">kancelář</text>
<text transform="translate(952.5,152.7) scale(0.585,1)" font-size="8.8" font-weight="bold" fill="#231f20" text-anchor="start" letter-spacing="0.35">5.NP</text>
<text transform="translate(991.4,152.7) scale(0.585,1)" font-size="8.8" font-weight="bold" fill="#231f20" text-anchor="end" letter-spacing="0.35">9,65</text>
<line x1="880.3" y1="153.2" x2="995.2" y2="153.2" stroke="#6a6a6a" stroke-width="0.80"/>
<text transform="translate(881.2,162.3) scale(0.585,1)" font-size="8.8" font-weight="bold" fill="#231f20" text-anchor="start" letter-spacing="0.35">360</text>
<text transform="translate(901.0,162.3) scale(0.585,1)" font-size="8.8" font-weight="bold" fill="#231f20" text-anchor="start" letter-spacing="0.35">kancelář</text>
<text transform="translate(952.5,162.3) scale(0.585,1)" font-size="8.8" font-weight="bold" fill="#231f20" text-anchor="start" letter-spacing="0.35">5.NP</text>
<text transform="translate(991.4,162.3) scale(0.585,1)" font-size="8.8" font-weight="bold" fill="#231f20" text-anchor="end" letter-spacing="0.35">7,83</text>
<line x1="880.3" y1="162.8" x2="995.2" y2="162.8" stroke="#6a6a6a" stroke-width="0.80"/>
<text transform="translate(881.2,172.0) scale(0.585,1)" font-size="8.8" font-weight="bold" fill="#231f20" text-anchor="start" letter-spacing="0.35">361</text>
<text transform="translate(901.0,172.0) scale(0.585,1)" font-size="8.8" font-weight="bold" fill="#231f20" text-anchor="start" letter-spacing="0.35">kancelář</text>
<text transform="translate(952.5,172.0) scale(0.585,1)" font-size="8.8" font-weight="bold" fill="#231f20" text-anchor="start" letter-spacing="0.35">5.NP</text>
<text transform="translate(991.4,172.0) scale(0.585,1)" font-size="8.8" font-weight="bold" fill="#231f20" text-anchor="end" letter-spacing="0.35">24,16</text>
<line x1="880.3" y1="172.5" x2="995.2" y2="172.5" stroke="#6a6a6a" stroke-width="0.80"/>
<text transform="translate(881.2,181.7) scale(0.585,1)" font-size="8.8" font-weight="bold" fill="#231f20" text-anchor="start" letter-spacing="0.35">362</text>
<text transform="translate(901.0,181.7) scale(0.585,1)" font-size="8.8" font-weight="bold" fill="#231f20" text-anchor="start" letter-spacing="0.35">kancelář</text>
<text transform="translate(952.5,181.7) scale(0.585,1)" font-size="8.8" font-weight="bold" fill="#231f20" text-anchor="start" letter-spacing="0.35">5.NP</text>
<text transform="translate(991.4,181.7) scale(0.585,1)" font-size="8.8" font-weight="bold" fill="#231f20" text-anchor="end" letter-spacing="0.35">24,54</text>
<line x1="880.3" y1="182.2" x2="995.2" y2="182.2" stroke="#6a6a6a" stroke-width="0.80"/>
<text transform="translate(881.2,191.3) scale(0.585,1)" font-size="8.8" font-weight="bold" fill="#231f20" text-anchor="start" letter-spacing="0.35">363a</text>
<text transform="translate(901.0,191.3) scale(0.585,1)" font-size="8.8" font-weight="bold" fill="#231f20" text-anchor="start" letter-spacing="0.35">kancelář</text>
<text transform="translate(952.5,191.3) scale(0.585,1)" font-size="8.8" font-weight="bold" fill="#231f20" text-anchor="start" letter-spacing="0.35">5.NP</text>
<text transform="translate(991.4,191.3) scale(0.585,1)" font-size="8.8" font-weight="bold" fill="#231f20" text-anchor="end" letter-spacing="0.35">17,17</text>
<line x1="880.3" y1="191.8" x2="995.2" y2="191.8" stroke="#6a6a6a" stroke-width="0.80"/>
<text transform="translate(881.2,201.0) scale(0.585,1)" font-size="8.8" font-weight="bold" fill="#231f20" text-anchor="start" letter-spacing="0.35">364</text>
<text transform="translate(901.0,201.0) scale(0.585,1)" font-size="8.8" font-weight="bold" fill="#231f20" text-anchor="start" letter-spacing="0.35">kancelář</text>
<text transform="translate(952.5,201.0) scale(0.585,1)" font-size="8.8" font-weight="bold" fill="#231f20" text-anchor="start" letter-spacing="0.35">5.NP</text>
<text transform="translate(991.4,201.0) scale(0.585,1)" font-size="8.8" font-weight="bold" fill="#231f20" text-anchor="end" letter-spacing="0.35">27,70</text>
<line x1="880.3" y1="201.5" x2="995.2" y2="201.5" stroke="#6a6a6a" stroke-width="0.80"/>
<text transform="translate(881.2,210.6) scale(0.585,1)" font-size="8.8" font-weight="bold" fill="#231f20" text-anchor="start" letter-spacing="0.35">365</text>
<text transform="translate(901.0,210.6) scale(0.585,1)" font-size="8.8" font-weight="bold" fill="#231f20" text-anchor="start" letter-spacing="0.35">kancelář</text>
<text transform="translate(952.5,210.6) scale(0.585,1)" font-size="8.8" font-weight="bold" fill="#231f20" text-anchor="start" letter-spacing="0.35">5.NP</text>
<text transform="translate(991.4,210.6) scale(0.585,1)" font-size="8.8" font-weight="bold" fill="#231f20" text-anchor="end" letter-spacing="0.35">18,41</text>
<line x1="880.3" y1="211.1" x2="995.2" y2="211.1" stroke="#6a6a6a" stroke-width="0.80"/>
<text transform="translate(881.2,220.2) scale(0.585,1)" font-size="8.8" font-weight="bold" fill="#231f20" text-anchor="start" letter-spacing="0.35">366</text>
<text transform="translate(901.0,220.2) scale(0.585,1)" font-size="8.8" font-weight="bold" fill="#231f20" text-anchor="start" letter-spacing="0.35">kancelář</text>
<text transform="translate(952.5,220.2) scale(0.585,1)" font-size="8.8" font-weight="bold" fill="#231f20" text-anchor="start" letter-spacing="0.35">5.NP</text>
<text transform="translate(991.4,220.2) scale(0.585,1)" font-size="8.8" font-weight="bold" fill="#231f20" text-anchor="end" letter-spacing="0.35">25,80</text>
<line x1="880.3" y1="220.8" x2="995.2" y2="220.8" stroke="#6a6a6a" stroke-width="0.80"/>
<text transform="translate(881.2,229.9) scale(0.585,1)" font-size="8.8" font-weight="bold" fill="#231f20" text-anchor="start" letter-spacing="0.35">367</text>
<text transform="translate(901.0,229.9) scale(0.585,1)" font-size="8.8" font-weight="bold" fill="#231f20" text-anchor="start" letter-spacing="0.35">kancelář</text>
<text transform="translate(952.5,229.9) scale(0.585,1)" font-size="8.8" font-weight="bold" fill="#231f20" text-anchor="start" letter-spacing="0.35">5.NP</text>
<text transform="translate(991.4,229.9) scale(0.585,1)" font-size="8.8" font-weight="bold" fill="#231f20" text-anchor="end" letter-spacing="0.35">15,96</text>
<line x1="880.3" y1="230.4" x2="995.2" y2="230.4" stroke="#6a6a6a" stroke-width="0.80"/>
<text transform="translate(881.2,239.6) scale(0.585,1)" font-size="8.8" font-weight="bold" fill="#231f20" text-anchor="start" letter-spacing="0.35">368</text>
<text transform="translate(901.0,239.6) scale(0.585,1)" font-size="8.8" font-weight="bold" fill="#231f20" text-anchor="start" letter-spacing="0.35">kancelář</text>
<text transform="translate(952.5,239.6) scale(0.585,1)" font-size="8.8" font-weight="bold" fill="#231f20" text-anchor="start" letter-spacing="0.35">5.NP</text>
<text transform="translate(991.4,239.6) scale(0.585,1)" font-size="8.8" font-weight="bold" fill="#231f20" text-anchor="end" letter-spacing="0.35">18,05</text>
<line x1="880.3" y1="240.1" x2="995.2" y2="240.1" stroke="#6a6a6a" stroke-width="0.80"/>
<text transform="translate(881.2,249.2) scale(0.585,1)" font-size="8.8" font-weight="bold" fill="#231f20" text-anchor="start" letter-spacing="0.35">369</text>
<text transform="translate(901.0,249.2) scale(0.585,1)" font-size="8.8" font-weight="bold" fill="#231f20" text-anchor="start" letter-spacing="0.35">kancelář</text>
<text transform="translate(952.5,249.2) scale(0.585,1)" font-size="8.8" font-weight="bold" fill="#231f20" text-anchor="start" letter-spacing="0.35">5.NP</text>
<text transform="translate(991.4,249.2) scale(0.585,1)" font-size="8.8" font-weight="bold" fill="#231f20" text-anchor="end" letter-spacing="0.35">10,98</text>
<line x1="880.3" y1="249.7" x2="995.2" y2="249.7" stroke="#6a6a6a" stroke-width="0.80"/>
<text transform="translate(881.2,258.9) scale(0.585,1)" font-size="8.8" font-weight="bold" fill="#231f20" text-anchor="start" letter-spacing="0.35">370</text>
<text transform="translate(901.0,258.9) scale(0.585,1)" font-size="8.8" font-weight="bold" fill="#231f20" text-anchor="start" letter-spacing="0.35">kancelář</text>
<text transform="translate(952.5,258.9) scale(0.585,1)" font-size="8.8" font-weight="bold" fill="#231f20" text-anchor="start" letter-spacing="0.35">5.NP</text>
<text transform="translate(991.4,258.9) scale(0.585,1)" font-size="8.8" font-weight="bold" fill="#231f20" text-anchor="end" letter-spacing="0.35">17,82</text>
<line x1="880.3" y1="259.4" x2="995.2" y2="259.4" stroke="#6a6a6a" stroke-width="0.80"/>
<text transform="translate(881.2,268.5) scale(0.585,1)" font-size="8.8" font-weight="bold" fill="#231f20" text-anchor="start" letter-spacing="0.35">373</text>
<text transform="translate(901.0,268.5) scale(0.585,1)" font-size="8.8" font-weight="bold" fill="#231f20" text-anchor="start" letter-spacing="0.35">sklad</text>
<text transform="translate(952.5,268.5) scale(0.585,1)" font-size="8.8" font-weight="bold" fill="#231f20" text-anchor="start" letter-spacing="0.35">5.NP</text>
<text transform="translate(991.4,268.5) scale(0.585,1)" font-size="8.8" font-weight="bold" fill="#231f20" text-anchor="end" letter-spacing="0.35">25,84</text>
<line x1="880.3" y1="269.0" x2="995.2" y2="269.0" stroke="#6a6a6a" stroke-width="0.80"/>
<text transform="translate(881.2,278.1) scale(0.585,1)" font-size="8.8" font-weight="bold" fill="#231f20" text-anchor="start" letter-spacing="0.35">19</text>
<text transform="translate(901.0,278.1) scale(0.585,1)" font-size="8.8" font-weight="bold" fill="#231f20" text-anchor="start" letter-spacing="0.35">byt 4+1</text>
<text transform="translate(952.5,278.1) scale(0.585,1)" font-size="8.8" font-weight="bold" fill="#231f20" text-anchor="start" letter-spacing="0.35">5.NP</text>
<text transform="translate(991.4,278.1) scale(0.585,1)" font-size="8.8" font-weight="bold" fill="#231f20" text-anchor="end" letter-spacing="0.35">124,06</text>
<line x1="880.3" y1="278.6" x2="995.2" y2="278.6" stroke="#6a6a6a" stroke-width="0.80"/>
<text transform="translate(881.2,287.8) scale(0.585,1)" font-size="8.8" font-weight="bold" fill="#231f20" text-anchor="start" letter-spacing="0.35">20</text>
<text transform="translate(901.0,287.8) scale(0.585,1)" font-size="8.8" font-weight="bold" fill="#231f20" text-anchor="start" letter-spacing="0.35">byt&#160; 2+1</text>
<text transform="translate(952.5,287.8) scale(0.585,1)" font-size="8.8" font-weight="bold" fill="#231f20" text-anchor="start" letter-spacing="0.35">5.NP</text>
<text transform="translate(991.4,287.8) scale(0.585,1)" font-size="8.8" font-weight="bold" fill="#231f20" text-anchor="end" letter-spacing="0.35">96,91</text>
<line x1="880.3" y1="288.3" x2="995.2" y2="288.3" stroke="#6a6a6a" stroke-width="0.80"/>
<text transform="translate(881.2,297.4) scale(0.585,1)" font-size="8.8" font-weight="bold" fill="#231f20" text-anchor="start" letter-spacing="0.35">21</text>
<text transform="translate(901.0,297.4) scale(0.585,1)" font-size="8.8" font-weight="bold" fill="#231f20" text-anchor="start" letter-spacing="0.35">byt 4+1</text>
<text transform="translate(952.5,297.4) scale(0.585,1)" font-size="8.8" font-weight="bold" fill="#231f20" text-anchor="start" letter-spacing="0.35">5.NP</text>
<text transform="translate(991.4,297.4) scale(0.585,1)" font-size="8.8" font-weight="bold" fill="#231f20" text-anchor="end" letter-spacing="0.35">112,84</text>
<line x1="880.3" y1="297.9" x2="995.2" y2="297.9" stroke="#6a6a6a" stroke-width="0.80"/>
<text transform="translate(881.2,307.1) scale(0.585,1)" font-size="8.8" font-weight="bold" fill="#231f20" text-anchor="start" letter-spacing="0.35">22</text>
<text transform="translate(901.0,307.1) scale(0.585,1)" font-size="8.8" font-weight="bold" fill="#231f20" text-anchor="start" letter-spacing="0.35">byt 1+1</text>
<text transform="translate(952.5,307.1) scale(0.585,1)" font-size="8.8" font-weight="bold" fill="#231f20" text-anchor="start" letter-spacing="0.35">5.NP</text>
<text transform="translate(991.4,307.1) scale(0.585,1)" font-size="8.8" font-weight="bold" fill="#231f20" text-anchor="end" letter-spacing="0.35">66,96</text>
<line x1="880.3" y1="307.6" x2="995.2" y2="307.6" stroke="#6a6a6a" stroke-width="0.80"/>
<text transform="translate(881.2,316.8) scale(0.585,1)" font-size="8.8" font-weight="bold" fill="#231f20" text-anchor="start" letter-spacing="0.35">29</text>
<text transform="translate(901.0,316.8) scale(0.585,1)" font-size="8.8" font-weight="bold" fill="#231f20" text-anchor="start" letter-spacing="0.35">byt 2+1</text>
<text transform="translate(952.5,316.8) scale(0.585,1)" font-size="8.8" font-weight="bold" fill="#231f20" text-anchor="start" letter-spacing="0.35">5.NP</text>
<text transform="translate(991.4,316.8) scale(0.585,1)" font-size="8.8" font-weight="bold" fill="#231f20" text-anchor="end" letter-spacing="0.35">83,20</text>
<rect x="880.3" y="30.4" width="114.9" height="286.9" fill="none" stroke="#444" stroke-width="1.1"/>
<line x1="897.2" y1="30.4" x2="897.2" y2="317.2" stroke="#333" stroke-width="0.90"/>
<line x1="949.3" y1="30.4" x2="949.3" y2="317.2" stroke="#333" stroke-width="0.90"/>
<line x1="971.4" y1="30.4" x2="971.4" y2="317.2" stroke="#333" stroke-width="0.90"/>
</svg></body></html>
